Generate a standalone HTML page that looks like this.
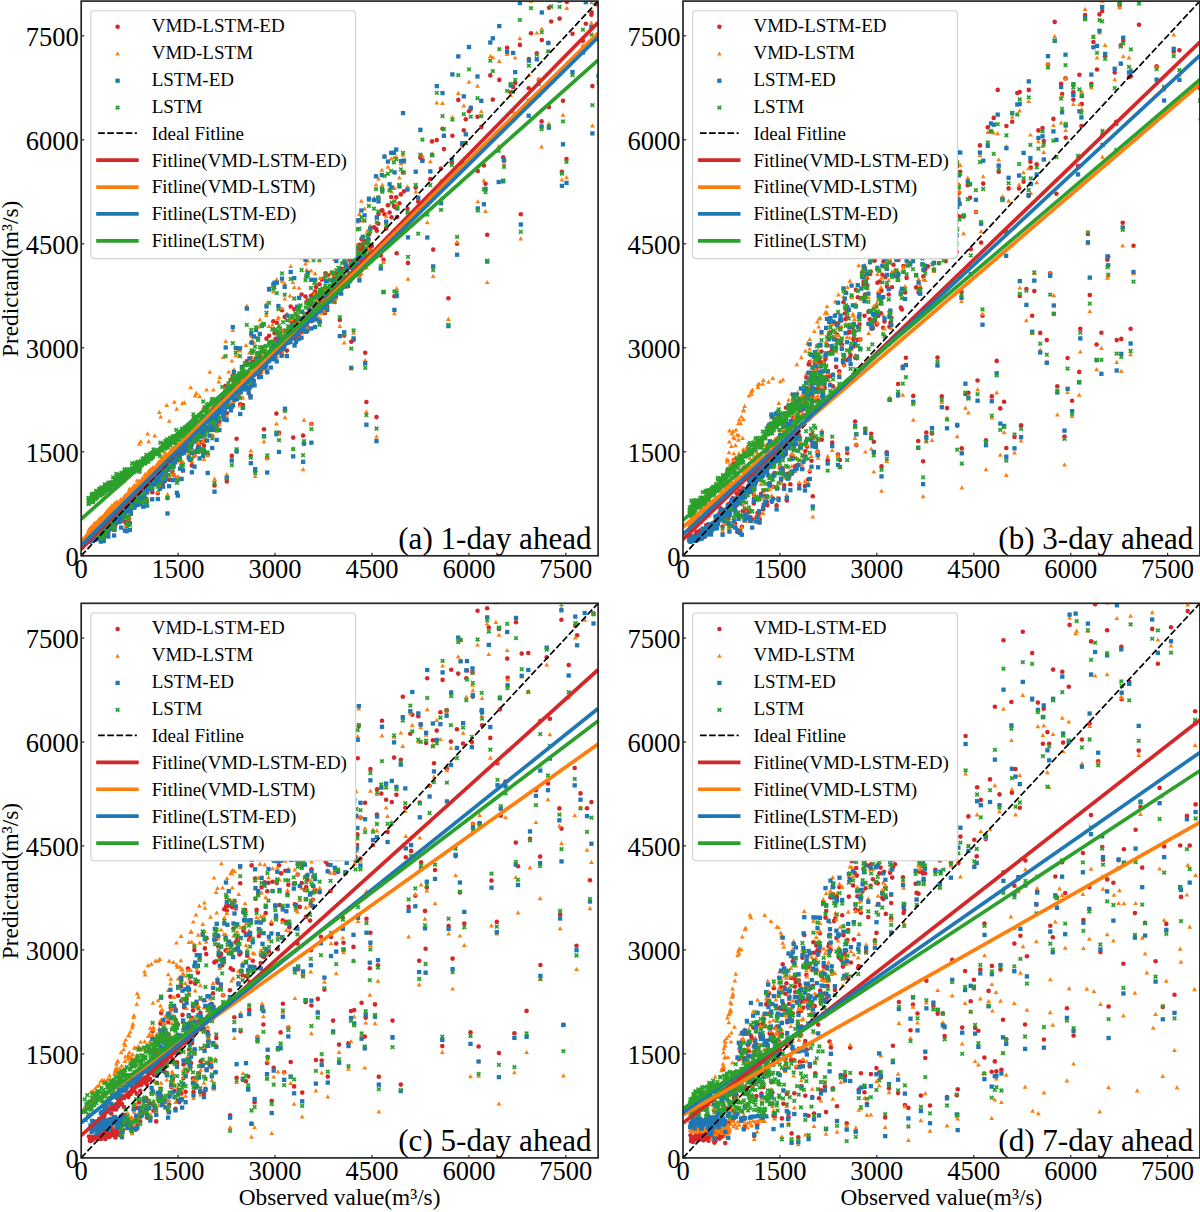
<!DOCTYPE html><html><head><meta charset="utf-8"><style>html,body{margin:0;padding:0;background:#fff;overflow:hidden}svg{display:block}text{font-family:"Liberation Serif",serif;fill:#000}</style></head><body><svg width="1200" height="1212" viewBox="0 0 1200 1212"><defs><marker id="mr" markerUnits="userSpaceOnUse" markerWidth="8" markerHeight="8" refX="4" refY="4" overflow="visible"><circle cx="4" cy="4" r="2.3" fill="#d62728"/></marker><marker id="mo" markerUnits="userSpaceOnUse" markerWidth="8" markerHeight="8" refX="4" refY="4" overflow="visible"><path d="M4 1.8L6.4 6H1.6Z" fill="#ff7f0e"/></marker><marker id="mb" markerUnits="userSpaceOnUse" markerWidth="8" markerHeight="8" refX="4" refY="4" overflow="visible"><rect x="1.85" y="1.85" width="4.3" height="4.3" fill="#1f77b4"/></marker><marker id="mg" markerUnits="userSpaceOnUse" markerWidth="8" markerHeight="8" refX="4" refY="4" overflow="visible"><path d="M2.2 2.2L5.8 5.8M5.8 2.2L2.2 5.8" stroke="#2ca02c" stroke-width="1.7"/></marker><clipPath id="cla"><rect x="81.2" y="1.1" width="516.9" height="554.7"/></clipPath><clipPath id="clb"><rect x="683.0" y="1.1" width="516.9" height="554.7"/></clipPath><clipPath id="clc"><rect x="81.2" y="603.3" width="516.9" height="554.6"/></clipPath><clipPath id="cld"><rect x="683.0" y="603.3" width="516.9" height="554.6"/></clipPath></defs><g clip-path="url(#cla)"><polyline fill="none" stroke="none" marker-start="url(#mr)" marker-mid="url(#mr)" marker-end="url(#mr)" points="192.1,439.7 181.9,449.2 122.9,515.3 186.1,447.4 179.7,452.3 170.4,462.1 144.4,490.6 115.6,520.9 140.0,493.9 132.6,502.8 121.6,510.9 126.3,506.8 144.3,488.6 162.6,468.6 104.7,531.3 112.0,522.7 125.7,505.9 92.5,538.2 163.1,466.0 105.8,532.4 197.0,433.2 154.3,475.4 89.9,540.1 122.2,514.4 129.4,506.8 88.7,541.4 136.3,499.7 121.9,515.2 197.4,433.2 183.6,447.4 185.1,449.0 111.2,522.8 138.5,497.3 135.3,504.2 160.3,467.5 93.2,537.4 133.0,503.8 145.1,490.4 137.2,499.1 166.8,464.6 192.4,437.9 156.9,477.9 161.6,473.2 112.4,527.2 152.6,477.9 176.7,453.1 126.9,510.7 116.2,517.4 110.6,525.1 178.1,454.5 157.1,474.8 192.8,437.8 100.6,532.9 88.4,540.8 109.6,523.4 107.1,529.3 123.3,513.6 191.0,439.0 127.4,508.5 129.9,506.0 162.0,468.4 93.0,539.8 186.8,443.5 165.2,467.6 94.5,536.0 147.1,489.6 91.2,539.3 117.5,517.8 190.5,436.7 118.2,516.1 106.9,530.7 107.5,529.3 113.3,522.5 109.1,527.7 154.8,477.0 183.8,445.5 159.4,474.4 114.4,519.7 165.6,465.2 146.0,488.0 189.6,444.4 182.6,450.3 147.7,485.4 185.9,444.9 88.9,539.4 90.8,540.3 128.8,506.7 178.4,453.3 119.1,516.2 135.7,500.9 170.1,459.8 178.7,454.2 172.9,458.6 141.0,496.7 167.2,466.7 131.8,502.3 108.4,525.9 194.2,437.4 190.1,442.1 129.6,505.9 145.5,485.4 92.7,538.2 94.6,538.2 91.0,539.0 137.0,497.6 115.8,523.8 125.2,512.8 195.0,438.3 89.2,540.5 179.0,454.0 150.0,480.8 148.5,483.7 88.5,541.0 180.9,451.8 117.8,515.0 150.5,483.9 152.8,476.4 99.3,533.3 176.3,456.5 103.8,530.5 103.6,535.2 101.7,533.5 173.9,459.5 89.1,539.7 167.8,467.4 185.5,449.4 187.2,441.3 177.5,457.5 119.7,516.8 195.3,438.1 102.5,533.3 122.7,513.6 176.2,453.8 136.1,500.9 139.0,496.1 112.6,526.2 175.9,460.4 109.3,525.6 158.4,476.9 133.8,502.8 96.3,537.9 146.3,483.7 99.1,535.1 134.2,503.5 89.4,540.1 156.0,474.4 134.0,500.3 104.2,530.9 193.4,435.7 107.8,531.7 157.8,475.0 129.0,505.2 119.5,516.0 121.5,512.0 195.8,435.4 108.8,530.0 126.1,508.8 90.4,540.9 105.2,533.2 139.2,495.1 175.0,454.2 95.3,538.8 169.5,461.3 128.1,507.9 164.0,467.6 91.9,539.2 88.7,541.1 142.1,492.7 98.5,534.1 161.0,472.0 143.9,490.1 134.8,499.5 93.3,538.1 142.5,489.3 166.6,468.4 155.6,480.3 141.6,495.1 96.7,538.5 155.3,475.0 151.9,476.9 98.3,534.6 93.7,538.5 100.0,535.0 153.5,481.1 132.1,503.5 113.5,522.9 91.5,539.9 140.8,496.0 114.9,525.2 118.9,516.3 131.4,507.6 160.6,472.8 124.6,508.9 92.0,538.8 123.6,515.3 100.1,533.4 108.6,526.6 90.7,538.0 138.1,497.3 113.9,521.7 109.9,528.5 97.6,533.4 158.4,473.0 111.4,526.7 104.9,528.4 146.9,485.0 120.1,516.1 189.2,440.5 180.5,452.8 100.9,535.3 154.9,478.5 184.9,446.6 89.9,540.0 131.0,501.8 169.9,462.9 149.5,485.6 157.4,479.0 110.2,527.0 184.3,450.6 106.5,525.7 91.7,539.6 164.4,469.1 194.6,434.7 173.5,459.1 93.9,538.0 100.4,536.5 97.2,535.4 149.6,483.5 89.7,540.3 97.0,538.0 153.1,482.8 101.6,534.5 183.3,450.1 162.8,466.9 125.4,511.0 146.5,484.9 171.5,459.5 111.8,525.7 102.2,531.9 115.3,520.3 139.7,496.2 148.9,487.5 130.7,503.1 105.3,528.7 136.6,499.9 114.1,521.9 143.2,489.4 172.2,463.7 120.9,517.7 169.1,462.9 173.2,458.6 96.1,536.4 94.1,538.7 118.7,516.2 103.3,531.6 168.1,464.4 193.2,437.5 95.5,538.4 175.2,456.4 163.8,469.0 104.0,533.7 151.2,485.5 95.9,537.0 124.1,509.3 92.2,538.8 148.5,485.5 170.8,459.7 130.2,506.0 196.6,435.4 189.0,440.1 188.0,444.0 132.2,502.5 150.6,483.5 196.1,433.3 187.8,441.8 90.1,540.3 182.9,449.8 162.0,471.5 143.6,493.0 191.5,439.5 123.9,510.7 95.1,537.3 142.7,490.2 120.8,518.7 168.2,468.1 116.3,519.6 101.3,535.3 96.6,535.8 117.0,519.3 159.7,476.8 113.0,516.8 179.3,455.3 124.9,511.4 174.7,455.3 168.8,466.8 110.9,524.3 174.4,453.5 164.8,467.5 193.9,437.6 180.2,453.7 106.2,529.2 151.3,481.3 94.8,536.9 108.1,529.3 128.3,506.2 177.0,453.5 98.9,534.0 190.9,441.1 117.4,517.0 102.1,531.5 148.1,486.9 158.8,476.5 186.9,442.1 120.3,515.3 188.7,442.6 133.3,501.9 159.9,474.7 127.7,505.9 165.5,464.8 145.0,489.8 172.3,458.2 116.8,520.8 126.8,505.0 105.9,532.0 102.8,533.4 140.6,494.1 166.2,468.7 134.8,501.2 171.3,459.9 141.6,492.2 98.1,536.0 97.7,535.3 156.3,479.7 99.6,533.4 182.0,449.9 152.2,480.0 181.2,451.2 137.5,498.3 138.3,491.9 154.0,480.8 153.8,480.5 194.0,435.1 199.8,431.6 156.0,479.8 143.3,499.5 167.5,498.1 174.6,458.4 157.9,493.1 205.1,440.9 216.7,428.7 203.1,452.9 199.6,449.1 116.9,518.7 191.9,465.4 210.6,423.9 170.0,463.4 137.2,497.1 130.8,512.7 127.8,520.6 198.2,446.6 121.2,521.3 146.3,498.8 209.6,430.1 103.7,539.0 190.0,452.9 185.2,446.2 176.9,478.2 124.9,522.0 107.0,530.8 162.1,474.2 100.8,540.2 181.6,465.1 126.6,526.4 140.9,494.9 136.8,502.6 171.3,465.3 141.3,499.3 114.6,525.8 121.5,512.1 204.9,426.7 183.0,470.4 177.8,477.8 98.1,535.8 160.6,476.4 214.6,424.8 148.4,486.0 180.1,460.7 109.9,526.5 150.3,488.4 128.6,517.4 159.7,485.2 164.8,473.9 155.4,478.7 179.6,455.0 132.1,506.7 147.0,500.8 163.1,483.1 194.5,455.8 183.9,449.7 118.7,516.1 151.4,486.5 152.2,492.2 105.0,533.3 108.3,532.8 188.8,455.9 135.9,501.9 207.1,430.1 112.9,520.7 169.1,479.8 212.2,436.0 98.9,534.5 186.6,450.2 173.5,474.7 207.7,454.2 172.4,471.3 101.7,537.0 196.0,438.6 134.3,506.8 114.1,530.0 166.0,473.2 213.4,420.9 144.4,490.0 110.7,527.1 138.8,496.4 105.8,533.0 129.9,522.9 202.1,441.9 117.9,519.1 122.7,514.1 190.9,445.1 331.4,291.3 211.9,414.8 275.6,338.8 225.5,396.5 352.1,259.6 307.6,314.1 308.8,309.5 267.1,372.2 354.0,253.9 272.3,342.0 362.5,251.5 345.1,268.6 356.9,266.6 363.9,255.4 286.0,337.1 224.6,408.7 280.0,340.5 242.0,372.9 371.0,257.3 336.6,282.4 335.8,297.4 294.6,338.4 316.6,312.3 240.8,386.8 267.8,355.8 278.9,336.7 223.9,416.8 325.3,294.8 366.5,259.4 223.2,410.3 341.2,283.1 302.6,323.1 218.8,410.3 249.5,387.7 199.7,431.3 303.2,326.2 317.0,294.8 368.3,239.3 240.2,404.4 221.4,409.2 252.2,362.3 318.1,310.5 360.0,249.0 348.8,273.6 326.1,275.6 234.5,394.8 247.7,379.0 209.8,426.3 227.7,401.0 194.3,435.6 307.2,326.6 365.5,251.2 256.8,370.6 314.4,296.8 334.0,281.6 313.6,310.5 256.2,369.1 281.3,341.9 296.0,335.3 320.2,300.4 355.6,261.4 196.7,437.3 290.1,338.7 300.0,324.0 304.3,318.8 242.9,384.2 329.8,295.1 298.9,319.5 291.1,321.3 303.7,327.7 259.9,369.5 220.8,408.1 319.0,299.2 287.6,339.9 332.8,288.7 219.4,421.7 259.0,375.5 301.5,332.2 288.1,335.6 370.1,248.7 345.8,263.2 311.7,303.5 339.3,278.7 236.9,390.4 282.7,344.7 216.2,411.4 231.9,395.8 270.4,351.3 320.0,300.2 283.1,330.7 262.3,361.4 212.8,408.5 269.0,358.6 261.6,360.3 284.2,339.8 268.9,352.7 208.0,420.8 322.6,300.2 329.0,296.1 315.8,304.2 208.5,414.8 244.0,385.0 293.6,326.7 297.8,330.8 206.5,418.6 248.7,389.3 321.3,304.4 207.1,413.0 191.8,443.2 243.6,381.2 218.1,412.2 257.7,363.4 226.7,413.2 275.1,356.4 246.9,375.5 203.8,431.3 359.4,274.8 334.4,283.6 337.4,281.4 246.8,387.2 291.8,325.3 229.1,404.8 251.0,375.7 254.6,374.4 225.8,399.0 343.2,280.1 277.8,346.8 293.1,324.5 286.9,350.6 347.0,267.8 264.0,361.7 309.4,315.7 324.5,291.6 290.2,338.8 321.8,301.3 203.2,416.4 350.9,268.0 285.1,338.5 365.8,255.6 335.7,283.3 295.3,321.0 298.7,334.4 353.0,258.3 327.0,302.7 311.3,321.1 238.6,394.1 239.2,383.1 289.1,337.0 197.7,448.4 236.4,393.4 353.2,266.9 270.8,358.0 250.5,396.1 195.2,441.9 281.6,353.4 233.1,397.2 193.4,427.2 361.3,267.7 205.9,421.2 315.0,316.3 331.9,272.8 300.6,318.2 264.5,361.2 330.5,297.0 342.7,279.5 199.1,423.5 253.6,380.9 258.0,357.6 340.0,269.6 202.4,431.2 367.7,248.5 214.4,412.5 230.8,397.8 312.5,318.0 371.9,246.0 306.3,313.9 350.2,273.2 360.3,259.9 273.2,342.2 261.0,372.0 262.7,368.8 213.6,424.5 297.2,325.2 211.3,417.9 201.6,424.9 245.4,375.6 346.4,286.4 369.3,258.6 276.8,344.9 200.9,422.1 217.8,412.2 272.0,356.1 327.2,306.8 204.8,420.5 323.7,297.4 265.1,360.4 349.4,277.5 279.7,339.4 233.7,384.4 358.3,253.6 255.0,360.7 222.4,397.6 196.5,432.7 276.7,353.5 228.4,396.0 193.6,435.3 338.4,277.2 342.0,273.1 232.4,380.1 216.7,411.1 266.1,354.2 273.9,351.5 362.8,248.0 235.7,384.3 237.8,378.3 328.2,293.4 230.4,387.2 191.9,452.8 355.2,256.1 344.4,276.7 210.0,419.7 310.5,304.8 305.8,322.3 214.8,419.7 357.1,258.2 348.1,281.7 198.8,444.5 244.8,375.5 364.8,261.2 252.5,380.0 299.1,319.9 357.4,247.5 341.1,268.5 307.8,300.2 274.5,333.1 389.6,212.5 279.9,336.0 387.9,205.2 289.2,330.7 261.7,347.5 352.3,243.7 232.8,376.1 397.2,217.0 315.9,287.1 228.0,394.1 284.7,316.9 246.8,361.2 374.0,227.3 278.4,334.2 343.0,253.2 311.0,295.7 336.3,273.5 370.3,245.3 251.3,358.2 225.7,385.8 330.3,286.4 306.6,302.6 315.1,291.6 396.2,197.3 287.1,330.8 302.3,319.2 290.7,306.6 292.5,321.6 381.9,210.5 251.6,364.3 256.0,358.6 266.5,338.6 361.4,239.0 319.4,284.3 297.2,314.9 271.3,352.9 240.0,373.6 350.3,251.9 294.2,309.1 301.6,294.5 327.0,289.9 305.5,296.5 225.0,408.6 259.8,355.7 355.6,251.3 367.3,243.2 269.1,335.7 325.5,273.4 238.4,377.3 364.6,240.9 233.9,388.7 338.8,257.1 320.0,294.4 313.5,294.2 258.0,353.3 376.8,230.7 359.3,244.7 249.4,374.2 328.0,275.2 253.9,366.4 334.4,277.2 404.0,191.3 263.6,350.8 349.3,259.8 321.9,279.6 344.3,280.5 384.5,214.3 400.9,194.4 273.3,321.3 230.4,393.5 276.8,322.7 393.9,205.7 245.4,380.1 376.0,228.7 333.3,284.8 391.6,217.2 235.8,379.0 378.3,223.8 282.0,310.2 241.9,379.6 368.9,234.5 346.2,265.4 362.8,245.2 399.4,203.2 382.3,210.4 344.2,335.6 325.0,313.0 334.4,301.5 226.8,481.4 339.8,320.0 353.6,339.9 285.0,410.1 276.4,413.6 311.4,424.0 365.2,352.8 351.3,341.7 376.5,417.1 279.0,432.9 293.2,437.6 214.5,485.4 319.6,321.9 303.1,435.6 264.0,429.3 255.2,471.3 242.9,405.1 217.3,425.2 204.0,445.8 250.8,455.9 366.4,402.0 231.8,455.9 236.6,438.7 304.0,443.3 267.2,458.2 415.7,187.6 481.3,127.1 507.1,47.8 499.3,79.9 566.8,2.0 442.5,128.8 585.8,23.8 582.9,-17.2 536.8,53.2 458.3,99.9 513.1,87.0 596.2,4.3 386.2,228.4 469.0,111.3 541.8,40.1 432.1,141.4 443.9,149.1 559.6,18.6 490.3,75.4 407.5,208.8 391.2,197.0 378.5,213.9 436.8,140.1 420.4,157.8 576.5,-16.6 600.3,-24.4 510.7,92.2 519.9,44.9 463.8,130.2 551.2,21.5 591.6,12.4 422.4,160.0 549.1,7.7 492.8,99.6 528.9,59.1 531.0,33.3 569.5,-14.3 394.6,206.9 452.4,135.7 470.8,108.9 403.0,172.4 477.5,116.7 503.2,157.2 441.0,168.5 477.8,171.0 572.5,33.7 538.9,79.9 498.7,132.4 548.9,107.1 427.3,204.5 598.6,39.2 402.2,233.1 548.3,43.1 451.8,162.8 515.2,83.0 563.0,100.7 528.7,88.3 396.7,253.3 462.3,144.9 483.9,165.5 380.8,255.5 418.2,201.6 582.9,40.8 591.4,14.8 465.8,119.3 383.5,259.8 430.3,179.1 487.2,234.8 541.6,121.4 566.5,159.0 504.0,160.6 561.9,171.9 408.0,262.9 457.1,243.8 485.5,183.7 448.4,298.3 394.4,296.3 592.4,86.1 433.2,249.6 520.8,214.3"/><polyline fill="none" stroke="none" marker-start="url(#mo)" marker-mid="url(#mo)" marker-end="url(#mo)" points="192.1,431.7 181.9,441.8 122.9,499.4 186.1,436.2 179.7,440.1 170.4,454.1 144.4,477.5 115.6,507.5 140.0,484.1 132.6,492.7 121.6,500.2 126.3,499.6 144.3,477.8 162.6,459.2 104.7,514.6 112.0,507.3 125.7,495.0 92.5,529.1 163.1,458.3 105.8,516.7 197.0,430.4 154.3,468.7 89.9,531.7 122.2,499.9 129.4,489.5 88.7,534.6 136.3,486.0 121.9,501.7 197.4,426.7 183.6,442.3 185.1,439.6 111.2,507.7 138.5,484.1 135.3,488.2 160.3,460.1 93.2,528.2 133.0,494.5 145.1,479.5 137.2,487.7 166.8,456.5 192.4,428.8 156.9,465.4 161.6,462.7 112.4,510.4 152.6,469.0 176.7,446.2 126.9,496.2 116.2,502.8 110.6,510.4 178.1,445.8 157.1,465.0 192.8,429.3 100.6,520.3 88.4,531.2 109.6,510.0 107.1,515.7 123.3,500.3 191.0,431.6 127.4,493.5 129.9,492.3 162.0,459.2 93.0,528.2 186.8,434.7 165.2,452.1 94.5,522.8 147.1,474.5 91.2,527.3 117.5,504.1 190.5,430.8 118.2,503.0 106.9,511.0 107.5,514.1 113.3,508.4 109.1,508.1 154.8,467.2 183.8,439.1 159.4,464.4 114.4,503.3 165.6,455.3 146.0,477.3 189.6,430.8 182.6,441.3 147.7,474.3 185.9,436.4 88.9,529.5 90.8,530.9 128.8,491.8 178.4,444.8 119.1,503.8 135.7,486.5 170.1,455.1 178.7,446.2 172.9,450.2 141.0,483.8 167.2,454.7 131.8,493.5 108.4,511.9 194.2,429.2 190.1,431.8 129.6,488.5 145.5,479.4 92.7,527.4 94.6,525.3 91.0,528.6 137.0,480.4 115.8,507.6 125.2,499.8 195.0,431.2 89.2,530.1 179.0,445.4 150.0,474.2 148.5,471.1 88.5,531.6 180.9,442.9 117.8,502.8 150.5,469.0 152.8,467.2 99.3,523.7 176.3,443.2 103.8,517.2 103.6,516.4 101.7,520.4 173.9,451.5 89.1,530.3 167.8,458.3 185.5,440.4 187.2,436.0 177.5,447.6 119.7,503.1 195.3,426.7 102.5,517.0 122.7,499.1 176.2,445.9 136.1,489.9 139.0,480.6 112.6,508.8 175.9,449.2 109.3,511.2 158.4,462.0 133.8,485.8 96.3,524.3 146.3,475.6 99.1,524.0 134.2,489.4 89.4,528.9 156.0,465.8 134.0,488.6 104.2,519.1 193.4,430.1 107.8,513.5 157.8,468.0 129.0,494.2 119.5,507.2 121.5,501.4 195.8,429.2 108.8,517.3 126.1,497.3 90.4,532.3 105.2,520.0 139.2,485.8 175.0,446.6 95.3,523.5 169.5,455.8 128.1,494.1 164.0,459.5 91.9,526.4 88.7,533.3 142.1,481.8 98.5,520.1 161.0,462.4 143.9,479.2 134.8,485.1 93.3,528.7 142.5,478.2 166.6,459.2 155.6,469.3 141.6,481.2 96.7,523.5 155.3,467.6 151.9,473.9 98.3,520.6 93.7,527.3 100.0,518.8 153.5,470.8 132.1,488.1 113.5,506.1 91.5,529.2 140.8,481.7 114.9,509.1 118.9,506.0 131.4,490.4 160.6,462.5 124.6,497.2 92.0,527.7 123.6,500.5 100.1,517.8 108.6,509.7 90.7,528.8 138.1,485.4 113.9,504.2 109.9,511.1 97.6,525.7 158.4,466.7 111.4,509.9 104.9,514.6 146.9,479.0 120.1,500.5 189.2,434.8 180.5,445.2 100.9,520.5 154.9,471.6 184.9,438.4 89.9,528.5 131.0,493.6 169.9,456.5 149.5,471.4 157.4,466.7 110.2,512.3 184.3,438.9 106.5,514.4 91.7,526.1 164.4,458.1 194.6,429.0 173.5,447.6 93.9,529.4 100.4,524.6 97.2,521.4 149.6,472.6 89.7,532.0 97.0,523.7 153.1,468.5 101.6,518.7 183.3,438.4 162.8,457.0 125.4,495.2 146.5,475.8 171.5,451.0 111.8,505.5 102.2,520.4 115.3,507.0 139.7,481.8 148.9,471.2 130.7,490.0 105.3,513.1 136.6,484.9 114.1,507.4 143.2,480.7 172.2,451.8 120.9,504.8 169.1,454.3 173.2,450.4 96.1,524.0 94.1,525.9 118.7,504.6 103.3,521.8 168.1,457.2 193.2,427.7 95.5,530.2 175.2,449.3 163.8,460.6 104.0,516.5 151.2,473.4 95.9,524.9 124.1,496.6 92.2,527.5 148.5,476.7 170.8,450.9 130.2,494.7 196.6,424.5 189.0,434.9 188.0,438.0 132.2,488.5 150.6,470.6 196.1,426.9 187.8,432.9 90.1,530.1 182.9,441.4 162.0,459.4 143.6,479.0 191.5,432.5 123.9,499.7 95.1,525.0 142.7,478.3 120.8,499.3 168.2,460.8 116.3,504.8 101.3,519.5 96.6,523.2 117.0,501.5 159.7,464.5 113.0,505.9 179.3,442.6 124.9,498.9 174.7,451.1 168.8,453.0 110.9,512.4 174.4,448.0 164.8,454.6 193.9,428.0 180.2,443.3 106.2,515.9 151.3,469.4 94.8,523.8 108.1,513.2 128.3,496.9 177.0,444.8 98.9,519.8 190.9,429.2 117.4,504.8 102.1,517.1 148.1,473.9 158.8,467.1 186.9,433.3 120.3,502.9 188.7,432.9 133.3,489.1 159.9,464.5 127.7,496.0 165.5,458.2 145.0,474.0 172.3,449.0 116.8,503.3 126.8,495.1 105.9,514.0 102.8,516.2 140.6,481.7 166.2,457.5 134.8,489.5 171.3,449.5 141.6,483.1 98.1,524.9 97.7,524.3 156.3,467.0 99.6,521.7 182.0,439.7 152.2,470.6 181.2,444.2 137.5,485.3 138.3,484.9 154.0,470.7 153.8,476.2 194.0,438.7 199.8,434.0 156.0,475.6 143.3,502.0 167.5,494.3 174.6,454.5 157.9,491.4 205.1,437.4 216.7,430.8 203.1,441.0 199.6,446.2 116.9,514.9 191.9,460.9 210.6,417.5 170.0,462.4 137.2,494.6 130.8,509.3 127.8,516.9 198.2,440.9 121.2,520.4 146.3,492.8 209.6,425.4 103.7,538.5 190.0,444.8 185.2,443.9 176.9,477.6 124.9,518.1 107.0,531.4 162.1,467.2 100.8,536.2 181.6,466.8 126.6,525.3 140.9,490.2 136.8,492.9 171.3,461.7 141.3,499.3 114.6,521.0 121.5,512.6 204.9,424.5 183.0,461.8 177.8,476.3 98.1,534.9 160.6,473.7 214.6,418.4 148.4,484.8 180.1,461.3 109.9,523.2 150.3,488.5 128.6,518.4 159.7,485.2 164.8,473.8 155.4,476.9 179.6,451.8 132.1,503.8 147.0,499.7 163.1,479.3 194.5,455.0 183.9,445.2 118.7,517.0 151.4,479.0 152.2,486.8 105.0,528.3 108.3,532.9 188.8,453.4 135.9,494.9 207.1,429.6 112.9,524.8 169.1,476.3 212.2,435.2 98.9,531.9 186.6,442.4 173.5,474.1 207.7,455.3 172.4,470.2 101.7,537.7 196.0,429.3 134.3,501.0 114.1,526.0 166.0,467.3 213.4,424.4 144.4,488.9 110.7,524.3 138.8,498.5 105.8,530.7 129.9,517.6 202.1,430.2 117.9,518.5 122.7,510.1 190.9,443.8 174.3,401.7 246.0,345.1 281.9,308.1 277.9,318.6 206.6,389.6 196.3,393.0 259.9,319.5 292.9,282.1 268.7,326.1 160.7,416.6 182.4,402.9 250.6,341.7 154.8,435.4 238.0,349.2 223.3,357.0 219.7,376.9 228.7,371.6 148.7,441.2 139.2,443.8 140.8,441.3 209.8,371.7 272.5,324.6 290.0,295.4 190.7,387.3 239.1,355.2 266.3,315.1 184.5,402.4 284.8,298.4 159.3,412.0 218.8,381.5 213.4,389.6 255.7,337.3 166.7,405.0 199.6,396.3 169.2,420.7 252.1,340.2 195.1,395.4 176.8,408.8 147.6,433.5 231.9,360.6 331.4,287.6 211.9,410.4 275.6,344.3 225.5,398.6 352.1,264.9 307.6,318.8 308.8,317.4 267.1,368.2 354.0,257.2 272.3,340.9 362.5,253.9 345.1,266.2 356.9,268.1 363.9,257.4 286.0,333.0 224.6,404.1 280.0,336.4 242.0,379.6 371.0,260.6 336.6,288.3 335.8,297.6 294.6,345.8 316.6,315.3 240.8,388.2 267.8,360.5 278.9,336.7 223.9,409.6 325.3,285.6 366.5,267.5 223.2,404.2 341.2,285.6 302.6,329.8 218.8,405.3 249.5,376.2 199.7,427.2 303.2,328.2 317.0,299.6 368.3,247.5 240.2,405.6 221.4,402.1 252.2,357.9 318.1,305.2 360.0,256.5 348.8,272.8 326.1,280.6 234.5,395.9 247.7,372.1 209.8,427.9 227.7,403.5 194.3,429.5 307.2,327.2 365.5,256.2 256.8,365.0 314.4,293.6 334.0,287.7 313.6,310.3 256.2,361.4 281.3,342.1 296.0,333.9 320.2,306.4 355.6,261.0 196.7,431.5 290.1,332.8 300.0,322.0 304.3,322.0 242.9,380.8 329.8,297.4 298.9,322.2 291.1,319.2 303.7,325.0 259.9,364.5 220.8,407.1 319.0,301.8 287.6,337.3 332.8,291.5 219.4,424.6 259.0,368.2 301.5,329.3 288.1,338.1 370.1,259.4 345.8,265.9 311.7,312.4 339.3,280.4 236.9,389.0 282.7,353.4 216.2,408.8 231.9,402.7 270.4,356.0 320.0,297.6 283.1,330.5 262.3,352.8 212.8,405.5 269.0,355.9 261.6,362.9 284.2,343.2 268.9,351.7 208.0,419.3 322.6,302.3 329.0,296.6 315.8,306.6 208.5,408.0 244.0,385.2 293.6,326.9 297.8,328.0 206.5,415.3 248.7,391.5 321.3,313.3 207.1,412.3 191.8,435.9 243.6,376.8 218.1,409.0 257.7,355.4 226.7,416.1 275.1,359.2 246.9,379.9 203.8,429.0 359.4,276.8 334.4,287.1 337.4,284.4 246.8,382.8 291.8,330.3 229.1,404.2 251.0,381.2 254.6,373.1 225.8,398.1 343.2,283.4 277.8,341.9 293.1,324.6 286.9,354.7 347.0,264.1 264.0,361.8 309.4,315.0 324.5,289.0 290.2,340.8 321.8,298.6 203.2,407.5 350.9,262.4 285.1,343.0 365.8,256.5 335.7,284.4 295.3,332.9 298.7,331.7 353.0,256.5 327.0,297.1 311.3,319.6 238.6,392.7 239.2,377.1 289.1,336.9 197.7,449.9 236.4,386.1 353.2,265.7 270.8,352.2 250.5,397.9 195.2,442.0 281.6,354.6 233.1,401.1 193.4,428.4 361.3,273.0 205.9,427.6 315.0,318.8 331.9,273.4 300.6,317.8 264.5,359.1 330.5,300.2 342.7,273.8 199.1,422.6 253.6,374.6 258.0,359.3 340.0,275.0 202.4,427.4 367.7,248.5 214.4,416.4 230.8,405.0 312.5,313.6 371.9,249.9 306.3,315.5 350.2,275.2 360.3,267.1 273.2,343.9 261.0,370.9 262.7,368.7 213.6,411.9 297.2,327.6 211.3,413.5 201.6,426.0 245.4,375.6 346.4,286.6 369.3,261.9 276.8,343.6 200.9,418.9 217.8,411.8 272.0,358.4 327.2,308.5 204.8,417.7 323.7,301.3 265.1,360.1 349.4,280.5 279.7,339.1 233.7,383.8 358.3,254.6 255.0,362.7 222.4,396.1 196.5,433.8 276.7,356.3 228.4,392.5 193.6,425.8 338.4,279.1 342.0,272.8 232.4,389.5 216.7,407.0 266.1,356.3 273.9,353.5 362.8,253.0 235.7,387.3 237.8,374.4 328.2,295.5 230.4,388.7 191.9,447.4 355.2,254.3 344.4,281.5 210.0,417.9 310.5,311.5 305.8,329.9 214.8,418.7 357.1,260.6 348.1,281.7 198.8,443.5 244.8,372.0 364.8,264.0 252.5,378.9 299.1,287.7 357.4,221.4 341.1,244.7 307.8,260.5 274.5,283.0 389.6,188.7 279.9,333.9 387.9,166.8 289.2,319.2 261.7,325.1 352.3,195.6 232.8,329.9 397.2,204.4 315.9,236.7 228.0,383.5 284.7,283.3 246.8,305.6 374.0,197.7 278.4,317.1 343.0,233.0 311.0,270.4 336.3,256.4 370.3,225.6 251.3,334.4 225.7,341.0 330.3,279.8 306.6,269.8 315.1,273.3 396.2,156.7 287.1,313.6 302.3,311.5 290.7,266.1 292.5,316.8 381.9,169.8 251.6,336.1 256.0,328.6 266.5,303.5 361.4,200.8 319.4,260.6 297.2,313.1 271.3,341.1 240.0,350.4 350.3,251.8 294.2,287.0 301.6,248.5 327.0,275.6 305.5,263.5 225.0,389.0 259.8,351.5 355.6,244.2 367.3,230.7 269.1,290.0 325.5,235.1 238.4,375.8 364.6,208.5 233.9,369.2 338.8,222.4 320.0,277.7 313.5,243.4 258.0,326.8 376.8,217.7 359.3,213.7 249.4,352.5 328.0,234.6 253.9,342.6 334.4,259.1 404.0,162.1 263.6,324.2 349.3,204.4 321.9,244.0 344.3,246.7 384.5,155.8 400.9,163.5 273.3,291.4 230.4,378.8 276.8,279.3 393.9,157.2 245.4,370.9 376.0,184.6 333.3,274.5 391.6,191.6 235.8,355.2 378.3,196.8 282.0,280.9 241.9,366.1 368.9,200.3 346.2,253.1 362.8,220.6 399.4,177.4 382.3,184.8 344.2,342.4 325.0,311.1 334.4,301.4 226.8,474.3 339.8,326.0 353.6,332.7 285.0,417.2 276.4,423.5 311.4,423.8 365.2,360.1 351.3,368.6 376.5,436.5 279.0,433.8 293.2,448.5 214.5,478.8 319.6,317.8 303.1,469.2 264.0,441.2 255.2,475.9 242.9,397.5 217.3,429.7 204.0,458.9 250.8,450.4 366.4,411.8 231.8,459.6 236.6,451.7 304.0,419.8 267.2,458.0 415.7,191.4 481.3,111.3 507.1,54.0 499.3,60.9 566.8,8.0 442.5,103.0 585.8,-3.7 582.9,-57.6 536.8,32.6 458.3,92.9 513.1,111.5 596.2,-32.4 386.2,216.2 469.0,81.7 541.8,28.6 432.1,153.3 443.9,134.9 559.6,0.2 490.3,56.0 407.5,186.5 391.2,158.6 378.5,178.4 436.8,102.5 420.4,130.2 576.5,-42.6 600.3,-40.5 510.7,95.0 519.9,38.3 463.8,105.5 551.2,-6.5 591.6,-4.8 422.4,155.6 549.1,-8.1 492.8,57.1 528.9,74.7 531.0,0.8 569.5,-14.1 394.6,187.9 452.4,116.9 470.8,106.6 403.0,154.7 477.5,85.7 503.2,181.2 441.0,180.4 477.8,201.3 572.5,60.1 538.9,78.6 498.7,145.9 548.9,123.4 427.3,222.3 598.6,73.3 402.2,225.9 548.3,51.1 451.8,176.9 515.2,57.6 563.0,114.7 528.7,100.3 396.7,288.3 462.3,146.3 483.9,180.2 380.8,266.7 418.2,197.4 582.9,45.3 591.4,22.8 465.8,142.7 383.5,261.9 430.3,161.3 487.2,282.1 541.6,146.5 566.5,177.2 504.0,163.9 561.9,179.4 408.0,278.7 457.1,241.8 485.5,210.9 448.4,318.9 394.4,313.2 592.4,125.4 433.2,276.0 520.8,238.5"/><polyline fill="none" stroke="none" marker-start="url(#mb)" marker-mid="url(#mb)" marker-end="url(#mb)" points="192.1,441.0 181.9,453.6 122.9,514.0 186.1,449.9 179.7,451.6 170.4,466.3 144.4,491.0 115.6,519.1 140.0,497.1 132.6,505.1 121.6,512.5 126.3,509.6 144.3,488.2 162.6,474.2 104.7,531.5 112.0,526.6 125.7,509.3 92.5,539.5 163.1,473.3 105.8,530.9 197.0,433.4 154.3,484.0 89.9,541.0 122.2,519.6 129.4,507.3 88.7,540.9 136.3,498.6 121.9,518.3 197.4,434.7 183.6,451.2 185.1,449.7 111.2,523.2 138.5,497.9 135.3,501.4 160.3,468.9 93.2,537.7 133.0,502.7 145.1,491.5 137.2,497.2 166.8,468.6 192.4,441.3 156.9,476.5 161.6,471.7 112.4,524.2 152.6,480.7 176.7,452.3 126.9,511.2 116.2,520.7 110.6,524.8 178.1,454.1 157.1,475.0 192.8,436.8 100.6,536.1 88.4,540.0 109.6,524.5 107.1,529.0 123.3,513.9 191.0,438.8 127.4,505.9 129.9,504.2 162.0,470.4 93.0,540.1 186.8,443.1 165.2,469.0 94.5,539.1 147.1,492.2 91.2,540.7 117.5,519.7 190.5,444.1 118.2,521.4 106.9,526.1 107.5,532.4 113.3,524.6 109.1,528.9 154.8,479.1 183.8,452.8 159.4,476.0 114.4,520.8 165.6,467.5 146.0,492.6 189.6,441.5 182.6,448.4 147.7,488.0 185.9,443.2 88.9,539.0 90.8,540.7 128.8,509.6 178.4,457.2 119.1,515.3 135.7,504.3 170.1,465.1 178.7,452.7 172.9,460.4 141.0,497.8 167.2,466.5 131.8,507.1 108.4,529.7 194.2,439.2 190.1,440.8 129.6,504.0 145.5,487.8 92.7,540.0 94.6,538.0 91.0,540.3 137.0,504.9 115.8,522.3 125.2,511.4 195.0,438.0 89.2,541.3 179.0,457.3 150.0,480.9 148.5,485.3 88.5,540.9 180.9,450.0 117.8,514.6 150.5,483.1 152.8,480.7 99.3,536.1 176.3,453.8 103.8,532.0 103.6,531.7 101.7,533.5 173.9,458.6 89.1,540.0 167.8,469.7 185.5,445.9 187.2,445.8 177.5,457.5 119.7,515.6 195.3,436.0 102.5,534.5 122.7,513.7 176.2,456.8 136.1,497.5 139.0,493.4 112.6,521.6 175.9,458.4 109.3,528.6 158.4,473.5 133.8,501.7 96.3,538.7 146.3,488.2 99.1,534.9 134.2,503.0 89.4,539.8 156.0,475.0 134.0,503.0 104.2,529.7 193.4,436.9 107.8,529.3 157.8,476.6 129.0,509.3 119.5,522.0 121.5,512.4 195.8,436.3 108.8,528.3 126.1,509.8 90.4,540.7 105.2,533.0 139.2,502.7 175.0,456.6 95.3,539.5 169.5,464.5 128.1,506.2 164.0,467.0 91.9,541.1 88.7,541.4 142.1,492.8 98.5,538.7 161.0,474.1 143.9,491.9 134.8,500.5 93.3,539.0 142.5,494.7 166.6,469.2 155.6,477.9 141.6,492.5 96.7,536.4 155.3,483.1 151.9,483.5 98.3,537.5 93.7,537.3 100.0,535.8 153.5,481.6 132.1,505.2 113.5,524.1 91.5,540.8 140.8,496.1 114.9,521.3 118.9,517.1 131.4,507.4 160.6,473.9 124.6,509.3 92.0,538.5 123.6,515.7 100.1,535.2 108.6,523.3 90.7,540.3 138.1,498.5 113.9,528.0 109.9,528.1 97.6,537.2 158.4,476.7 111.4,526.9 104.9,529.9 146.9,486.8 120.1,516.7 189.2,442.1 180.5,451.6 100.9,536.0 154.9,481.5 184.9,446.1 89.9,540.0 131.0,501.9 169.9,464.5 149.5,486.4 157.4,482.5 110.2,526.8 184.3,448.4 106.5,529.0 91.7,539.5 164.4,469.2 194.6,438.0 173.5,466.2 93.9,538.2 100.4,538.2 97.2,537.6 149.6,484.2 89.7,540.6 97.0,537.0 153.1,482.1 101.6,537.3 183.3,449.1 162.8,472.4 125.4,511.4 146.5,485.6 171.5,460.6 111.8,523.2 102.2,535.8 115.3,520.4 139.7,498.8 148.9,486.7 130.7,509.6 105.3,531.3 136.6,498.2 114.1,522.5 143.2,487.1 172.2,463.5 120.9,517.5 169.1,460.6 173.2,464.8 96.1,537.1 94.1,538.6 118.7,517.8 103.3,535.7 168.1,466.0 193.2,435.7 95.5,539.1 175.2,462.3 163.8,468.3 104.0,533.1 151.2,485.3 95.9,538.7 124.1,507.4 92.2,538.8 148.5,489.1 170.8,462.1 130.2,507.0 196.6,433.2 189.0,442.7 188.0,440.8 132.2,502.4 150.6,481.9 196.1,434.1 187.8,442.1 90.1,540.9 182.9,448.9 162.0,472.9 143.6,486.7 191.5,440.2 123.9,515.4 95.1,539.2 142.7,496.9 120.8,515.2 168.2,464.6 116.3,517.7 101.3,533.9 96.6,537.2 117.0,516.6 159.7,475.9 113.0,522.4 179.3,456.8 124.9,511.1 174.7,460.0 168.8,462.3 110.9,526.5 174.4,457.0 164.8,465.8 193.9,436.2 180.2,451.3 106.2,531.0 151.3,482.4 94.8,538.3 108.1,529.7 128.3,505.8 177.0,456.7 98.9,535.4 190.9,440.0 117.4,519.7 102.1,533.3 148.1,488.6 158.8,480.2 186.9,443.4 120.3,516.3 188.7,445.5 133.3,506.5 159.9,474.1 127.7,510.5 165.5,470.4 145.0,491.0 172.3,462.6 116.8,519.7 126.8,510.6 105.9,530.8 102.8,532.2 140.6,496.5 166.2,469.6 134.8,505.9 171.3,462.0 141.6,493.5 98.1,538.3 97.7,537.6 156.3,478.8 99.6,535.1 182.0,450.6 152.2,488.8 181.2,450.5 137.5,498.4 138.3,494.1 154.0,481.4 153.8,484.8 194.0,441.1 199.8,437.1 156.0,481.9 143.3,506.7 167.5,513.5 174.6,461.1 157.9,499.0 205.1,452.4 216.7,439.9 203.1,455.9 199.6,458.4 116.9,522.2 191.9,472.3 210.6,427.8 170.0,466.0 137.2,495.8 130.8,513.9 127.8,523.7 198.2,449.8 121.2,527.6 146.3,503.8 209.6,435.6 103.7,541.0 190.0,459.9 185.2,443.3 176.9,492.8 124.9,530.6 107.0,534.1 162.1,467.8 100.8,541.6 181.6,478.9 126.6,531.2 140.9,500.4 136.8,503.8 171.3,466.4 141.3,504.4 114.6,529.6 121.5,514.1 204.9,434.5 183.0,470.3 177.8,495.6 98.1,535.2 160.6,481.4 214.6,426.5 148.4,489.1 180.1,468.6 109.9,528.8 150.3,487.9 128.6,523.7 159.7,488.9 164.8,481.0 155.4,480.9 179.6,456.8 132.1,505.3 147.0,505.6 163.1,486.7 194.5,466.6 183.9,452.2 118.7,513.5 151.4,486.1 152.2,499.3 105.0,531.3 108.3,536.5 188.8,458.0 135.9,503.8 207.1,440.5 112.9,524.1 169.1,486.2 212.2,448.0 98.9,532.7 186.6,450.3 173.5,480.1 207.7,472.9 172.4,479.9 101.7,538.0 196.0,438.8 134.3,507.7 114.1,535.5 166.0,476.6 213.4,426.9 144.4,497.1 110.7,527.1 138.8,502.0 105.8,535.7 129.9,529.9 202.1,436.3 117.9,513.3 122.7,511.7 190.9,446.7 331.4,296.5 211.9,417.0 275.6,346.3 225.5,400.5 352.1,266.3 307.6,318.6 308.8,318.1 267.1,372.2 354.0,261.0 272.3,347.8 362.5,257.5 345.1,277.0 356.9,267.5 363.9,251.7 286.0,340.1 224.6,411.7 280.0,345.0 242.0,374.7 371.0,260.9 336.6,289.4 335.8,295.9 294.6,345.1 316.6,319.5 240.8,392.2 267.8,360.9 278.9,338.2 223.9,419.4 325.3,296.3 366.5,258.4 223.2,416.2 341.2,293.6 302.6,328.4 218.8,412.7 249.5,387.5 199.7,435.2 303.2,329.9 317.0,304.1 368.3,239.6 240.2,414.0 221.4,408.8 252.2,366.2 318.1,305.7 360.0,258.0 348.8,280.8 326.1,281.3 234.5,399.9 247.7,381.5 209.8,429.8 227.7,401.6 194.3,439.8 307.2,330.8 365.5,258.2 256.8,372.5 314.4,297.6 334.0,287.3 313.6,318.4 256.2,366.3 281.3,346.4 296.0,341.9 320.2,309.7 355.6,268.2 196.7,437.2 290.1,341.7 300.0,327.8 304.3,321.6 242.9,385.7 329.8,301.4 298.9,327.4 291.1,327.4 303.7,323.7 259.9,371.0 220.8,412.1 319.0,304.4 287.6,342.6 332.8,296.8 219.4,430.1 259.0,377.2 301.5,337.7 288.1,342.0 370.1,254.0 345.8,265.7 311.7,314.0 339.3,290.6 236.9,399.2 282.7,349.3 216.2,417.3 231.9,406.7 270.4,359.4 320.0,297.8 283.1,341.3 262.3,360.4 212.8,413.6 269.0,361.2 261.6,366.9 284.2,347.8 268.9,358.2 208.0,428.6 322.6,305.5 329.0,296.4 315.8,307.4 208.5,419.6 244.0,389.4 293.6,329.5 297.8,328.4 206.5,426.7 248.7,392.9 321.3,310.7 207.1,421.1 191.8,444.3 243.6,386.3 218.1,411.4 257.7,369.6 226.7,420.1 275.1,359.1 246.9,380.4 203.8,432.4 359.4,280.4 334.4,292.6 337.4,289.2 246.8,389.1 291.8,334.3 229.1,407.0 251.0,385.9 254.6,385.3 225.8,407.0 343.2,282.6 277.8,342.7 293.1,329.1 286.9,356.1 347.0,269.9 264.0,367.5 309.4,318.7 324.5,293.5 290.2,341.9 321.8,305.7 203.2,417.5 350.9,264.5 285.1,341.6 365.8,258.0 335.7,289.3 295.3,328.5 298.7,339.1 353.0,257.1 327.0,301.0 311.3,328.5 238.6,396.9 239.2,383.2 289.1,342.1 197.7,451.9 236.4,391.5 353.2,270.3 270.8,367.5 250.5,396.7 195.2,451.7 281.6,355.8 233.1,405.2 193.4,433.7 361.3,269.3 205.9,428.7 315.0,327.0 331.9,280.3 300.6,318.4 264.5,363.0 330.5,296.0 342.7,282.0 199.1,429.1 253.6,380.9 258.0,358.5 340.0,270.7 202.4,432.4 367.7,258.1 214.4,418.4 230.8,410.4 312.5,320.5 371.9,254.3 306.3,315.9 350.2,280.0 360.3,266.2 273.2,344.8 261.0,376.8 262.7,366.2 213.6,430.0 297.2,333.7 211.3,422.3 201.6,431.0 245.4,378.3 346.4,286.0 369.3,261.6 276.8,350.3 200.9,424.7 217.8,416.4 272.0,358.9 327.2,310.0 204.8,427.6 323.7,305.1 265.1,366.9 349.4,281.1 279.7,345.0 233.7,394.1 358.3,256.2 255.0,365.4 222.4,401.0 196.5,436.1 276.7,361.4 228.4,398.2 193.6,438.7 338.4,284.0 342.0,273.3 232.4,387.7 216.7,416.6 266.1,365.2 273.9,358.8 362.8,256.4 235.7,390.2 237.8,380.9 328.2,297.5 230.4,389.0 191.9,452.9 355.2,255.5 344.4,278.5 210.0,423.1 310.5,310.3 305.8,331.8 214.8,426.7 357.1,263.4 348.1,285.9 198.8,447.0 244.8,385.6 364.8,262.5 252.5,382.9 299.1,297.9 357.4,220.5 341.1,249.8 307.8,272.8 274.5,282.8 389.6,184.3 279.9,333.0 387.9,161.6 289.2,329.1 261.7,325.6 352.3,201.7 232.8,327.1 397.2,208.5 315.9,236.1 228.0,387.8 284.7,286.8 246.8,308.6 374.0,200.1 278.4,306.0 343.0,227.6 311.0,279.8 336.3,261.0 370.3,228.4 251.3,333.5 225.7,347.5 330.3,285.7 306.6,276.3 315.1,279.8 396.2,149.6 287.1,315.6 302.3,311.7 290.7,272.0 292.5,325.2 381.9,175.0 251.6,342.7 256.0,330.0 266.5,306.4 361.4,210.5 319.4,255.2 297.2,306.7 271.3,349.4 240.0,348.3 350.3,241.6 294.2,278.1 301.6,257.1 327.0,280.8 305.5,259.7 225.0,398.1 259.8,333.9 355.6,252.8 367.3,242.9 269.1,288.9 325.5,229.4 238.4,377.8 364.6,215.4 233.9,372.0 338.8,219.0 320.0,292.9 313.5,239.5 258.0,338.5 376.8,217.4 359.3,220.2 249.4,358.5 328.0,232.3 253.9,336.4 334.4,251.9 404.0,160.5 263.6,324.3 349.3,205.6 321.9,242.2 344.3,261.8 384.5,156.6 400.9,161.1 273.3,284.5 230.4,391.6 276.8,282.7 393.9,152.8 245.4,373.8 376.0,176.3 333.3,281.3 391.6,187.4 235.8,347.9 378.3,197.7 282.0,278.6 241.9,367.0 368.9,198.7 346.2,257.5 362.8,236.8 399.4,186.4 382.3,190.0 344.2,332.3 325.0,307.8 334.4,291.5 226.8,477.8 339.8,336.1 353.6,338.4 285.0,408.7 276.4,434.2 311.4,442.7 365.2,363.4 351.3,367.8 376.5,441.1 279.0,451.9 293.2,456.4 214.5,491.7 319.6,321.5 303.1,461.8 264.0,436.2 255.2,469.1 242.9,407.9 217.3,420.6 204.0,450.6 250.8,463.2 366.4,424.7 231.8,460.5 236.6,451.2 304.0,443.7 267.2,472.5 415.7,171.7 481.3,100.8 507.1,51.8 499.3,26.1 566.8,-21.5 442.5,93.1 585.8,2.2 582.9,-87.7 536.8,59.3 458.3,56.4 513.1,52.9 596.2,-32.5 386.2,221.7 469.0,47.0 541.8,12.5 432.1,155.0 443.9,135.8 559.6,0.5 490.3,42.5 407.5,189.5 391.2,152.8 378.5,201.4 436.8,86.1 420.4,129.8 576.5,-52.9 600.3,-81.9 510.7,85.4 519.9,3.1 463.8,96.4 551.2,-24.4 591.6,-8.1 422.4,160.9 549.1,-47.0 492.8,38.3 528.9,60.6 531.0,-18.5 569.5,-47.1 394.6,172.4 452.4,74.4 470.8,107.9 403.0,113.1 477.5,76.5 503.2,181.2 441.0,203.2 477.8,208.4 572.5,72.1 538.9,94.7 498.7,182.0 548.9,127.7 427.3,237.5 598.6,76.0 402.2,228.8 548.3,42.9 451.8,159.8 515.2,72.1 563.0,144.3 528.7,115.7 396.7,296.1 462.3,143.1 483.9,204.3 380.8,268.5 418.2,197.8 582.9,52.5 591.4,26.9 465.8,134.3 383.5,292.1 430.3,171.4 487.2,261.6 541.6,126.5 566.5,182.9 504.0,160.4 561.9,185.9 408.0,237.4 457.1,254.7 485.5,188.8 448.4,326.1 394.4,309.9 592.4,133.4 433.2,266.4 520.8,224.5"/><polyline fill="none" stroke="none" marker-start="url(#mg)" marker-mid="url(#mg)" marker-end="url(#mg)" points="192.1,426.8 181.9,436.5 122.9,477.3 186.1,432.2 179.7,432.3 170.4,445.7 144.4,461.5 115.6,482.4 140.0,467.5 132.6,468.1 121.6,474.2 126.3,470.6 144.3,463.0 162.6,447.9 104.7,486.4 112.0,485.1 125.7,471.0 92.5,501.8 163.1,443.6 105.8,490.7 197.0,422.9 154.3,452.1 89.9,498.8 122.2,475.9 129.4,471.2 88.7,501.3 136.3,464.8 121.9,477.5 197.4,420.6 183.6,436.2 185.1,434.4 111.2,484.8 138.5,464.1 135.3,469.5 160.3,442.7 93.2,500.6 133.0,469.7 145.1,461.7 137.2,467.5 166.8,439.4 192.4,424.7 156.9,450.2 161.6,447.4 112.4,482.3 152.6,452.5 176.7,437.4 126.9,476.1 116.2,473.8 110.6,488.3 178.1,434.3 157.1,453.9 192.8,424.7 100.6,495.6 88.4,497.9 109.6,483.5 107.1,489.1 123.3,477.4 191.0,427.0 127.4,473.8 129.9,472.1 162.0,450.3 93.0,502.1 186.8,428.8 165.2,441.1 94.5,497.7 147.1,457.0 91.2,500.3 117.5,476.5 190.5,429.5 118.2,484.5 106.9,485.0 107.5,487.1 113.3,482.3 109.1,487.5 154.8,452.7 183.8,432.4 159.4,450.3 114.4,484.0 165.6,446.8 146.0,458.8 189.6,426.2 182.6,432.9 147.7,461.6 185.9,427.6 88.9,499.3 90.8,500.4 128.8,475.8 178.4,435.0 119.1,474.5 135.7,467.0 170.1,437.7 178.7,436.0 172.9,436.2 141.0,461.1 167.2,445.0 131.8,468.5 108.4,482.6 194.2,426.0 190.1,426.1 129.6,469.3 145.5,461.8 92.7,496.9 94.6,495.8 91.0,500.2 137.0,464.6 115.8,481.2 125.2,477.8 195.0,426.5 89.2,499.8 179.0,438.9 150.0,459.3 148.5,455.2 88.5,503.8 180.9,436.0 117.8,482.1 150.5,454.8 152.8,456.9 99.3,495.0 176.3,429.9 103.8,491.1 103.6,490.4 101.7,493.4 173.9,442.2 89.1,501.9 167.8,447.7 185.5,432.6 187.2,426.6 177.5,439.6 119.7,477.7 195.3,424.5 102.5,494.1 122.7,473.7 176.2,437.0 136.1,469.8 139.0,467.3 112.6,482.6 175.9,442.8 109.3,484.4 158.4,452.5 133.8,469.3 96.3,497.6 146.3,454.8 99.1,489.2 134.2,465.8 89.4,501.6 156.0,450.3 134.0,471.9 104.2,488.6 193.4,423.3 107.8,485.5 157.8,453.5 129.0,472.9 119.5,479.6 121.5,472.8 195.8,423.4 108.8,487.3 126.1,476.6 90.4,500.9 105.2,491.6 139.2,471.9 175.0,437.1 95.3,499.1 169.5,442.3 128.1,471.5 164.0,446.6 91.9,498.8 88.7,503.9 142.1,463.4 98.5,493.3 161.0,448.2 143.9,458.2 134.8,471.0 93.3,500.4 142.5,458.8 166.6,446.1 155.6,453.0 141.6,465.3 96.7,491.4 155.3,452.1 151.9,457.4 98.3,494.1 93.7,495.3 100.0,491.7 153.5,449.4 132.1,463.5 113.5,485.4 91.5,499.8 140.8,462.7 114.9,481.8 118.9,477.8 131.4,472.7 160.6,449.5 124.6,469.4 92.0,493.9 123.6,481.2 100.1,488.7 108.6,488.9 90.7,498.6 138.1,465.5 113.9,484.0 109.9,484.2 97.6,495.1 158.4,452.5 111.4,485.7 104.9,484.4 146.9,458.7 120.1,481.0 189.2,428.3 180.5,432.9 100.9,489.6 154.9,452.1 184.9,427.5 89.9,502.1 131.0,471.2 169.9,443.8 149.5,458.9 157.4,454.3 110.2,490.2 184.3,431.5 106.5,485.7 91.7,495.2 164.4,446.9 194.6,425.1 173.5,441.0 93.9,493.8 100.4,494.8 97.2,497.4 149.6,455.8 89.7,501.8 97.0,495.2 153.1,455.2 101.6,491.6 183.3,431.1 162.8,446.9 125.4,472.0 146.5,456.8 171.5,439.4 111.8,486.8 102.2,493.4 115.3,479.0 139.7,470.9 148.9,455.7 130.7,470.9 105.3,487.9 136.6,465.4 114.1,479.5 143.2,459.3 172.2,442.5 120.9,482.8 169.1,444.0 173.2,440.5 96.1,490.9 94.1,493.9 118.7,478.1 103.3,491.2 168.1,444.1 193.2,424.1 95.5,497.6 175.2,442.6 163.8,446.6 104.0,493.1 151.2,458.5 95.9,496.2 124.1,471.8 92.2,499.0 148.5,461.7 170.8,438.8 130.2,473.2 196.6,422.4 189.0,425.1 188.0,431.9 132.2,469.9 150.6,453.3 196.1,421.6 187.8,428.0 90.1,501.5 182.9,434.1 162.0,450.6 143.6,461.4 191.5,427.8 123.9,473.9 95.1,496.4 142.7,462.2 120.8,477.6 168.2,441.4 116.3,481.0 101.3,487.3 96.6,493.7 117.0,477.8 159.7,449.5 113.0,477.3 179.3,435.2 124.9,475.9 174.7,437.9 168.8,442.4 110.9,482.5 174.4,436.4 164.8,446.6 193.9,425.0 180.2,435.3 106.2,490.7 151.3,457.0 94.8,498.4 108.1,488.0 128.3,473.3 177.0,438.0 98.9,490.9 190.9,424.1 117.4,482.9 102.1,489.8 148.1,458.6 158.8,451.7 186.9,429.3 120.3,476.5 188.7,431.4 133.3,468.9 159.9,456.2 127.7,472.1 165.5,448.5 145.0,463.7 172.3,439.4 116.8,481.9 126.8,469.1 105.9,489.2 102.8,489.5 140.6,462.0 166.2,444.1 134.8,463.0 171.3,439.2 141.6,464.7 98.1,493.9 97.7,495.6 156.3,451.2 99.6,494.3 182.0,428.7 152.2,456.2 181.2,432.1 137.5,461.8 138.3,462.5 154.0,452.3 153.8,476.3 194.0,440.1 199.8,436.2 156.0,471.4 143.3,501.1 167.5,497.9 174.6,455.1 157.9,486.7 205.1,435.1 216.7,429.4 203.1,449.1 199.6,451.0 116.9,513.7 191.9,458.4 210.6,422.6 170.0,465.0 137.2,490.6 130.8,506.0 127.8,515.9 198.2,439.8 121.2,513.5 146.3,499.8 209.6,421.9 103.7,537.0 190.0,448.2 185.2,441.1 176.9,482.9 124.9,517.3 107.0,525.5 162.1,465.8 100.8,538.7 181.6,466.0 126.6,523.3 140.9,494.7 136.8,501.4 171.3,458.5 141.3,501.5 114.6,526.3 121.5,514.0 204.9,425.9 183.0,465.0 177.8,480.4 98.1,535.7 160.6,466.6 214.6,424.9 148.4,480.3 180.1,459.8 109.9,526.7 150.3,488.2 128.6,518.7 159.7,483.8 164.8,474.6 155.4,473.1 179.6,448.8 132.1,506.8 147.0,504.2 163.1,478.3 194.5,451.2 183.9,445.2 118.7,510.6 151.4,479.8 152.2,487.7 105.0,530.2 108.3,530.4 188.8,451.1 135.9,498.5 207.1,431.5 112.9,521.3 169.1,474.7 212.2,438.4 98.9,532.1 186.6,442.9 173.5,466.9 207.7,452.4 172.4,470.2 101.7,534.7 196.0,437.3 134.3,497.5 114.1,529.1 166.0,470.2 213.4,421.9 144.4,492.8 110.7,525.1 138.8,494.6 105.8,534.0 129.9,525.0 202.1,427.4 117.9,513.7 122.7,508.6 190.9,444.1 331.4,286.3 211.9,400.0 275.6,329.4 225.5,392.7 352.1,255.6 307.6,303.6 308.8,300.4 267.1,355.2 354.0,258.2 272.3,329.1 362.5,254.4 345.1,270.0 356.9,260.1 363.9,251.8 286.0,330.4 224.6,395.2 280.0,328.5 242.0,368.5 371.0,255.3 336.6,279.8 335.8,291.1 294.6,335.8 316.6,307.0 240.8,375.0 267.8,351.7 278.9,325.8 223.9,401.7 325.3,285.8 366.5,262.6 223.2,403.0 341.2,281.4 302.6,321.6 218.8,400.2 249.5,375.8 199.7,420.7 303.2,321.6 317.0,295.2 368.3,241.2 240.2,398.1 221.4,396.1 252.2,353.0 318.1,303.3 360.0,246.7 348.8,274.9 326.1,274.5 234.5,382.3 247.7,365.1 209.8,414.9 227.7,396.9 194.3,429.6 307.2,321.8 365.5,252.7 256.8,354.9 314.4,282.8 334.0,273.8 313.6,302.3 256.2,360.1 281.3,336.5 296.0,327.2 320.2,293.4 355.6,262.1 196.7,424.6 290.1,334.6 300.0,312.0 304.3,315.5 242.9,368.8 329.8,286.5 298.9,309.7 291.1,317.5 303.7,321.8 259.9,353.0 220.8,402.5 319.0,294.9 287.6,333.7 332.8,287.4 219.4,418.4 259.0,360.9 301.5,326.4 288.1,326.5 370.1,253.1 345.8,253.8 311.7,298.9 339.3,277.1 236.9,381.6 282.7,340.6 216.2,402.2 231.9,390.1 270.4,342.3 320.0,289.7 283.1,322.2 262.3,347.3 212.8,398.9 269.0,345.2 261.6,351.6 284.2,336.7 268.9,341.8 208.0,412.6 322.6,288.5 329.0,289.3 315.8,297.1 208.5,403.9 244.0,376.4 293.6,324.4 297.8,319.2 206.5,410.6 248.7,377.5 321.3,297.6 207.1,405.2 191.8,426.1 243.6,370.4 218.1,399.2 257.7,353.5 226.7,405.3 275.1,348.8 246.9,364.8 203.8,422.1 359.4,271.4 334.4,287.1 337.4,275.8 246.8,380.5 291.8,315.9 229.1,393.7 251.0,365.0 254.6,365.3 225.8,390.9 343.2,274.9 277.8,330.8 293.1,316.6 286.9,339.1 347.0,256.4 264.0,351.4 309.4,306.2 324.5,278.0 290.2,329.7 321.8,290.5 203.2,401.5 350.9,263.0 285.1,334.6 365.8,247.8 335.7,282.9 295.3,313.2 298.7,324.5 353.0,255.9 327.0,287.6 311.3,302.5 238.6,386.2 239.2,373.4 289.1,329.3 197.7,434.9 236.4,375.7 353.2,265.4 270.8,349.0 250.5,382.9 195.2,429.5 281.6,345.9 233.1,386.0 193.4,414.3 361.3,263.7 205.9,413.5 315.0,306.9 331.9,272.3 300.6,305.3 264.5,351.0 330.5,295.5 342.7,271.6 199.1,416.6 253.6,363.4 258.0,354.4 340.0,273.8 202.4,421.4 367.7,243.6 214.4,406.5 230.8,395.9 312.5,310.6 371.9,255.0 306.3,302.7 350.2,273.5 360.3,254.0 273.2,329.3 261.0,362.5 262.7,360.9 213.6,411.7 297.2,316.9 211.3,402.9 201.6,418.1 245.4,365.2 346.4,285.3 369.3,258.4 276.8,333.4 200.9,416.1 217.8,401.0 272.0,341.9 327.2,301.1 204.8,406.8 323.7,293.8 265.1,346.6 349.4,278.0 279.7,333.5 233.7,377.8 358.3,252.5 255.0,346.7 222.4,386.9 196.5,424.1 276.7,351.1 228.4,383.3 193.6,417.1 338.4,267.7 342.0,263.1 232.4,376.3 216.7,404.2 266.1,345.9 273.9,342.7 362.8,242.9 235.7,378.4 237.8,376.1 328.2,292.4 230.4,380.1 191.9,443.1 355.2,252.8 344.4,278.5 210.0,410.9 310.5,301.9 305.8,307.4 214.8,405.7 357.1,253.9 348.1,278.1 198.8,432.0 244.8,363.2 364.8,256.4 252.5,366.9 299.1,306.7 357.4,229.4 341.1,246.7 307.8,275.2 274.5,287.2 389.6,190.4 279.9,335.4 387.9,173.8 289.2,326.7 261.7,326.0 352.3,209.8 232.8,343.2 397.2,207.4 315.9,236.4 228.0,389.7 284.7,294.7 246.8,324.8 374.0,208.7 278.4,309.0 343.0,246.3 311.0,288.0 336.3,270.3 370.3,231.6 251.3,330.0 225.7,356.1 330.3,279.8 306.6,275.3 315.1,282.5 396.2,159.1 287.1,320.4 302.3,318.9 290.7,279.0 292.5,329.9 381.9,188.4 251.6,350.5 256.0,327.3 266.5,312.7 361.4,217.2 319.4,259.4 297.2,309.0 271.3,350.0 240.0,356.2 350.3,249.9 294.2,298.5 301.6,270.0 327.0,290.8 305.5,280.0 225.0,400.9 259.8,347.3 355.6,247.7 367.3,235.5 269.1,302.8 325.5,239.2 238.4,385.4 364.6,220.5 233.9,385.5 338.8,228.3 320.0,290.0 313.5,260.2 258.0,340.0 376.8,222.3 359.3,228.6 249.4,363.3 328.0,238.9 253.9,351.1 334.4,250.7 404.0,172.7 263.6,324.0 349.3,211.4 321.9,245.3 344.3,259.5 384.5,175.9 400.9,169.3 273.3,288.8 230.4,394.5 276.8,293.2 393.9,162.4 245.4,373.5 376.0,189.1 333.3,283.2 391.6,202.6 235.8,352.6 378.3,211.4 282.0,273.3 241.9,370.5 368.9,205.9 346.2,257.8 362.8,238.3 399.4,184.7 382.3,191.9 344.2,334.6 325.0,306.8 334.4,302.2 226.8,478.6 339.8,317.1 353.6,330.4 285.0,410.8 276.4,432.4 311.4,429.1 365.2,367.8 351.3,348.6 376.5,428.5 279.0,440.1 293.2,449.2 214.5,483.0 319.6,324.8 303.1,455.2 264.0,436.6 255.2,473.0 242.9,407.1 217.3,429.4 204.0,452.5 250.8,457.7 366.4,415.0 231.8,465.1 236.6,449.2 304.0,441.2 267.2,455.4 415.7,185.0 481.3,116.1 507.1,90.9 499.3,49.1 566.8,-35.1 442.5,116.1 585.8,-5.7 582.9,-49.9 536.8,54.7 458.3,75.1 513.1,91.8 596.2,-34.6 386.2,225.5 469.0,69.3 541.8,32.2 432.1,155.4 443.9,129.1 559.6,6.8 490.3,60.7 407.5,212.5 391.2,170.8 378.5,198.4 436.8,92.8 420.4,154.6 576.5,-44.7 600.3,-64.6 510.7,83.9 519.9,19.8 463.8,114.2 551.2,6.5 591.6,2.2 422.4,139.6 549.1,-26.0 492.8,71.1 528.9,65.7 531.0,8.1 569.5,-8.4 394.6,201.2 452.4,119.6 470.8,116.6 403.0,152.8 477.5,98.1 503.2,180.4 441.0,209.9 477.8,210.5 572.5,75.0 538.9,84.2 498.7,150.9 548.9,126.2 427.3,214.5 598.6,82.3 402.2,232.1 548.3,51.4 451.8,165.0 515.2,79.8 563.0,121.4 528.7,100.8 396.7,292.5 462.3,163.9 483.9,189.4 380.8,265.9 418.2,233.7 582.9,29.7 591.4,34.7 465.8,143.0 383.5,291.8 430.3,185.0 487.2,260.7 541.6,129.0 566.5,161.9 504.0,166.8 561.9,173.5 408.0,256.8 457.1,236.9 485.5,192.2 448.4,324.8 394.4,291.4 592.4,105.2 433.2,270.2 520.8,231.8"/><line x1="81.2" y1="555.8" x2="598.1" y2="1.1" stroke="#000" stroke-width="1.7" stroke-dasharray="6.7 2.47"/><line x1="81.2" y1="549.2" x2="598.1" y2="22.6" stroke="#d62728" stroke-width="3.7"/><line x1="81.2" y1="541.2" x2="598.1" y2="33.1" stroke="#ff7f0e" stroke-width="3.7"/><line x1="81.2" y1="545.4" x2="598.1" y2="37.3" stroke="#1f77b4" stroke-width="3.7"/><line x1="81.2" y1="519.1" x2="598.1" y2="60.2" stroke="#2ca02c" stroke-width="3.7"/></g><rect x="90.8" y="10.799999999999999" width="264.8" height="247.8" rx="3.5" fill="#fff" fill-opacity="1" stroke="#d0d0d0" stroke-width="1.1"/><circle cx="117.6" cy="26.85" r="2.25" fill="#d62728"/><text x="151.7" y="31.85" font-size="19">VMD-LSTM-ED</text><path d="M117.6 51.48l2.35 4.1h-4.7z" fill="#ff7f0e"/><text x="151.7" y="58.78" font-size="19">VMD-LSTM</text><rect x="115.45" y="78.56" width="4.3" height="4.3" fill="#1f77b4"/><text x="151.7" y="85.71" font-size="19">LSTM-ED</text><path d="M115.80 105.84l3.6 3.6m0 -3.6l-3.6 3.6" stroke="#2ca02c" stroke-width="1.7"/><text x="151.7" y="112.64" font-size="19">LSTM</text><line x1="98.1" y1="133.17" x2="136.9" y2="133.17" stroke="#000" stroke-width="1.7" stroke-dasharray="6.7 2.47"/><text x="151.7" y="139.57" font-size="19">Ideal Fitline</text><line x1="96.2" y1="160.10" x2="138.7" y2="160.10" stroke="#d62728" stroke-width="3.7"/><text x="151.7" y="166.50" font-size="19">Fitline(VMD-LSTM-ED)</text><line x1="96.2" y1="187.03" x2="138.7" y2="187.03" stroke="#ff7f0e" stroke-width="3.7"/><text x="151.7" y="193.43" font-size="19">Fitline(VMD-LSTM)</text><line x1="96.2" y1="213.96" x2="138.7" y2="213.96" stroke="#1f77b4" stroke-width="3.7"/><text x="151.7" y="220.36" font-size="19">Fitline(LSTM-ED)</text><line x1="96.2" y1="240.89" x2="138.7" y2="240.89" stroke="#2ca02c" stroke-width="3.7"/><text x="151.7" y="247.29" font-size="19">Fitline(LSTM)</text><rect x="81.2" y="1.1" width="516.9" height="554.7" fill="none" stroke="#262626" stroke-width="1.7"/><line x1="81.2" y1="555.8" x2="81.2" y2="552.8" stroke="#262626" stroke-width="1.2"/><line x1="81.2" y1="555.8" x2="84.2" y2="555.8" stroke="#262626" stroke-width="1.2"/><text x="81.2" y="578.2" font-size="26.5" text-anchor="middle">0</text><text x="78.8" y="566.0" font-size="26.5" text-anchor="end">0</text><line x1="178.1" y1="555.8" x2="178.1" y2="552.8" stroke="#262626" stroke-width="1.2"/><line x1="81.2" y1="451.8" x2="84.2" y2="451.8" stroke="#262626" stroke-width="1.2"/><text x="178.1" y="578.2" font-size="26.5" text-anchor="middle">1500</text><text x="78.8" y="462.0" font-size="26.5" text-anchor="end">1500</text><line x1="275.0" y1="555.8" x2="275.0" y2="552.8" stroke="#262626" stroke-width="1.2"/><line x1="81.2" y1="347.8" x2="84.2" y2="347.8" stroke="#262626" stroke-width="1.2"/><text x="275.0" y="578.2" font-size="26.5" text-anchor="middle">3000</text><text x="78.8" y="358.0" font-size="26.5" text-anchor="end">3000</text><line x1="372.0" y1="555.8" x2="372.0" y2="552.8" stroke="#262626" stroke-width="1.2"/><line x1="81.2" y1="243.8" x2="84.2" y2="243.8" stroke="#262626" stroke-width="1.2"/><text x="372.0" y="578.2" font-size="26.5" text-anchor="middle">4500</text><text x="78.8" y="254.0" font-size="26.5" text-anchor="end">4500</text><line x1="468.9" y1="555.8" x2="468.9" y2="552.8" stroke="#262626" stroke-width="1.2"/><line x1="81.2" y1="139.8" x2="84.2" y2="139.8" stroke="#262626" stroke-width="1.2"/><text x="468.9" y="578.2" font-size="26.5" text-anchor="middle">6000</text><text x="78.8" y="150.0" font-size="26.5" text-anchor="end">6000</text><line x1="565.8" y1="555.8" x2="565.8" y2="552.8" stroke="#262626" stroke-width="1.2"/><line x1="81.2" y1="35.8" x2="84.2" y2="35.8" stroke="#262626" stroke-width="1.2"/><text x="565.8" y="578.2" font-size="26.5" text-anchor="middle">7500</text><text x="78.8" y="46.0" font-size="26.5" text-anchor="end">7500</text><text x="591.6" y="548.8" font-size="31.1" text-anchor="end">(a) 1-day ahead</text><g clip-path="url(#clb)"><polyline fill="none" stroke="none" marker-start="url(#mr)" marker-mid="url(#mr)" marker-end="url(#mr)" points="711.4,530.8 756.8,473.1 690.5,540.6 789.2,437.1 721.5,510.5 757.1,474.6 721.2,512.7 736.2,499.8 741.6,492.5 771.1,464.3 764.4,465.2 783.7,450.4 698.2,537.9 722.9,509.9 780.9,452.7 770.4,460.6 709.2,531.4 773.8,466.1 720.0,518.2 743.0,488.2 762.1,475.2 724.0,516.6 777.5,455.3 779.2,456.7 693.7,537.0 760.6,469.8 732.2,502.0 799.2,436.1 703.4,534.0 702.4,534.1 700.4,532.7 738.2,502.6 755.0,480.0 794.3,439.0 703.7,532.9 706.7,530.9 768.7,463.8 737.6,498.9 751.5,491.2 782.7,445.3 757.6,468.6 759.5,474.8 700.4,536.2 765.3,466.1 716.0,523.1 701.0,533.9 727.1,510.0 692.7,536.4 791.0,439.2 731.8,502.4 791.8,442.1 729.0,510.1 727.5,507.2 791.6,437.0 723.9,513.7 788.2,444.0 756.0,482.6 784.3,443.9 751.1,484.5 717.2,519.5 783.2,456.3 731.5,506.8 690.0,540.0 779.7,447.7 793.3,438.7 720.5,508.3 697.8,538.4 707.3,532.6 780.4,450.6 766.6,462.5 751.8,475.6 701.5,534.6 774.8,453.6 772.2,459.0 739.4,490.6 705.8,532.6 748.9,491.7 709.6,527.5 771.7,460.8 697.3,538.2 724.8,510.4 780.1,453.1 761.8,472.7 785.3,449.3 695.2,539.1 737.8,499.8 699.0,536.3 787.6,442.7 763.0,473.4 689.7,539.3 762.8,468.2 710.6,528.9 695.6,537.1 778.6,458.7 798.0,439.0 706.3,525.1 775.3,458.5 766.1,468.2 742.6,493.4 745.6,489.8 713.7,527.9 691.8,540.0 717.8,520.3 758.5,475.3 728.3,506.9 694.2,539.7 726.6,509.0 711.8,524.5 694.4,539.7 716.3,519.2 793.1,436.6 730.4,507.7 795.4,435.2 718.7,518.3 695.1,536.5 776.8,457.6 753.1,479.0 713.3,526.4 759.1,475.5 705.0,536.6 714.4,524.6 701.9,533.6 702.7,529.1 736.8,500.4 698.5,537.6 782.3,446.9 693.3,539.2 747.2,493.5 692.9,538.1 708.7,529.5 691.4,538.6 689.5,540.3 797.2,438.6 786.4,441.4 767.9,467.5 747.0,491.4 726.2,510.7 744.6,489.4 736.6,493.4 703.0,537.0 718.0,519.8 704.6,533.2 729.4,506.7 796.3,430.5 744.9,493.9 773.1,461.3 790.1,443.6 753.6,485.1 719.5,513.2 778.1,451.9 765.4,472.4 693.5,538.2 699.4,535.0 698.9,536.0 723.2,512.1 735.2,501.0 712.3,526.2 785.5,441.7 695.8,534.3 786.8,442.5 696.6,537.6 763.9,467.3 744.0,494.0 764.2,471.7 699.8,535.6 771.1,464.0 746.6,492.8 733.0,499.5 724.8,514.7 722.5,515.6 705.0,533.4 703.9,536.1 709.1,529.9 708.2,525.1 759.7,472.2 793.9,439.6 796.0,435.1 743.8,495.9 747.8,490.4 697.0,539.3 750.4,486.7 748.5,485.6 729.9,506.7 691.0,541.2 761.0,475.1 776.0,460.3 735.6,506.2 767.6,468.4 792.3,442.4 692.0,540.4 734.6,506.2 752.4,488.3 758.1,471.4 728.0,504.6 742.0,492.3 741.2,494.9 690.4,540.6 775.7,455.5 692.3,538.5 733.6,504.9 798.3,431.3 722.2,512.3 754.6,476.8 734.9,502.2 716.9,525.2 691.4,540.1 725.6,513.4 710.0,527.8 746.0,491.3 767.0,468.8 714.0,524.0 725.4,510.4 730.9,503.7 772.8,461.0 715.5,523.0 761.3,476.5 777.1,458.6 689.9,539.2 707.9,532.1 718.2,517.5 740.1,497.7 711.3,525.5 707.1,529.2 768.3,466.6 755.6,473.7 713.0,523.2 783.9,450.8 790.3,441.4 734.2,503.2 769.4,463.3 696.4,537.4 732.7,498.4 729.8,503.6 754.4,481.0 715.1,525.3 774.3,456.6 789.6,444.2 701.2,537.5 705.7,533.8 781.6,453.8 714.8,521.6 754.0,479.8 785.8,454.3 694.6,537.9 740.4,496.4 749.0,487.0 738.6,495.5 697.7,536.6 719.3,520.4 711.0,529.0 720.7,515.0 788.4,444.4 749.9,478.0 794.8,437.4 743.3,493.3 797.6,438.6 770.0,463.1 690.8,541.6 739.5,497.9 750.3,483.4 691.5,539.0 712.0,525.6 700.3,532.0 708.1,529.9 707.1,528.4 695.7,536.7 696.5,531.9 699.8,530.6 709.8,526.5 690.5,536.5 709.0,530.3 703.9,534.8 703.1,533.1 693.2,537.4 695.3,538.0 706.4,532.2 702.2,530.5 698.9,534.2 698.1,535.6 692.7,536.6 705.7,534.9 692.3,536.4 702.7,531.4 710.7,525.3 697.5,532.8 701.5,532.0 689.5,539.5 704.6,529.0 694.5,536.8 710.1,527.6 722.6,526.5 795.2,466.4 741.8,526.8 734.0,519.5 791.7,455.8 759.6,519.3 815.9,444.1 749.0,512.3 763.2,509.3 759.3,513.0 791.9,473.8 776.6,505.4 798.4,464.9 786.0,477.1 808.2,479.6 784.1,485.2 817.6,451.6 803.5,456.3 769.3,483.3 777.0,488.0 773.5,476.1 750.6,517.4 752.2,519.7 757.5,513.1 738.6,516.4 809.8,471.5 756.3,517.8 811.0,434.8 744.6,518.3 754.1,495.2 729.4,523.4 766.7,501.5 781.0,480.7 789.2,475.0 735.0,523.4 801.0,445.1 737.3,531.9 740.1,530.9 790.3,484.2 769.6,483.7 807.2,446.6 818.1,454.7 806.1,444.9 793.2,457.2 765.2,496.0 774.5,473.0 805.0,485.9 782.9,468.9 794.1,445.2 815.3,445.5 800.3,447.8 811.5,460.7 812.5,443.6 781.6,467.8 746.2,509.9 772.9,486.8 796.7,465.6 814.0,437.5 787.9,473.9 743.0,511.1 767.3,505.1 799.3,484.5 725.9,522.9 778.6,498.5 731.7,523.6 753.8,503.4 802.2,468.9 786.8,500.4 779.8,467.9 771.8,501.8 728.5,518.1 805.4,451.1 747.8,512.1 763.7,490.5 761.0,494.0 727.8,469.5 737.3,461.6 733.8,462.7 733.8,460.1 735.1,459.9 740.6,456.4 794.7,421.1 824.5,388.5 803.9,396.5 774.6,449.3 823.8,378.2 811.8,405.9 813.6,374.0 820.0,375.1 790.0,434.0 823.3,389.1 781.8,437.0 790.8,424.7 778.2,441.0 778.8,414.9 813.4,375.4 776.6,422.7 808.9,388.6 797.6,418.1 800.0,404.9 801.9,402.3 791.4,410.5 776.0,423.6 800.9,399.6 821.2,372.7 810.4,386.3 769.6,425.1 792.4,435.0 798.8,406.8 781.3,418.7 784.4,422.3 814.4,389.1 820.2,381.4 799.5,411.0 770.9,429.0 793.2,399.8 795.5,406.2 785.4,436.0 797.5,405.2 784.9,434.2 794.2,399.4 782.5,441.5 777.9,412.1 768.5,432.8 806.4,377.4 805.8,398.6 822.4,380.5 805.3,405.1 772.5,426.4 775.4,425.7 816.5,401.3 773.3,442.6 793.2,418.1 809.5,406.7 789.4,424.1 787.2,431.5 822.2,401.8 770.0,453.1 783.4,423.0 815.9,369.8 771.5,415.8 786.0,407.8 773.9,426.6 787.6,431.1 818.0,400.0 810.9,387.0 768.0,452.3 807.9,414.5 817.9,388.4 807.6,408.5 815.5,379.7 818.7,389.4 804.8,416.3 796.6,405.6 788.6,405.9 767.4,451.7 802.4,409.5 802.8,409.4 812.2,396.7 780.1,440.2 779.7,430.3 846.1,309.1 811.2,372.7 950.8,247.2 873.8,320.6 838.1,323.2 864.5,315.7 926.5,237.3 891.3,317.8 848.7,332.6 918.3,185.8 844.8,313.5 857.8,297.2 840.2,328.0 808.0,398.1 897.4,276.2 954.4,168.7 885.7,243.3 863.6,281.7 904.4,234.4 905.1,292.5 921.3,225.6 931.9,235.3 816.5,367.6 822.7,404.9 920.2,288.2 854.5,346.1 856.9,358.2 901.9,309.5 817.9,362.0 868.4,311.9 951.1,211.0 894.6,244.7 814.9,363.9 841.4,344.2 875.6,254.9 841.8,344.9 927.7,204.9 867.3,285.4 826.3,377.7 955.9,221.8 830.2,376.0 822.9,377.2 887.0,286.5 830.5,332.4 832.2,349.6 950.2,253.2 826.2,354.9 862.5,277.3 861.3,298.4 881.5,290.7 948.5,198.8 893.5,264.7 806.0,398.9 901.0,228.7 812.0,405.6 893.1,256.4 921.6,214.2 946.9,201.6 876.7,324.5 846.9,360.1 838.8,340.8 932.4,254.6 925.2,269.5 878.1,316.0 948.9,143.3 820.6,362.3 852.9,326.9 853.4,339.5 889.7,261.1 906.6,277.9 824.3,387.2 844.1,365.1 953.6,143.9 922.4,251.3 890.4,322.9 833.4,337.8 936.6,175.8 858.0,339.8 956.6,251.9 903.5,266.1 843.0,360.1 941.2,157.2 859.5,324.4 945.7,261.1 831.5,351.5 808.7,364.4 909.6,245.3 855.9,289.7 923.7,183.6 840.6,342.2 845.6,318.9 809.6,362.0 858.9,327.9 897.8,222.6 883.5,261.4 914.9,193.3 843.5,302.3 946.3,165.5 942.4,241.4 882.4,274.7 870.7,271.6 886.8,266.0 829.2,334.3 960.2,171.8 849.4,331.8 865.0,294.6 851.6,296.7 817.1,362.8 927.8,266.4 855.2,357.8 863.6,284.4 951.9,171.4 814.0,372.3 835.0,323.2 877.4,282.8 907.9,264.3 916.6,213.6 812.9,380.2 930.6,250.1 914.1,204.8 812.5,380.1 957.2,166.0 915.4,236.9 952.6,224.8 869.8,319.3 926.2,194.9 937.6,204.1 849.6,358.1 819.3,390.6 934.9,180.4 912.8,214.8 827.9,375.0 888.7,294.5 865.7,281.8 929.3,176.8 919.3,221.9 825.4,359.0 894.6,275.6 839.3,371.3 929.9,194.6 916.1,287.4 906.5,221.4 853.8,338.0 879.8,254.4 834.2,347.8 847.4,317.3 898.4,259.9 879.5,281.6 860.3,339.4 909.0,235.1 940.5,220.4 815.1,381.9 884.5,321.5 810.7,414.0 891.9,287.2 939.7,178.8 833.0,386.4 850.6,355.1 943.5,248.5 836.0,339.8 958.5,201.9 821.5,351.6 918.6,292.6 889.4,326.8 903.0,216.1 933.9,269.6 959.6,216.9 954.6,150.6 923.4,276.4 874.9,320.6 871.5,328.7 807.2,406.5 885.4,277.1 872.9,327.9 917.3,252.2 958.9,192.7 895.3,254.9 911.4,203.3 957.3,215.9 878.7,293.2 913.0,258.3 947.8,182.7 939.1,209.0 945.1,227.7 851.2,348.6 910.2,250.7 896.3,272.1 944.5,178.4 820.4,379.2 936.1,216.6 881.0,313.2 870.0,273.9 818.7,359.4 868.6,324.0 837.1,334.6 942.5,215.4 938.9,263.1 908.6,229.2 836.2,366.9 828.9,353.0 815.7,354.6 928.9,188.8 900.0,248.5 862.1,272.5 872.3,322.6 887.8,239.5 806.6,402.0 874.6,260.6 912.2,205.5 934.2,245.7 900.8,307.6 827.0,345.4 866.7,278.4 823.7,362.5 899.0,231.7 924.8,213.0 936.9,233.3 932.7,181.0 883.2,327.7 905.4,243.4 856.3,445.1 947.0,408.1 839.9,460.0 865.3,428.9 821.8,439.6 812.8,496.3 871.2,433.7 937.5,357.6 968.4,392.8 957.2,425.6 838.0,454.6 926.3,432.6 847.2,453.0 913.3,395.9 898.1,384.0 873.8,441.8 932.0,433.4 902.8,366.5 961.8,448.4 886.8,452.2 918.2,441.0 941.8,396.3 827.7,460.3 923.1,461.3 965.4,394.0 832.2,442.6 855.1,421.6 881.5,466.4 905.9,357.7 889.7,399.7 1046.8,340.1 1019.8,296.0 1101.4,332.7 1122.7,222.7 1014.5,437.0 1006.3,448.0 1107.4,259.7 1034.3,291.1 991.8,396.4 1096.6,344.5 1000.3,408.4 996.7,360.9 1032.2,315.8 1064.5,436.6 1021.1,425.4 1116.7,340.1 1067.6,358.0 986.0,440.2 1004.1,401.8 1121.3,338.9 1087.9,234.0 1133.5,245.7 1079.2,371.9 1040.2,332.9 1026.4,289.0 1057.3,386.2 1080.3,328.8 1108.2,256.6 1053.8,313.7 1050.2,273.4 1089.8,295.0 977.6,380.5 982.5,315.7 1130.6,328.7 1072.1,400.7 1173.7,51.8 1019.1,188.4 1078.0,166.0 970.8,249.2 1028.6,196.0 1006.1,231.4 1056.4,193.8 998.7,171.8 1139.0,24.8 1065.5,78.4 1102.5,135.0 1187.8,-30.9 1130.8,76.3 1097.0,69.5 1081.4,126.1 1164.1,88.4 1042.5,128.0 1120.8,45.2 1030.4,161.8 1156.6,66.3 1116.3,121.7 1200.0,87.9 981.1,242.6 1179.4,50.2 961.5,292.0 1012.2,121.7 1053.4,118.9 1008.6,188.4 997.7,89.9 1054.7,21.9 1093.4,42.0 1062.1,94.1 1065.7,137.8 1073.3,92.2 1043.8,141.1 1038.4,130.4 967.8,185.3 1085.1,15.1 1019.7,92.0 1036.7,164.2 1102.2,11.1 1073.4,99.6 1081.8,104.1 1129.0,77.1 1105.1,56.2 1079.4,74.8 1061.1,83.8 1119.6,5.8 1017.3,93.0 1110.2,-7.9 1006.4,126.0 993.7,117.9 975.9,212.0 987.8,127.2 1099.5,14.4 1125.2,-57.6 1114.7,72.5 983.2,183.6 991.0,131.5 970.0,197.7 963.6,216.4 979.9,145.4 1048.0,64.5 1023.6,181.7 1091.3,83.9 1002.5,198.2 1123.2,41.0 1131.8,-25.8 1028.8,89.9 1030.8,167.6"/><polyline fill="none" stroke="none" marker-start="url(#mo)" marker-mid="url(#mo)" marker-end="url(#mo)" points="711.4,507.8 756.8,452.3 690.5,528.8 789.2,424.2 721.5,491.0 757.1,462.3 721.2,497.4 736.2,479.3 741.6,479.3 771.1,446.6 764.4,451.2 783.7,435.0 698.2,520.0 722.9,495.7 780.9,439.9 770.4,453.0 709.2,507.0 773.8,443.0 720.0,498.6 743.0,466.3 762.1,456.4 724.0,494.0 777.5,437.4 779.2,439.1 693.7,519.1 760.6,454.2 732.2,484.0 799.2,416.0 703.4,514.5 702.4,509.4 700.4,519.4 738.2,481.1 755.0,463.1 794.3,425.6 703.7,511.6 706.7,506.1 768.7,447.0 737.6,477.0 751.5,469.5 782.7,428.3 757.6,453.7 759.5,457.3 700.4,512.2 765.3,456.8 716.0,497.2 701.0,517.3 727.1,487.8 692.7,513.8 791.0,429.4 731.8,486.3 791.8,422.5 729.0,487.6 727.5,485.3 791.6,430.7 723.9,493.7 788.2,431.1 756.0,464.5 784.3,433.4 751.1,472.5 717.2,506.5 783.2,434.3 731.5,483.3 690.0,529.8 779.7,436.4 793.3,419.5 720.5,488.6 697.8,517.3 707.3,509.2 780.4,438.8 766.6,449.3 751.8,460.8 701.5,517.5 774.8,439.1 772.2,444.9 739.4,478.7 705.8,505.9 748.9,469.2 709.6,508.0 771.7,444.9 697.3,520.6 724.8,488.2 780.1,433.9 761.8,463.7 785.3,430.7 695.2,521.2 737.8,478.7 699.0,514.6 787.6,430.7 763.0,461.4 689.7,523.3 762.8,447.6 710.6,501.2 695.6,521.4 778.6,442.6 798.0,426.6 706.3,502.8 775.3,444.8 766.1,453.1 742.6,470.2 745.6,474.5 713.7,499.7 691.8,520.4 717.8,497.1 758.5,459.1 728.3,484.1 694.2,521.6 726.6,495.4 711.8,503.3 694.4,517.4 716.3,500.1 793.1,422.3 730.4,483.4 795.4,414.5 718.7,496.3 695.1,522.0 776.8,437.7 753.1,464.4 713.3,500.3 759.1,455.4 705.0,512.0 714.4,505.3 701.9,509.2 702.7,511.5 736.8,483.6 698.5,513.0 782.3,430.1 693.3,522.6 747.2,471.5 692.9,524.1 708.7,515.8 691.4,515.8 689.5,525.1 797.2,426.7 786.4,431.3 767.9,447.8 747.0,470.0 726.2,495.6 744.6,469.2 736.6,476.8 703.0,516.3 718.0,501.1 704.6,509.2 729.4,489.6 796.3,422.1 744.9,473.9 773.1,443.6 790.1,421.1 753.6,463.9 719.5,500.2 778.1,440.8 765.4,453.9 693.5,524.2 699.4,518.1 698.9,514.1 723.2,495.3 735.2,475.0 712.3,504.9 785.5,427.6 695.8,523.6 786.8,431.1 696.6,519.7 763.9,445.0 744.0,472.9 764.2,452.1 699.8,517.2 771.1,445.6 746.6,470.7 733.0,482.5 724.8,495.8 722.5,493.4 705.0,517.7 703.9,516.5 709.1,509.5 708.2,505.9 759.7,455.3 793.9,421.3 796.0,420.5 743.8,470.5 747.8,468.6 697.0,516.1 750.4,472.1 748.5,467.1 729.9,487.1 691.0,530.3 761.0,464.0 776.0,439.4 735.6,489.5 767.6,452.2 792.3,426.7 692.0,525.6 734.6,483.2 752.4,468.1 758.1,454.7 728.0,483.3 742.0,471.3 741.2,478.4 690.4,528.1 775.7,438.7 692.3,521.5 733.6,486.2 798.3,419.1 722.2,492.3 754.6,456.4 734.9,487.0 716.9,501.7 691.4,527.6 725.6,487.5 710.0,510.5 746.0,467.6 767.0,445.5 714.0,504.2 725.4,491.0 730.9,479.5 772.8,444.8 715.5,498.9 761.3,455.3 777.1,443.9 689.9,523.8 707.9,508.8 718.2,499.9 740.1,478.3 711.3,503.1 707.1,512.2 768.3,442.6 755.6,460.9 713.0,502.7 783.9,432.8 790.3,431.5 734.2,486.2 769.4,443.5 696.4,521.2 732.7,478.1 729.8,489.5 754.4,468.3 715.1,502.4 774.3,443.6 789.6,434.5 701.2,522.0 705.7,514.6 781.6,437.1 714.8,500.8 754.0,458.5 785.8,434.6 694.6,515.9 740.4,481.5 749.0,463.9 738.6,474.7 697.7,518.3 719.3,498.2 711.0,507.1 720.7,500.2 788.4,427.6 749.9,457.9 794.8,429.0 743.3,478.0 797.6,422.5 770.0,446.7 690.8,528.5 739.5,486.4 750.3,466.2 722.6,530.8 795.2,470.8 741.8,527.1 734.0,520.8 791.7,453.5 759.6,516.1 815.9,437.3 749.0,521.1 763.2,513.0 759.3,522.8 791.9,466.0 776.6,497.9 798.4,458.9 786.0,475.5 808.2,483.1 784.1,477.5 817.6,451.1 803.5,459.4 769.3,477.8 777.0,485.5 773.5,473.9 750.6,519.9 752.2,521.2 757.5,518.1 738.6,513.0 809.8,470.0 756.3,515.5 811.0,437.6 744.6,520.8 754.1,492.5 729.4,528.2 766.7,496.7 781.0,482.6 789.2,477.8 735.0,525.4 801.0,448.6 737.3,527.9 740.1,532.0 790.3,470.5 769.6,489.3 807.2,444.8 818.1,457.7 806.1,442.7 793.2,454.2 765.2,497.7 774.5,475.4 805.0,481.0 782.9,474.2 794.1,449.1 815.3,445.8 800.3,441.3 811.5,456.0 812.5,444.8 781.6,470.9 746.2,512.0 772.9,487.0 796.7,457.9 814.0,442.5 787.9,477.9 743.0,504.6 767.3,495.5 799.3,482.2 725.9,523.7 778.6,487.5 731.7,523.0 753.8,496.1 802.2,464.2 786.8,494.6 779.8,466.7 771.8,495.2 728.5,526.8 805.4,454.3 747.8,518.2 763.7,498.3 761.0,484.0 725.8,476.8 730.5,466.5 729.7,464.6 734.6,460.1 733.8,459.4 733.9,453.3 739.1,454.8 739.0,453.2 737.4,457.8 738.3,455.7 743.3,455.2 739.3,455.0 746.8,447.0 743.2,449.1 745.6,450.1 747.0,447.8 752.5,445.4 758.5,443.0 756.4,443.8 759.2,440.7 760.3,440.8 762.6,440.3 738.4,439.8 735.5,445.1 729.3,441.6 729.5,430.5 733.0,430.9 731.4,445.9 741.3,416.6 731.8,433.2 734.4,438.3 742.6,437.9 740.6,423.2 737.0,434.6 738.7,435.2 743.5,419.0 726.9,459.2 727.1,461.4 728.2,460.1 729.0,452.2 733.4,437.1 736.0,429.6 738.4,423.2 739.3,419.4 743.6,409.7 743.2,410.6 744.7,405.9 749.0,395.5 751.3,391.0 752.6,389.7 751.4,393.8 757.9,384.4 757.9,386.9 759.3,383.6 762.7,383.7 763.4,380.0 768.6,381.8 772.8,378.0 780.4,381.2 783.0,379.5 796.9,364.2 801.3,357.3 805.4,350.8 807.5,342.9 809.7,339.1 814.4,331.1 817.4,321.5 820.1,317.8 819.2,318.5 825.1,313.0 826.1,311.6 827.0,306.3 835.2,301.4 838.4,294.4 849.9,280.7 858.7,265.2 794.7,416.7 824.5,369.4 803.9,387.8 774.6,449.5 823.8,376.9 811.8,411.1 813.6,368.0 820.0,369.8 790.0,434.5 823.3,387.6 781.8,440.3 790.8,426.4 778.2,438.8 778.8,403.0 813.4,365.4 776.6,415.5 808.9,399.4 797.6,412.4 800.0,410.0 801.9,395.2 791.4,393.6 776.0,419.7 800.9,401.2 821.2,371.7 810.4,380.1 769.6,425.9 792.4,433.7 798.8,404.8 781.3,422.0 784.4,425.5 814.4,397.0 820.2,374.0 799.5,402.1 770.9,427.9 793.2,400.7 795.5,404.3 785.4,433.3 797.5,392.4 784.9,434.0 794.2,403.8 782.5,436.9 777.9,410.5 768.5,425.4 806.4,373.5 805.8,393.4 822.4,372.2 805.3,404.5 772.5,424.9 775.4,415.4 816.5,397.4 773.3,448.2 793.2,409.9 809.5,395.9 789.4,415.8 787.2,428.3 822.2,391.5 770.0,454.5 783.4,425.6 815.9,379.4 771.5,416.9 786.0,415.5 773.9,421.2 787.6,425.7 818.0,395.4 810.9,378.4 768.0,444.8 807.9,409.0 817.9,380.0 807.6,401.6 815.5,375.0 818.7,383.5 804.8,421.6 796.6,396.0 788.6,399.7 767.4,447.3 802.4,413.0 802.8,402.9 812.2,391.4 780.1,451.5 779.7,429.1 846.1,291.9 811.2,360.6 950.8,257.1 873.8,306.0 838.1,312.8 864.5,300.9 926.5,237.1 891.3,327.9 848.7,309.3 918.3,180.4 844.8,292.2 857.8,290.7 840.2,320.8 808.0,387.4 897.4,270.4 954.4,139.9 885.7,239.0 863.6,271.4 904.4,206.8 905.1,286.1 921.3,197.8 931.9,221.8 816.5,362.4 822.7,388.4 920.2,285.1 854.5,318.9 856.9,345.4 901.9,289.6 817.9,349.6 868.4,297.3 951.1,211.5 894.6,232.9 814.9,357.4 841.4,326.2 875.6,247.3 841.8,346.5 927.7,180.4 867.3,271.2 826.3,356.2 955.9,196.6 830.2,383.2 822.9,382.5 887.0,265.1 830.5,324.3 832.2,345.0 950.2,239.8 826.2,341.3 862.5,269.6 861.3,298.9 881.5,277.7 948.5,191.6 893.5,249.3 806.0,382.6 901.0,212.2 812.0,401.4 893.1,228.7 921.6,208.1 946.9,184.6 876.7,302.7 846.9,337.1 838.8,335.2 932.4,245.7 925.2,279.9 878.1,322.4 948.9,128.3 820.6,345.9 852.9,313.7 853.4,315.5 889.7,260.0 906.6,262.9 824.3,376.9 844.1,364.8 953.6,132.5 922.4,264.5 890.4,317.2 833.4,324.1 936.6,170.2 858.0,330.2 956.6,235.3 903.5,266.9 843.0,361.0 941.2,133.6 859.5,326.3 945.7,238.1 831.5,338.1 808.7,385.7 909.6,244.8 855.9,303.7 923.7,186.2 840.6,316.9 845.6,323.4 809.6,348.6 858.9,319.4 897.8,206.0 883.5,241.8 914.9,186.7 843.5,296.5 946.3,154.8 942.4,247.6 882.4,264.4 870.7,246.6 886.8,258.5 829.2,321.4 960.2,164.9 849.4,309.7 865.0,264.9 851.6,297.3 817.1,345.7 927.8,248.4 855.2,354.9 863.6,272.0 951.9,153.9 814.0,367.4 835.0,314.4 877.4,274.0 907.9,246.8 916.6,217.5 812.9,372.9 930.6,230.7 914.1,185.0 812.5,373.9 957.2,161.2 915.4,229.4 952.6,213.4 869.8,310.7 926.2,179.0 937.6,187.2 849.6,337.6 819.3,385.7 934.9,169.2 912.8,202.0 827.9,373.2 888.7,280.0 865.7,277.2 929.3,174.7 919.3,202.5 825.4,354.0 894.6,269.9 839.3,373.0 929.9,180.4 916.1,251.8 906.5,204.6 853.8,325.3 879.8,228.5 834.2,337.1 847.4,287.1 898.4,271.7 879.5,271.3 860.3,338.8 909.0,213.0 940.5,206.6 815.1,374.7 884.5,328.5 810.7,397.0 891.9,271.5 939.7,165.4 833.0,373.8 850.6,349.3 943.5,246.4 836.0,351.4 958.5,196.5 821.5,333.3 918.6,278.9 889.4,309.9 903.0,204.0 933.9,270.9 959.6,191.2 954.6,128.1 923.4,279.2 874.9,307.5 871.5,311.3 807.2,403.3 885.4,254.4 872.9,309.2 917.3,243.3 958.9,183.6 895.3,255.0 911.4,183.1 957.3,220.1 878.7,290.7 913.0,242.7 947.8,177.1 939.1,193.8 945.1,212.7 851.2,346.2 910.2,263.9 896.3,253.9 944.5,155.6 820.4,364.6 936.1,222.0 881.0,287.1 870.0,249.0 818.7,326.6 868.6,332.9 837.1,327.8 942.5,199.8 938.9,255.7 908.6,227.6 836.2,333.9 828.9,337.1 815.7,369.3 928.9,178.2 900.0,222.9 862.1,273.6 872.3,325.1 887.8,223.9 806.6,391.6 874.6,254.8 912.2,189.7 934.2,263.1 900.8,289.5 827.0,313.3 866.7,274.9 823.7,362.7 899.0,224.6 924.8,183.6 936.9,240.4 932.7,162.0 883.2,314.7 905.4,227.2 856.3,444.2 947.0,417.7 839.9,466.5 865.3,451.6 821.8,430.2 812.8,516.5 871.2,448.7 937.5,364.9 968.4,412.4 957.2,436.3 838.0,454.9 926.3,441.5 847.2,450.5 913.3,419.7 898.1,396.0 873.8,471.6 932.0,440.0 902.8,394.8 961.8,487.4 886.8,461.0 918.2,447.0 941.8,401.9 827.7,456.0 923.1,496.2 965.4,407.7 832.2,450.1 855.1,438.0 881.5,490.7 905.9,364.2 889.7,397.4 1046.8,361.8 1019.8,287.6 1101.4,348.0 1122.7,245.4 1014.5,452.4 1006.3,475.0 1107.4,277.7 1034.3,273.1 991.8,417.4 1096.6,369.3 1000.3,454.8 996.7,392.4 1032.2,333.1 1064.5,464.4 1021.1,440.6 1116.7,361.9 1067.6,392.1 986.0,469.3 1004.1,432.3 1121.3,370.9 1087.9,243.3 1133.5,273.3 1079.2,394.8 1040.2,349.7 1026.4,320.3 1057.3,414.4 1080.3,351.6 1108.2,275.5 1053.8,295.2 1050.2,273.0 1089.8,311.1 977.6,389.2 982.5,313.8 1130.6,354.2 1072.1,415.9 1173.7,34.4 1019.1,184.5 1078.0,166.9 970.8,265.4 1028.6,168.2 1006.1,244.5 1056.4,179.4 998.7,159.5 1139.0,-3.0 1065.5,78.2 1102.5,156.7 1187.8,-40.9 1130.8,68.6 1097.0,57.5 1081.4,91.1 1164.1,89.5 1042.5,145.9 1120.8,63.5 1030.4,134.6 1156.6,67.0 1116.3,123.1 1200.0,118.3 981.1,231.2 1179.4,74.8 961.5,301.1 1012.2,116.8 1053.4,125.1 1008.6,200.7 997.7,133.2 1054.7,36.0 1093.4,36.3 1062.1,96.0 1065.7,129.9 1073.3,94.6 1043.8,152.0 1038.4,141.2 967.8,177.7 1085.1,9.0 1019.7,110.5 1036.7,182.2 1102.2,0.7 1073.4,104.0 1081.8,109.1 1129.0,57.4 1105.1,44.9 1079.4,104.2 1061.1,122.5 1119.6,7.3 1017.3,114.0 1110.2,-8.9 1006.4,146.3 993.7,132.4 975.9,211.2 987.8,132.0 1099.5,32.5 1125.2,-44.7 1114.7,79.2 983.2,176.2 991.0,123.5 970.0,183.6 963.6,233.3 979.9,155.1 1048.0,63.6 1023.6,172.3 1091.3,87.3 1002.5,196.2 1123.2,56.2 1131.8,-28.7 1028.8,101.1 1030.8,193.1"/><polyline fill="none" stroke="none" marker-start="url(#mb)" marker-mid="url(#mb)" marker-end="url(#mb)" points="711.4,530.6 756.8,473.2 690.5,540.8 789.2,439.2 721.5,517.2 757.1,476.6 721.2,518.5 736.2,498.5 741.6,495.2 771.1,463.2 764.4,465.2 783.7,451.6 698.2,538.9 722.9,511.5 780.9,452.1 770.4,466.6 709.2,524.3 773.8,462.5 720.0,515.5 743.0,491.1 762.1,476.6 724.0,515.0 777.5,456.0 779.2,459.7 693.7,538.0 760.6,470.9 732.2,505.7 799.2,438.5 703.4,532.3 702.4,534.1 700.4,533.7 738.2,500.4 755.0,484.3 794.3,443.6 703.7,531.4 706.7,527.5 768.7,464.6 737.6,498.5 751.5,487.4 782.7,445.2 757.6,471.0 759.5,479.1 700.4,538.2 765.3,464.7 716.0,522.9 701.0,537.3 727.1,509.3 692.7,537.6 791.0,440.9 731.8,506.4 791.8,437.6 729.0,512.7 727.5,511.8 791.6,441.9 723.9,521.1 788.2,442.8 756.0,479.7 784.3,444.8 751.1,492.0 717.2,524.4 783.2,455.8 731.5,500.5 690.0,541.5 779.7,453.4 793.3,439.1 720.5,510.0 697.8,536.8 707.3,534.3 780.4,450.6 766.6,464.2 751.8,478.0 701.5,534.3 774.8,458.2 772.2,464.7 739.4,503.5 705.8,528.6 748.9,487.1 709.6,530.3 771.7,464.3 697.3,538.6 724.8,514.2 780.1,455.7 761.8,475.8 785.3,452.3 695.2,540.9 737.8,498.9 699.0,537.9 787.6,442.7 763.0,475.3 689.7,540.8 762.8,466.5 710.6,528.5 695.6,538.7 778.6,457.8 798.0,439.2 706.3,528.4 775.3,458.1 766.1,468.6 742.6,493.2 745.6,493.4 713.7,524.2 691.8,540.0 717.8,517.5 758.5,479.0 728.3,505.5 694.2,538.5 726.6,513.4 711.8,529.6 694.4,539.2 716.3,522.9 793.1,431.8 730.4,510.3 795.4,431.1 718.7,518.5 695.1,539.1 776.8,453.9 753.1,484.0 713.3,523.5 759.1,477.0 705.0,534.1 714.4,528.6 701.9,538.3 702.7,528.7 736.8,504.3 698.5,539.3 782.3,445.8 693.3,539.7 747.2,490.5 692.9,536.4 708.7,528.1 691.4,538.6 689.5,539.8 797.2,439.1 786.4,444.0 767.9,475.0 747.0,493.7 726.2,510.0 744.6,496.5 736.6,500.8 703.0,536.1 718.0,523.7 704.6,536.1 729.4,512.0 796.3,434.0 744.9,497.4 773.1,459.3 790.1,443.1 753.6,479.8 719.5,518.6 778.1,456.8 765.4,472.3 693.5,538.5 699.4,536.3 698.9,537.5 723.2,512.9 735.2,499.7 712.3,525.8 785.5,445.2 695.8,538.4 786.8,443.8 696.6,540.3 763.9,469.9 744.0,494.0 764.2,467.5 699.8,538.8 771.1,465.9 746.6,495.3 733.0,503.5 724.8,519.8 722.5,518.6 705.0,533.9 703.9,536.4 709.1,525.7 708.2,528.1 759.7,472.3 793.9,436.6 796.0,444.1 743.8,496.3 747.8,493.0 697.0,539.5 750.4,485.6 748.5,487.8 729.9,514.9 691.0,540.2 761.0,479.8 776.0,456.4 735.6,511.6 767.6,463.6 792.3,439.3 692.0,540.6 734.6,503.8 752.4,484.5 758.1,475.2 728.0,506.1 742.0,498.1 741.2,498.0 690.4,540.1 775.7,455.7 692.3,539.5 733.6,506.2 798.3,431.8 722.2,517.0 754.6,481.0 734.9,509.6 716.9,528.2 691.4,541.0 725.6,513.8 710.0,529.2 746.0,489.0 767.0,471.6 714.0,524.2 725.4,512.8 730.9,506.9 772.8,462.5 715.5,516.4 761.3,475.1 777.1,461.0 689.9,539.3 707.9,531.3 718.2,515.4 740.1,503.0 711.3,529.1 707.1,533.3 768.3,463.1 755.6,477.9 713.0,526.9 783.9,450.6 790.3,439.9 734.2,503.8 769.4,464.1 696.4,537.7 732.7,499.9 729.8,509.7 754.4,488.7 715.1,525.1 774.3,461.9 789.6,444.5 701.2,538.5 705.7,533.5 781.6,456.6 714.8,523.5 754.0,480.3 785.8,452.3 694.6,540.5 740.4,497.4 749.0,480.2 738.6,500.2 697.7,537.1 719.3,520.0 711.0,534.5 720.7,517.3 788.4,448.0 749.9,483.1 794.8,438.8 743.3,491.2 797.6,437.4 770.0,462.2 690.8,540.9 739.5,497.3 750.3,484.4 722.6,534.7 795.2,469.3 741.8,534.7 734.0,520.8 791.7,459.0 759.6,522.4 815.9,447.0 749.0,517.5 763.2,508.1 759.3,511.2 791.9,472.3 776.6,509.4 798.4,465.1 786.0,474.9 808.2,485.1 784.1,488.9 817.6,455.2 803.5,461.7 769.3,483.9 777.0,488.6 773.5,475.1 750.6,520.9 752.2,527.6 757.5,517.1 738.6,518.9 809.8,478.9 756.3,521.6 811.0,440.1 744.6,520.1 754.1,499.2 729.4,531.6 766.7,496.9 781.0,478.7 789.2,476.4 735.0,527.5 801.0,447.1 737.3,530.4 740.1,532.9 790.3,490.2 769.6,485.6 807.2,438.9 818.1,467.3 806.1,441.6 793.2,471.3 765.2,502.2 774.5,474.7 805.0,490.5 782.9,472.7 794.1,449.1 815.3,445.1 800.3,446.4 811.5,466.7 812.5,446.4 781.6,468.7 746.2,514.4 772.9,498.8 796.7,468.7 814.0,442.8 787.9,478.7 743.0,515.7 767.3,496.9 799.3,488.4 725.9,518.7 778.6,500.1 731.7,526.1 753.8,500.8 802.2,469.1 786.8,498.0 779.8,473.2 771.8,501.1 728.5,523.9 805.4,456.6 747.8,518.4 763.7,504.8 761.0,495.7 794.7,426.2 824.5,383.8 803.9,391.9 774.6,444.4 823.8,377.5 811.8,409.8 813.6,377.5 820.0,372.9 790.0,439.8 823.3,394.8 781.8,442.4 790.8,421.0 778.2,445.4 778.8,414.7 813.4,383.5 776.6,419.2 808.9,391.3 797.6,416.8 800.0,410.2 801.9,405.4 791.4,406.4 776.0,413.6 800.9,388.5 821.2,366.4 810.4,379.7 769.6,424.5 792.4,432.1 798.8,404.1 781.3,420.9 784.4,425.4 814.4,391.6 820.2,377.4 799.5,405.1 770.9,426.9 793.2,394.6 795.5,404.4 785.4,433.2 797.5,401.2 784.9,433.4 794.2,396.6 782.5,439.9 777.9,411.7 768.5,426.0 806.4,383.0 805.8,388.2 822.4,379.9 805.3,404.4 772.5,417.0 775.4,420.1 816.5,407.4 773.3,452.6 793.2,404.2 809.5,393.5 789.4,425.5 787.2,437.8 822.2,395.8 770.0,441.3 783.4,426.5 815.9,378.9 771.5,414.5 786.0,419.7 773.9,425.4 787.6,424.3 818.0,391.7 810.9,375.6 768.0,445.3 807.9,412.8 817.9,378.0 807.6,398.4 815.5,373.1 818.7,383.7 804.8,415.4 796.6,394.6 788.6,406.1 767.4,451.3 802.4,424.4 802.8,408.4 812.2,394.0 780.1,435.1 779.7,421.7 846.1,292.8 811.2,355.0 950.8,256.4 873.8,314.9 838.1,302.7 864.5,301.2 926.5,244.9 891.3,324.9 848.7,309.8 918.3,175.4 844.8,298.6 857.8,285.2 840.2,320.0 808.0,394.7 897.4,273.8 954.4,151.7 885.7,236.2 863.6,266.4 904.4,203.6 905.1,299.0 921.3,209.9 931.9,237.5 816.5,355.1 822.7,390.8 920.2,293.7 854.5,331.6 856.9,356.5 901.9,288.8 817.9,359.0 868.4,293.6 951.1,216.0 894.6,216.4 814.9,352.0 841.4,320.3 875.6,247.5 841.8,348.9 927.7,200.9 867.3,273.8 826.3,353.4 955.9,214.0 830.2,385.2 822.9,397.8 887.0,274.9 830.5,318.0 832.2,353.4 950.2,251.3 826.2,327.9 862.5,276.2 861.3,288.6 881.5,297.8 948.5,181.4 893.5,242.4 806.0,382.8 901.0,209.6 812.0,400.7 893.1,237.8 921.6,198.1 946.9,191.1 876.7,312.9 846.9,342.2 838.8,342.8 932.4,253.2 925.2,265.8 878.1,314.2 948.9,140.5 820.6,344.8 852.9,305.3 853.4,332.5 889.7,256.5 906.6,260.5 824.3,380.0 844.1,355.4 953.6,137.4 922.4,264.2 890.4,310.7 833.4,321.6 936.6,163.3 858.0,326.8 956.6,235.0 903.5,271.9 843.0,362.1 941.2,141.5 859.5,314.3 945.7,249.8 831.5,346.2 808.7,372.6 909.6,247.7 855.9,306.5 923.7,172.8 840.6,315.6 845.6,333.1 809.6,344.3 858.9,317.0 897.8,211.0 883.5,256.3 914.9,186.7 843.5,288.4 946.3,159.4 942.4,248.7 882.4,265.8 870.7,259.8 886.8,268.9 829.2,321.8 960.2,152.6 849.4,327.4 865.0,269.2 851.6,285.6 817.1,355.9 927.8,230.5 855.2,343.3 863.6,276.4 951.9,166.9 814.0,356.7 835.0,315.7 877.4,267.9 907.9,248.1 916.6,219.5 812.9,388.3 930.6,244.8 914.1,199.0 812.5,367.6 957.2,152.1 915.4,227.4 952.6,227.9 869.8,311.4 926.2,179.2 937.6,185.1 849.6,359.5 819.3,381.6 934.9,151.9 912.8,197.9 827.9,371.1 888.7,289.1 865.7,282.3 929.3,165.0 919.3,202.3 825.4,355.8 894.6,275.0 839.3,377.0 929.9,173.2 916.1,275.1 906.5,198.7 853.8,323.9 879.8,233.4 834.2,339.3 847.4,307.2 898.4,274.6 879.5,255.9 860.3,348.6 909.0,217.9 940.5,201.5 815.1,382.6 884.5,318.4 810.7,392.1 891.9,275.3 939.7,164.5 833.0,374.9 850.6,364.0 943.5,248.6 836.0,348.1 958.5,200.1 821.5,332.0 918.6,282.6 889.4,316.8 903.0,196.6 933.9,262.8 959.6,203.9 954.6,146.2 923.4,269.9 874.9,318.5 871.5,325.7 807.2,398.0 885.4,259.3 872.9,313.9 917.3,234.3 958.9,175.3 895.3,238.9 911.4,200.8 957.3,206.8 878.7,295.8 913.0,261.1 947.8,184.6 939.1,199.5 945.1,208.7 851.2,347.6 910.2,264.4 896.3,260.0 944.5,154.0 820.4,372.2 936.1,213.4 881.0,303.3 870.0,262.3 818.7,345.4 868.6,323.8 837.1,325.1 942.5,221.3 938.9,252.2 908.6,200.5 836.2,359.5 828.9,339.3 815.7,365.7 928.9,175.5 900.0,219.4 862.1,276.9 872.3,328.3 887.8,226.6 806.6,388.8 874.6,244.8 912.2,186.8 934.2,254.9 900.8,293.6 827.0,318.9 866.7,287.4 823.7,371.1 899.0,229.5 924.8,194.8 936.9,232.2 932.7,174.3 883.2,297.0 905.4,221.2 856.3,434.3 947.0,428.3 839.9,467.0 865.3,432.9 821.8,433.0 812.8,506.5 871.2,438.1 937.5,365.5 968.4,397.6 957.2,424.9 838.0,464.9 926.3,437.1 847.2,448.6 913.3,401.8 898.1,394.7 873.8,451.9 932.0,428.1 902.8,368.1 961.8,453.3 886.8,454.2 918.2,447.8 941.8,407.2 827.7,463.5 923.1,484.2 965.4,383.7 832.2,446.1 855.1,426.2 881.5,476.4 905.9,365.1 889.7,399.9 1046.8,362.8 1019.8,281.1 1101.4,373.8 1122.7,227.5 1014.5,448.3 1006.3,456.7 1107.4,256.5 1034.3,280.6 991.8,401.2 1096.6,360.2 1000.3,423.6 996.7,373.3 1032.2,331.8 1064.5,430.6 1021.1,437.2 1116.7,370.5 1067.6,388.8 986.0,445.2 1004.1,425.9 1121.3,353.9 1087.9,242.3 1133.5,272.0 1079.2,382.4 1040.2,352.5 1026.4,304.9 1057.3,392.5 1080.3,338.4 1108.2,265.3 1053.8,305.5 1050.2,275.8 1089.8,277.6 977.6,400.7 982.5,324.7 1130.6,343.5 1072.1,411.2 1173.7,48.8 1019.1,175.5 1078.0,174.4 970.8,274.2 1028.6,195.1 1006.1,255.8 1056.4,139.8 998.7,165.5 1139.0,-8.1 1065.5,54.7 1102.5,145.1 1187.8,-57.2 1130.8,71.9 1097.0,45.9 1081.4,117.4 1164.1,100.5 1042.5,136.3 1120.8,63.6 1030.4,158.0 1156.6,79.6 1116.3,123.6 1200.0,80.9 981.1,223.7 1179.4,79.9 961.5,297.8 1012.2,113.2 1053.4,131.4 1008.6,177.8 997.7,114.6 1054.7,40.9 1093.4,47.3 1062.1,112.3 1065.7,125.5 1073.3,94.9 1043.8,159.5 1038.4,137.9 967.8,181.6 1085.1,17.9 1019.7,104.0 1036.7,174.5 1102.2,7.0 1073.4,84.2 1081.8,96.0 1129.0,72.5 1105.1,54.0 1079.4,111.3 1061.1,87.0 1119.6,2.6 1017.3,104.5 1110.2,-3.9 1006.4,148.2 993.7,124.7 975.9,199.8 987.8,145.8 1099.5,30.8 1125.2,-67.3 1114.7,68.8 983.2,160.7 991.0,123.5 970.0,184.2 963.6,216.0 979.9,152.5 1048.0,56.1 1023.6,152.9 1091.3,74.6 1002.5,199.5 1123.2,37.7 1131.8,-41.4 1028.8,81.4 1030.8,184.0"/><polyline fill="none" stroke="none" marker-start="url(#mg)" marker-mid="url(#mg)" marker-end="url(#mg)" points="711.4,492.3 756.8,440.0 690.5,508.3 789.2,404.6 721.5,479.5 757.1,446.2 721.2,483.1 736.2,465.7 741.6,456.7 771.1,429.4 764.4,433.3 783.7,421.4 698.2,507.1 722.9,475.2 780.9,419.5 770.4,433.4 709.2,495.7 773.8,430.3 720.0,482.9 743.0,455.8 762.1,444.4 724.0,479.4 777.5,424.1 779.2,421.7 693.7,510.0 760.6,442.2 732.2,466.8 799.2,407.9 703.4,499.3 702.4,499.1 700.4,504.6 738.2,468.3 755.0,446.6 794.3,410.6 703.7,497.7 706.7,491.0 768.7,429.7 737.6,463.2 751.5,454.5 782.7,413.1 757.6,438.0 759.5,440.5 700.4,497.6 765.3,438.5 716.0,485.7 701.0,505.8 727.1,472.3 692.7,502.6 791.0,407.9 731.8,467.5 791.8,405.1 729.0,470.1 727.5,476.0 791.6,413.5 723.9,480.3 788.2,407.6 756.0,449.8 784.3,423.0 751.1,453.5 717.2,490.5 783.2,420.2 731.5,468.6 690.0,510.2 779.7,417.7 793.3,407.8 720.5,478.8 697.8,505.3 707.3,495.2 780.4,419.7 766.6,428.5 751.8,445.4 701.5,500.4 774.8,424.8 772.2,433.4 739.4,459.3 705.8,496.5 748.9,448.3 709.6,495.6 771.7,423.1 697.3,507.6 724.8,475.9 780.1,422.2 761.8,442.5 785.3,419.2 695.2,512.8 737.8,460.6 699.0,506.8 787.6,413.3 763.0,437.9 689.7,513.2 762.8,431.6 710.6,489.9 695.6,504.2 778.6,423.6 798.0,405.9 706.3,491.1 775.3,421.7 766.1,433.4 742.6,459.2 745.6,456.6 713.7,491.4 691.8,507.2 717.8,478.0 758.5,445.0 728.3,473.1 694.2,506.7 726.6,474.3 711.8,488.5 694.4,515.1 716.3,483.8 793.1,404.5 730.4,473.0 795.4,402.4 718.7,485.3 695.1,501.9 776.8,421.2 753.1,450.3 713.3,486.6 759.1,441.3 705.0,503.1 714.4,489.7 701.9,497.9 702.7,492.2 736.8,466.2 698.5,502.9 782.3,414.3 693.3,511.6 747.2,454.8 692.9,505.8 708.7,500.5 691.4,500.6 689.5,510.8 797.2,407.9 786.4,415.5 767.9,434.3 747.0,455.3 726.2,479.2 744.6,452.7 736.6,458.2 703.0,504.4 718.0,490.1 704.6,500.3 729.4,469.3 796.3,407.9 744.9,455.9 773.1,429.4 790.1,409.2 753.6,442.5 719.5,479.9 778.1,422.1 765.4,437.6 693.5,511.9 699.4,501.0 698.9,501.3 723.2,476.9 735.2,466.4 712.3,495.3 785.5,413.1 695.8,504.2 786.8,413.1 696.6,503.4 763.9,436.6 744.0,456.3 764.2,436.8 699.8,503.3 771.1,426.9 746.6,455.7 733.0,467.3 724.8,478.7 722.5,478.2 705.0,498.7 703.9,504.6 709.1,491.1 708.2,490.1 759.7,447.3 793.9,406.3 796.0,409.2 743.8,453.5 747.8,453.9 697.0,505.1 750.4,452.4 748.5,450.4 729.9,475.3 691.0,514.1 761.0,447.6 776.0,425.8 735.6,473.5 767.6,434.2 792.3,412.8 692.0,513.3 734.6,470.5 752.4,452.1 758.1,439.9 728.0,469.5 742.0,459.8 741.2,459.5 690.4,512.5 775.7,418.7 692.3,505.8 733.6,472.1 798.3,398.4 722.2,483.7 754.6,444.2 734.9,473.5 716.9,488.0 691.4,515.4 725.6,476.0 710.0,490.5 746.0,455.3 767.0,431.6 714.0,494.7 725.4,475.6 730.9,469.5 772.8,427.8 715.5,491.0 761.3,438.0 777.1,427.3 689.9,507.2 707.9,495.4 718.2,479.4 740.1,456.4 711.3,492.7 707.1,492.3 768.3,427.3 755.6,438.4 713.0,488.2 783.9,415.8 790.3,410.5 734.2,471.3 769.4,430.1 696.4,500.2 732.7,464.9 729.8,472.8 754.4,447.3 715.1,488.6 774.3,427.5 789.6,414.8 701.2,509.1 705.7,491.2 781.6,423.9 714.8,490.5 754.0,450.0 785.8,413.3 694.6,500.4 740.4,463.1 749.0,444.6 738.6,464.6 697.7,507.1 719.3,487.9 711.0,492.7 720.7,479.6 788.4,410.7 749.9,442.9 794.8,409.2 743.3,462.6 797.6,414.5 770.0,430.7 690.8,515.5 739.5,460.1 750.3,449.8 722.6,528.1 795.2,458.6 741.8,517.4 734.0,518.0 791.7,441.1 759.6,498.3 815.9,436.2 749.0,507.3 763.2,490.2 759.3,499.3 791.9,448.7 776.6,487.4 798.4,451.1 786.0,466.0 808.2,458.8 784.1,474.5 817.6,438.7 803.5,444.6 769.3,476.4 777.0,473.2 773.5,466.8 750.6,510.6 752.2,511.5 757.5,500.0 738.6,512.3 809.8,452.9 756.3,497.0 811.0,428.7 744.6,508.4 754.1,488.6 729.4,526.4 766.7,490.0 781.0,472.6 789.2,459.7 735.0,514.9 801.0,444.8 737.3,513.1 740.1,515.2 790.3,473.2 769.6,478.2 807.2,439.1 818.1,440.4 806.1,431.2 793.2,448.0 765.2,483.9 774.5,464.7 805.0,458.5 782.9,460.3 794.1,450.3 815.3,427.9 800.3,438.8 811.5,436.8 812.5,432.4 781.6,452.9 746.2,502.6 772.9,479.0 796.7,450.4 814.0,425.7 787.9,466.9 743.0,501.6 767.3,496.6 799.3,460.4 725.9,520.1 778.6,483.1 731.7,509.5 753.8,489.9 802.2,455.0 786.8,477.1 779.8,463.6 771.8,480.2 728.5,520.3 805.4,443.2 747.8,495.2 763.7,481.7 761.0,480.1 794.7,421.4 824.5,382.2 803.9,386.1 774.6,446.2 823.8,380.2 811.8,404.5 813.6,380.2 820.0,375.6 790.0,427.5 823.3,390.7 781.8,446.6 790.8,431.7 778.2,443.6 778.8,409.3 813.4,379.3 776.6,419.9 808.9,389.3 797.6,419.4 800.0,416.9 801.9,399.7 791.4,411.4 776.0,424.6 800.9,402.3 821.2,374.9 810.4,381.3 769.6,425.3 792.4,432.7 798.8,402.0 781.3,420.3 784.4,433.8 814.4,392.4 820.2,377.8 799.5,409.3 770.9,431.5 793.2,398.0 795.5,406.9 785.4,435.5 797.5,403.6 784.9,441.4 794.2,402.6 782.5,438.0 777.9,412.2 768.5,433.3 806.4,382.9 805.8,400.9 822.4,381.7 805.3,404.8 772.5,424.0 775.4,424.9 816.5,401.6 773.3,442.9 793.2,410.8 809.5,405.8 789.4,428.6 787.2,438.3 822.2,401.6 770.0,453.8 783.4,426.3 815.9,381.7 771.5,423.9 786.0,418.3 773.9,420.1 787.6,428.6 818.0,386.0 810.9,383.1 768.0,460.2 807.9,411.5 817.9,381.9 807.6,404.3 815.5,375.2 818.7,391.1 804.8,416.4 796.6,396.1 788.6,412.9 767.4,446.5 802.4,417.1 802.8,406.0 812.2,404.1 780.1,445.0 779.7,430.0 846.1,305.1 811.2,374.5 950.8,246.3 873.8,309.4 838.1,312.0 864.5,297.5 926.5,239.1 891.3,319.9 848.7,318.5 918.3,197.2 844.8,307.5 857.8,290.9 840.2,328.9 808.0,391.9 897.4,279.9 954.4,163.0 885.7,246.0 863.6,270.7 904.4,223.1 905.1,289.3 921.3,212.5 931.9,230.0 816.5,357.3 822.7,403.4 920.2,289.6 854.5,336.7 856.9,357.4 901.9,298.1 817.9,359.4 868.4,301.8 951.1,226.1 894.6,227.6 814.9,359.7 841.4,339.9 875.6,247.4 841.8,338.4 927.7,199.7 867.3,288.1 826.3,365.6 955.9,218.5 830.2,390.8 822.9,384.0 887.0,282.9 830.5,327.5 832.2,353.3 950.2,246.5 826.2,345.1 862.5,273.7 861.3,297.9 881.5,303.7 948.5,202.7 893.5,251.4 806.0,396.5 901.0,233.0 812.0,408.1 893.1,238.2 921.6,198.3 946.9,206.4 876.7,306.5 846.9,350.2 838.8,341.3 932.4,264.4 925.2,273.7 878.1,311.3 948.9,139.2 820.6,357.3 852.9,325.4 853.4,330.6 889.7,262.8 906.6,274.1 824.3,378.0 844.1,358.0 953.6,146.0 922.4,258.6 890.4,313.1 833.4,330.7 936.6,174.5 858.0,345.7 956.6,243.7 903.5,271.5 843.0,354.6 941.2,160.6 859.5,319.2 945.7,246.4 831.5,337.0 808.7,378.4 909.6,249.6 855.9,306.1 923.7,180.4 840.6,329.5 845.6,325.8 809.6,353.5 858.9,329.5 897.8,220.0 883.5,257.2 914.9,201.3 843.5,291.1 946.3,167.1 942.4,250.2 882.4,282.4 870.7,260.9 886.8,263.7 829.2,332.9 960.2,173.9 849.4,324.7 865.0,281.5 851.6,295.1 817.1,346.3 927.8,254.8 855.2,369.2 863.6,287.0 951.9,174.2 814.0,373.8 835.0,332.3 877.4,269.6 907.9,265.8 916.6,213.3 812.9,381.9 930.6,249.9 914.1,200.8 812.5,367.0 957.2,162.5 915.4,233.0 952.6,225.1 869.8,310.6 926.2,189.2 937.6,190.8 849.6,351.8 819.3,402.4 934.9,160.6 912.8,209.4 827.9,380.2 888.7,299.5 865.7,296.4 929.3,175.4 919.3,218.1 825.4,369.0 894.6,273.8 839.3,383.8 929.9,181.6 916.1,275.5 906.5,216.2 853.8,333.6 879.8,250.6 834.2,349.8 847.4,313.0 898.4,280.0 879.5,270.5 860.3,349.7 909.0,225.9 940.5,220.1 815.1,374.2 884.5,336.4 810.7,399.6 891.9,277.0 939.7,163.2 833.0,379.3 850.6,368.9 943.5,260.6 836.0,349.7 958.5,187.8 821.5,340.2 918.6,290.4 889.4,313.2 903.0,213.2 933.9,270.1 959.6,219.3 954.6,149.8 923.4,265.1 874.9,317.6 871.5,322.3 807.2,409.5 885.4,267.2 872.9,320.4 917.3,250.4 958.9,186.6 895.3,246.0 911.4,196.7 957.3,229.3 878.7,299.5 913.0,269.2 947.8,188.8 939.1,202.0 945.1,226.9 851.2,343.3 910.2,262.4 896.3,270.1 944.5,165.6 820.4,365.0 936.1,208.1 881.0,301.4 870.0,271.8 818.7,353.9 868.6,349.0 837.1,342.9 942.5,222.4 938.9,263.2 908.6,229.9 836.2,345.2 828.9,354.0 815.7,353.4 928.9,176.3 900.0,236.8 862.1,275.4 872.3,344.3 887.8,236.4 806.6,396.8 874.6,253.6 912.2,199.5 934.2,249.7 900.8,294.1 827.0,337.1 866.7,286.6 823.7,364.9 899.0,226.0 924.8,192.2 936.9,222.8 932.7,181.6 883.2,334.1 905.4,236.5 856.3,434.1 947.0,419.6 839.9,467.2 865.3,428.6 821.8,435.2 812.8,508.7 871.2,438.0 937.5,361.9 968.4,398.7 957.2,449.7 838.0,459.1 926.3,440.5 847.2,460.1 913.3,404.0 898.1,391.7 873.8,455.4 932.0,432.4 902.8,383.7 961.8,463.6 886.8,458.8 918.2,447.8 941.8,399.9 827.7,470.6 923.1,477.3 965.4,392.6 832.2,436.6 855.1,427.2 881.5,469.9 905.9,377.1 889.7,399.4 1046.8,354.7 1019.8,293.9 1101.4,359.9 1122.7,229.8 1014.5,434.5 1006.3,460.6 1107.4,267.2 1034.3,272.3 991.8,415.7 1096.6,359.6 1000.3,429.9 996.7,375.4 1032.2,332.7 1064.5,438.8 1021.1,428.8 1116.7,353.6 1067.6,368.6 986.0,441.6 1004.1,427.2 1121.3,356.8 1087.9,232.3 1133.5,281.7 1079.2,381.9 1040.2,343.7 1026.4,290.7 1057.3,390.7 1080.3,332.7 1108.2,274.6 1053.8,313.8 1050.2,294.6 1089.8,303.7 977.6,394.2 982.5,309.4 1130.6,351.0 1072.1,413.8 1173.7,56.1 1019.1,164.0 1078.0,155.8 970.8,255.4 1028.6,190.0 1006.1,231.9 1056.4,157.0 998.7,168.9 1139.0,3.5 1065.5,65.2 1102.5,131.0 1187.8,-37.5 1130.8,49.3 1097.0,52.8 1081.4,112.7 1164.1,87.0 1042.5,131.4 1120.8,46.5 1030.4,144.9 1156.6,69.2 1116.3,150.1 1200.0,100.5 981.1,222.0 1179.4,70.2 961.5,294.9 1012.2,112.8 1053.4,140.7 1008.6,183.2 997.7,124.2 1054.7,40.4 1093.4,37.0 1062.1,109.0 1065.7,123.8 1073.3,87.5 1043.8,144.5 1038.4,148.7 967.8,199.2 1085.1,19.3 1019.7,99.4 1036.7,167.4 1102.2,21.3 1073.4,84.2 1081.8,95.1 1129.0,66.8 1105.1,58.8 1079.4,89.3 1061.1,98.5 1119.6,3.5 1017.3,114.6 1110.2,-6.7 1006.4,135.4 993.7,153.8 975.9,190.2 987.8,142.4 1099.5,20.1 1125.2,-43.4 1114.7,88.2 983.2,189.0 991.0,131.1 970.0,183.8 963.6,215.1 979.9,162.0 1048.0,67.6 1023.6,178.2 1091.3,85.6 1002.5,200.2 1123.2,43.3 1131.8,-28.0 1028.8,97.4 1030.8,178.4"/><line x1="683.0" y1="555.8" x2="1199.9" y2="1.1" stroke="#000" stroke-width="1.7" stroke-dasharray="6.7 2.47"/><line x1="683.0" y1="539.5" x2="1199.9" y2="42.1" stroke="#d62728" stroke-width="3.7"/><line x1="683.0" y1="527.0" x2="1199.9" y2="84.1" stroke="#ff7f0e" stroke-width="3.7"/><line x1="683.0" y1="534.5" x2="1199.9" y2="55.4" stroke="#1f77b4" stroke-width="3.7"/><line x1="683.0" y1="520.1" x2="1199.9" y2="79.6" stroke="#2ca02c" stroke-width="3.7"/></g><rect x="692.6" y="10.799999999999999" width="264.8" height="247.8" rx="3.5" fill="#fff" fill-opacity="1" stroke="#d0d0d0" stroke-width="1.1"/><circle cx="719.4" cy="26.85" r="2.25" fill="#d62728"/><text x="753.5" y="31.85" font-size="19">VMD-LSTM-ED</text><path d="M719.4 51.48l2.35 4.1h-4.7z" fill="#ff7f0e"/><text x="753.5" y="58.78" font-size="19">VMD-LSTM</text><rect x="717.25" y="78.56" width="4.3" height="4.3" fill="#1f77b4"/><text x="753.5" y="85.71" font-size="19">LSTM-ED</text><path d="M717.60 105.84l3.6 3.6m0 -3.6l-3.6 3.6" stroke="#2ca02c" stroke-width="1.7"/><text x="753.5" y="112.64" font-size="19">LSTM</text><line x1="699.9" y1="133.17" x2="738.7" y2="133.17" stroke="#000" stroke-width="1.7" stroke-dasharray="6.7 2.47"/><text x="753.5" y="139.57" font-size="19">Ideal Fitline</text><line x1="698.0" y1="160.10" x2="740.5" y2="160.10" stroke="#d62728" stroke-width="3.7"/><text x="753.5" y="166.50" font-size="19">Fitline(VMD-LSTM-ED)</text><line x1="698.0" y1="187.03" x2="740.5" y2="187.03" stroke="#ff7f0e" stroke-width="3.7"/><text x="753.5" y="193.43" font-size="19">Fitline(VMD-LSTM)</text><line x1="698.0" y1="213.96" x2="740.5" y2="213.96" stroke="#1f77b4" stroke-width="3.7"/><text x="753.5" y="220.36" font-size="19">Fitline(LSTM-ED)</text><line x1="698.0" y1="240.89" x2="740.5" y2="240.89" stroke="#2ca02c" stroke-width="3.7"/><text x="753.5" y="247.29" font-size="19">Fitline(LSTM)</text><rect x="683.0" y="1.1" width="516.9" height="554.7" fill="none" stroke="#262626" stroke-width="1.7"/><line x1="683.0" y1="555.8" x2="683.0" y2="552.8" stroke="#262626" stroke-width="1.2"/><line x1="683.0" y1="555.8" x2="686.0" y2="555.8" stroke="#262626" stroke-width="1.2"/><text x="683.0" y="578.2" font-size="26.5" text-anchor="middle">0</text><text x="680.6" y="566.0" font-size="26.5" text-anchor="end">0</text><line x1="779.9" y1="555.8" x2="779.9" y2="552.8" stroke="#262626" stroke-width="1.2"/><line x1="683.0" y1="451.8" x2="686.0" y2="451.8" stroke="#262626" stroke-width="1.2"/><text x="779.9" y="578.2" font-size="26.5" text-anchor="middle">1500</text><text x="680.6" y="462.0" font-size="26.5" text-anchor="end">1500</text><line x1="876.8" y1="555.8" x2="876.8" y2="552.8" stroke="#262626" stroke-width="1.2"/><line x1="683.0" y1="347.8" x2="686.0" y2="347.8" stroke="#262626" stroke-width="1.2"/><text x="876.8" y="578.2" font-size="26.5" text-anchor="middle">3000</text><text x="680.6" y="358.0" font-size="26.5" text-anchor="end">3000</text><line x1="973.8" y1="555.8" x2="973.8" y2="552.8" stroke="#262626" stroke-width="1.2"/><line x1="683.0" y1="243.8" x2="686.0" y2="243.8" stroke="#262626" stroke-width="1.2"/><text x="973.8" y="578.2" font-size="26.5" text-anchor="middle">4500</text><text x="680.6" y="254.0" font-size="26.5" text-anchor="end">4500</text><line x1="1070.7" y1="555.8" x2="1070.7" y2="552.8" stroke="#262626" stroke-width="1.2"/><line x1="683.0" y1="139.8" x2="686.0" y2="139.8" stroke="#262626" stroke-width="1.2"/><text x="1070.7" y="578.2" font-size="26.5" text-anchor="middle">6000</text><text x="680.6" y="150.0" font-size="26.5" text-anchor="end">6000</text><line x1="1167.6" y1="555.8" x2="1167.6" y2="552.8" stroke="#262626" stroke-width="1.2"/><line x1="683.0" y1="35.8" x2="686.0" y2="35.8" stroke="#262626" stroke-width="1.2"/><text x="1167.6" y="578.2" font-size="26.5" text-anchor="middle">7500</text><text x="680.6" y="46.0" font-size="26.5" text-anchor="end">7500</text><text x="1193.4" y="548.8" font-size="31.1" text-anchor="end">(b) 3-day ahead</text><g clip-path="url(#clc)"><polyline fill="none" stroke="none" marker-start="url(#mr)" marker-mid="url(#mr)" marker-end="url(#mr)" points="105.3,1139.0 107.5,1136.4 117.2,1132.0 99.9,1139.0 120.9,1126.4 100.5,1138.9 90.5,1141.0 105.0,1133.6 95.1,1137.1 90.2,1138.7 110.2,1131.9 92.0,1140.0 109.8,1136.6 113.3,1130.8 94.2,1137.8 112.2,1135.0 89.0,1136.5 105.8,1130.2 114.9,1131.6 99.7,1136.4 122.5,1130.7 95.7,1137.5 92.4,1139.9 102.6,1131.3 119.2,1133.5 117.9,1129.2 116.0,1134.3 108.7,1136.7 103.4,1132.9 106.2,1133.7 110.7,1133.5 92.9,1136.7 108.0,1133.9 121.6,1126.6 96.7,1136.1 100.9,1134.0 121.8,1135.7 111.1,1134.5 98.3,1137.0 114.2,1134.9 90.9,1137.3 108.4,1130.9 89.9,1140.7 115.4,1137.4 119.8,1133.7 111.6,1129.6 91.8,1139.6 114.8,1133.5 120.6,1132.4 97.0,1136.4 116.7,1131.5 103.0,1135.8 101.3,1138.7 106.8,1134.5 103.8,1132.7 104.2,1135.1 117.3,1132.3 113.7,1133.3 122.7,1129.9 112.6,1128.2 96.1,1136.5 99.0,1136.9 97.3,1134.1 93.6,1138.2 118.8,1134.7 102.1,1130.4 120.0,1129.0 97.8,1138.1 94.8,1138.5 109.4,1136.1 175.7,1045.4 172.9,1053.4 121.3,1104.0 134.5,1091.3 168.1,1055.6 136.3,1083.0 132.8,1089.5 128.4,1097.1 115.6,1107.2 174.8,1049.0 156.2,1060.6 153.4,1068.8 185.6,1037.8 140.3,1090.9 113.9,1108.5 104.7,1112.8 167.8,1048.4 121.9,1103.8 104.3,1116.6 111.1,1113.5 176.4,1052.8 188.5,1026.8 138.5,1085.4 145.3,1082.7 136.8,1093.7 186.4,1038.7 119.0,1104.6 117.6,1098.8 184.1,1040.5 109.9,1108.5 147.2,1077.8 180.3,1046.5 130.5,1094.2 102.0,1120.7 116.1,1109.5 120.5,1096.0 162.4,1066.4 131.1,1091.9 103.4,1119.1 173.2,1049.2 125.1,1090.5 107.0,1123.4 169.1,1053.1 166.1,1056.4 124.0,1107.0 158.7,1064.1 142.2,1081.0 106.6,1107.2 109.2,1109.3 143.5,1080.2 190.6,1032.0 182.0,1038.1 157.5,1067.9 177.4,1045.8 159.6,1063.6 164.0,1058.2 181.8,1039.4 149.8,1079.4 165.2,1063.2 135.6,1087.0 187.4,1042.2 179.5,1043.3 150.0,1078.9 148.2,1080.3 123.4,1097.1 155.6,1066.8 178.3,1046.3 170.1,1053.3 189.3,1042.8 152.5,1072.8 129.7,1093.5 184.0,1041.9 160.8,1055.2 112.1,1107.3 141.5,1084.8 154.1,1066.4 139.3,1081.4 161.7,1061.4 118.1,1106.5 144.3,1077.9 146.8,1084.4 113.1,1109.5 100.8,1124.1 171.2,1057.5 163.8,1063.9 131.7,1086.8 151.4,1072.2 125.8,1096.0 108.4,1119.8 126.9,1095.5 211.2,1067.1 174.5,1090.9 160.2,1095.3 162.2,1100.2 177.0,1062.3 169.1,1104.5 183.5,1064.5 193.0,1078.2 195.4,1084.3 196.7,1086.6 208.2,1041.2 164.5,1100.8 188.2,1061.0 185.6,1091.8 152.8,1103.8 161.1,1096.1 172.1,1078.0 144.6,1107.1 171.2,1086.9 121.9,1136.4 172.8,1079.8 143.5,1106.4 179.3,1102.2 175.5,1108.8 203.9,1093.2 132.0,1120.4 131.3,1124.8 120.7,1127.9 169.5,1095.1 148.0,1101.1 216.3,1038.0 133.8,1109.8 153.5,1110.6 206.6,1069.4 200.3,1091.1 189.1,1049.5 185.7,1071.7 129.1,1124.9 179.1,1090.5 127.3,1122.9 127.9,1123.9 150.3,1117.3 213.3,1044.6 140.2,1121.4 166.8,1073.1 209.7,1062.9 145.8,1110.8 137.3,1125.6 164.1,1100.6 204.6,1047.5 213.8,1088.3 205.5,1088.7 194.7,1049.7 190.3,1067.3 122.3,1130.2 165.5,1100.2 200.7,1061.3 215.5,1072.0 159.2,1101.2 125.5,1114.8 198.4,1073.3 156.2,1121.4 135.7,1129.8 155.4,1109.6 182.1,1098.7 177.9,1100.4 124.8,1121.4 183.4,1078.3 211.9,1075.9 135.0,1127.6 151.6,1092.9 202.7,1066.0 157.8,1093.6 208.5,1034.8 191.1,1063.0 181.2,1093.4 141.0,1110.7 156.9,1082.8 136.2,1108.1 193.5,1091.9 187.0,1071.2 147.0,1117.6 130.5,1124.2 139.1,1102.5 123.8,1116.6 199.0,1073.7 141.8,1111.9 149.1,1103.7 146.3,1098.4 168.1,1110.0 290.3,796.7 216.7,938.8 275.3,905.4 282.7,920.4 193.0,1010.4 331.8,751.9 267.3,891.2 285.3,870.8 317.7,835.2 170.4,996.6 169.8,1055.3 164.4,1048.8 299.0,833.5 188.7,1026.1 306.2,887.0 323.4,849.6 286.3,921.7 277.3,880.3 331.1,804.7 308.4,816.5 226.0,906.4 341.5,781.9 171.1,1009.3 186.6,1025.7 250.7,922.6 182.5,1014.9 156.8,1054.0 282.3,938.0 157.1,1068.7 187.9,968.5 287.5,894.4 301.2,850.0 253.2,966.9 222.2,965.2 235.6,942.2 320.5,778.6 251.6,865.4 324.9,813.7 164.8,1071.9 255.5,898.7 301.7,883.0 355.5,857.1 204.0,1019.6 218.1,946.3 280.8,839.7 354.6,855.8 238.4,983.3 342.5,839.5 167.3,1060.5 200.4,1012.7 190.0,1043.2 319.6,892.3 294.8,904.4 357.7,758.3 315.9,791.5 245.9,933.8 274.1,860.0 179.6,1045.8 209.2,1005.6 230.7,968.4 204.9,948.4 181.3,1000.7 217.5,982.6 209.3,1009.4 333.1,752.7 239.5,954.5 232.3,907.3 272.4,825.3 302.2,864.3 298.5,862.2 276.0,917.1 153.7,1071.0 245.0,909.7 252.8,960.8 309.4,805.0 325.7,861.7 316.4,777.0 271.4,924.0 273.7,859.1 265.7,913.1 334.3,817.8 291.1,847.8 228.6,952.3 224.3,909.3 344.0,794.7 250.1,936.1 233.5,928.5 179.8,1052.4 237.9,942.1 237.2,939.1 233.1,970.0 305.9,916.9 249.0,940.0 221.1,953.9 268.9,951.4 279.5,905.0 336.0,838.1 295.3,819.6 276.9,883.0 304.0,795.7 257.6,859.0 264.7,882.2 283.9,848.6 310.7,904.4 320.8,826.4 162.2,1065.2 180.9,986.2 338.0,872.0 198.5,1021.3 293.8,883.8 240.2,883.2 246.0,976.3 295.9,904.7 161.1,1013.1 318.5,815.5 176.9,1064.9 213.6,1009.7 160.4,1023.8 240.6,952.8 297.7,874.6 197.9,972.6 174.1,1017.6 346.1,768.1 269.7,838.9 235.8,908.5 159.4,1070.3 231.5,945.2 163.3,1031.7 304.9,889.9 196.5,1003.7 307.4,879.7 313.1,885.9 289.4,927.3 244.1,927.7 258.2,894.3 288.3,884.8 191.8,1017.9 262.5,956.2 177.8,1024.4 342.9,766.8 171.8,1062.3 314.5,891.6 214.9,936.9 284.5,830.8 158.1,1072.6 340.3,745.5 228.8,905.8 254.3,967.4 318.5,848.7 293.1,818.2 314.9,889.9 168.2,1022.1 242.6,975.3 322.9,756.1 350.2,770.3 268.5,882.8 259.9,848.6 213.0,993.4 202.2,1024.5 321.7,818.5 211.5,1003.8 333.4,845.4 327.8,810.5 194.4,1028.4 174.9,1047.2 223.8,961.9 310.0,920.6 183.1,1022.2 216.0,961.2 219.8,956.1 339.1,762.7 346.7,858.3 292.6,832.5 155.4,1051.1 266.3,954.5 225.6,950.5 226.8,910.5 337.9,762.4 327.7,864.5 352.4,822.5 299.8,906.9 166.7,1066.1 218.7,955.4 260.7,932.6 227.4,949.9 261.6,887.2 356.2,816.4 279.0,865.3 311.5,869.3 206.2,954.1 199.7,959.0 248.1,976.4 357.4,834.4 154.1,1075.1 358.8,725.9 243.4,930.7 286.6,850.3 247.2,955.7 172.9,1059.1 258.8,935.9 168.7,1034.5 326.8,787.5 186.6,998.7 312.8,899.8 223.1,995.2 272.6,881.8 354.2,792.3 207.5,1016.5 200.7,1022.3 345.4,856.2 324.6,825.1 263.6,920.1 256.6,909.9 184.2,1007.4 330.5,891.0 212.1,1019.4 339.7,843.1 281.1,873.4 303.3,864.8 189.0,989.9 207.7,1031.9 203.7,1028.5 185.3,999.3 344.3,826.2 202.8,934.8 329.7,858.7 308.3,821.3 334.9,872.8 175.7,1020.1 229.9,990.2 195.2,983.8 336.5,804.5 234.5,901.7 163.1,1063.1 220.8,987.9 210.1,1015.4 328.6,835.4 158.6,1044.8 270.8,854.2 255.1,878.6 249.6,982.1 185.0,1042.9 178.1,995.8 241.3,970.7 347.4,805.5 349.7,800.5 175.5,1009.4 154.9,1065.3 297.4,943.4 192.2,1043.1 196.8,981.4 214.3,962.4 260.8,963.0 277.9,949.1 264.1,957.0 352.9,817.7 291.7,820.7 350.8,764.6 152.6,1031.2 165.7,1050.9 190.7,982.3 348.8,721.0 351.6,852.1 205.4,1006.5 194.4,950.1 369.8,968.3 302.2,1092.6 234.3,1017.3 282.9,1003.7 262.2,1009.3 364.8,1036.6 331.0,936.9 333.1,1020.6 375.0,1004.4 351.0,1011.0 311.4,1005.5 294.1,1086.4 246.0,1081.2 273.7,1067.8 370.4,932.8 305.6,1002.1 324.4,989.6 317.8,998.9 254.6,1102.2 339.1,1044.6 251.5,1123.8 257.5,1037.0 365.7,1017.7 358.0,915.3 240.6,1031.2 248.2,1076.5 321.7,1060.6 320.9,936.8 284.2,1072.3 249.2,1009.9 354.2,1010.1 267.7,1057.0 343.5,942.8 303.0,974.9 298.1,969.3 348.5,1043.3 294.9,969.9 280.6,1032.4 327.8,1076.6 230.1,1115.4 236.6,1077.7 290.7,1062.0 353.5,946.9 288.3,1027.6 361.6,1002.8 336.2,943.5 342.8,917.7 263.4,1024.5 310.8,950.3 271.7,1100.8 267.0,1062.9 278.0,1048.8 378.0,965.2 242.9,1079.9 315.9,1060.0 452.6,958.6 378.8,1076.8 498.9,1053.0 470.5,1032.2 560.1,914.6 478.6,1046.5 526.6,1010.9 590.0,880.3 419.2,960.8 576.5,945.8 425.6,948.7 563.4,1024.7 514.4,1033.2 496.8,921.9 392.5,1020.6 540.4,965.0 442.3,1046.1 400.8,1084.6 435.0,870.0 426.8,887.5 491.5,880.6 559.4,808.4 518.0,866.2 479.6,823.1 448.6,926.1 500.8,815.8 473.0,824.1 530.0,838.9 421.1,862.2 540.1,856.6 580.5,793.4 459.9,892.4 505.5,781.6 415.3,895.8 587.0,808.3 455.6,856.1 464.3,923.6 561.5,828.6 515.8,842.6 408.6,906.9 535.9,790.2 591.4,802.1 548.0,783.5 574.7,768.0 446.9,768.6 458.2,673.6 400.8,759.7 467.0,670.5 377.1,789.3 540.3,721.1 568.7,665.0 593.5,613.4 436.7,730.6 366.5,918.7 360.4,858.5 577.1,635.2 405.8,857.3 490.3,737.9 546.7,657.3 450.9,741.6 499.9,709.5 482.1,725.3 561.4,619.8 381.3,793.6 516.0,622.2 602.2,533.2 584.7,601.4 507.2,658.6 429.6,785.7 528.3,653.0 575.3,625.8 394.1,757.6 521.7,653.6 425.0,910.9 471.9,742.1 497.5,763.2 419.8,802.6 549.9,718.8 411.1,850.9 434.0,763.2 507.6,677.7 410.3,733.8 353.8,816.2 420.7,724.4 373.0,845.0 418.3,716.3 391.8,802.1 432.9,740.2 472.8,696.6 386.1,799.7 456.9,729.3 396.4,794.7 365.1,802.8 477.6,610.8 481.7,711.4 442.6,679.9 382.0,720.7 460.6,640.0 463.1,743.5 370.4,769.0 405.3,807.8 402.8,696.8 427.2,678.2 360.5,817.6 440.4,712.2 451.2,669.8 357.0,845.0 487.2,608.3 387.6,831.9 503.5,560.5 499.0,628.9 376.9,814.5 446.6,710.3 495.9,577.1 472.5,672.4 466.3,678.3 488.8,627.5 412.3,714.7 426.1,742.9"/><polyline fill="none" stroke="none" marker-start="url(#mo)" marker-mid="url(#mo)" marker-end="url(#mo)" points="129.3,1117.6 130.7,1120.8 132.2,1117.9 134.1,1112.0 135.4,1118.6 124.9,1118.9 133.1,1118.9 136.1,1114.9 138.1,1115.7 120.2,1125.6 114.1,1121.3 122.2,1119.0 115.7,1127.1 136.9,1117.6 128.6,1121.9 119.0,1120.3 130.9,1118.8 126.6,1117.4 138.9,1112.8 124.3,1117.6 121.8,1119.0 115.2,1125.9 116.6,1125.4 120.5,1123.2 134.4,1121.4 117.0,1116.9 118.6,1125.2 128.1,1119.3 126.4,1120.5 123.2,1122.6 92.1,1098.7 92.6,1092.1 91.8,1095.5 97.0,1094.9 97.3,1096.4 109.4,1085.4 110.0,1079.1 107.7,1078.9 115.3,1073.8 115.1,1071.3 115.9,1068.8 117.9,1070.6 116.9,1068.0 130.6,1057.1 128.4,1055.7 129.4,1052.2 132.6,1054.1 134.5,1047.2 135.0,1048.0 137.7,1046.4 140.6,1041.8 144.7,1041.2 149.6,1033.8 152.4,1036.8 150.3,1027.7 152.6,1028.5 153.6,1027.3 159.4,1028.4 163.5,1022.2 164.6,1017.4 163.0,1019.5 160.5,1020.2 168.6,1017.9 163.5,1019.9 169.2,1019.1 165.8,1015.5 170.1,1014.6 172.1,1007.9 170.0,1011.3 173.3,1015.3 97.2,1086.1 102.3,1079.9 93.1,1090.9 143.9,1047.2 127.9,1055.3 100.7,1081.0 118.1,1070.0 137.1,1056.7 150.1,1041.0 158.8,1034.6 133.2,1061.5 115.5,1069.2 104.2,1082.4 99.2,1084.8 164.9,1023.4 128.1,1058.8 124.9,1061.0 146.8,1046.7 152.8,1044.4 95.6,1092.3 91.0,1091.6 119.8,1068.5 114.5,1073.5 116.8,1076.2 145.2,1049.2 162.4,1029.4 109.5,1075.2 122.6,1070.1 112.2,1079.7 161.7,1031.5 155.5,1037.9 151.3,1035.8 125.4,1056.5 110.2,1085.9 157.0,1033.6 95.3,1088.2 130.9,1059.4 139.3,1047.0 153.4,1029.5 148.2,1036.1 107.4,1085.4 141.2,1054.9 107.0,1083.8 104.5,1080.5 160.1,1037.5 121.7,1065.4 136.5,1055.5 142.0,1049.5 132.3,1058.0 135.2,1058.8 211.2,1061.4 174.5,1084.5 160.2,1087.8 162.2,1104.3 177.0,1065.4 169.1,1099.9 183.5,1069.4 193.0,1079.8 195.4,1087.9 196.7,1079.8 208.2,1041.1 164.5,1100.7 188.2,1064.6 185.6,1095.8 152.8,1090.8 161.1,1082.7 172.1,1071.5 144.6,1105.1 171.2,1086.0 121.9,1133.7 172.8,1081.0 143.5,1105.6 179.3,1090.5 175.5,1101.9 203.9,1082.8 132.0,1133.2 131.3,1117.0 120.7,1129.3 169.5,1094.0 148.0,1104.5 216.3,1044.5 133.8,1106.6 153.5,1100.5 206.6,1062.1 200.3,1094.5 189.1,1054.2 185.7,1071.8 129.1,1126.3 179.1,1091.5 127.3,1128.3 127.9,1113.1 150.3,1114.0 213.3,1043.5 140.2,1117.3 166.8,1079.5 209.7,1066.5 145.8,1113.2 137.3,1128.6 164.1,1104.3 204.6,1047.7 213.8,1088.6 205.5,1077.2 194.7,1052.4 190.3,1059.4 122.3,1132.0 165.5,1101.1 200.7,1069.7 215.5,1058.8 159.2,1105.2 125.5,1118.4 198.4,1072.9 156.2,1113.3 135.7,1121.9 155.4,1108.8 182.1,1098.9 177.9,1087.4 124.8,1124.5 183.4,1077.0 211.9,1080.0 135.0,1125.8 151.6,1093.0 202.7,1063.0 157.8,1094.7 208.5,1037.8 191.1,1051.6 181.2,1088.9 141.0,1112.2 156.9,1094.1 136.2,1103.7 193.5,1098.0 187.0,1057.2 147.0,1116.1 130.5,1118.8 139.1,1108.1 123.8,1122.5 199.0,1075.0 141.8,1108.6 149.1,1106.9 146.3,1106.3 168.1,1111.5 116.4,1063.7 117.7,1060.8 117.7,1061.4 121.1,1052.3 123.6,1049.2 124.3,1043.0 125.0,1045.1 125.8,1039.5 129.2,1035.6 128.6,1034.9 130.2,1031.8 132.3,1027.4 132.6,1025.4 132.9,1023.6 133.5,1016.9 133.9,1015.2 136.8,1003.9 138.4,996.7 137.2,993.2 145.1,974.6 144.5,971.5 148.1,965.2 151.4,964.0 155.6,960.7 159.8,959.0 158.3,960.4 169.2,960.7 176.6,964.8 179.8,966.6 182.2,968.7 176.4,942.6 181.1,935.9 190.9,932.0 191.1,931.2 193.3,921.6 199.4,905.8 204.4,902.5 216.1,891.9 217.5,887.9 230.6,872.9 231.9,873.6 232.4,870.1 233.0,870.4 234.6,871.3 195.9,914.4 162.5,1009.8 255.3,847.0 230.6,899.9 214.0,877.6 170.8,978.7 173.4,962.0 198.2,934.8 260.0,863.8 168.1,974.2 182.9,973.2 153.0,1002.7 269.9,794.8 244.9,829.8 264.6,827.8 251.4,852.5 274.5,762.0 237.4,857.4 221.4,863.3 188.9,942.0 227.0,878.0 238.7,894.0 207.3,937.5 191.7,941.7 248.3,827.5 210.5,916.7 222.6,887.4 177.4,966.7 158.0,1000.2 204.9,907.8 290.3,798.4 216.7,912.6 275.3,917.6 282.7,910.0 193.0,1003.9 331.8,739.8 267.3,843.9 285.3,860.7 317.7,824.9 170.4,983.8 169.8,1053.2 164.4,1049.0 299.0,819.2 188.7,992.7 306.2,889.5 323.4,842.0 286.3,930.0 277.3,867.6 331.1,775.7 308.4,793.9 226.0,896.9 341.5,778.6 171.1,1015.0 186.6,1033.6 250.7,921.8 182.5,998.4 156.8,1053.9 282.3,922.0 157.1,1062.1 187.9,970.2 287.5,890.1 301.2,838.7 253.2,966.7 222.2,958.2 235.6,950.2 320.5,757.7 251.6,853.3 324.9,813.7 164.8,1054.4 255.5,888.5 301.7,888.0 355.5,844.7 204.0,1007.0 218.1,937.6 280.8,825.4 354.6,863.3 238.4,971.1 342.5,839.3 167.3,1054.9 200.4,985.3 190.0,1019.4 319.6,887.6 294.8,869.6 357.7,736.3 315.9,779.1 245.9,923.4 274.1,852.4 179.6,1037.3 209.2,1010.8 230.7,941.6 204.9,931.2 181.3,969.5 217.5,977.7 209.3,1009.0 333.1,728.0 239.5,937.7 232.3,887.5 272.4,829.9 302.2,855.2 298.5,841.7 276.0,918.1 153.7,1043.3 245.0,903.2 252.8,952.8 309.4,789.6 325.7,835.2 316.4,752.1 271.4,921.1 273.7,848.4 265.7,897.0 334.3,807.9 291.1,853.5 228.6,950.6 224.3,917.4 344.0,777.1 250.1,940.1 233.5,935.7 179.8,1046.3 237.9,925.1 237.2,931.6 233.1,978.2 305.9,907.3 249.0,930.5 221.1,929.6 268.9,939.2 279.5,879.4 336.0,824.5 295.3,814.0 276.9,853.9 304.0,779.4 257.6,858.3 264.7,864.5 283.9,843.4 310.7,880.5 320.8,807.5 162.2,1042.0 180.9,960.3 338.0,859.2 198.5,1005.6 293.8,859.9 240.2,867.5 246.0,944.9 295.9,909.9 161.1,1010.3 318.5,785.0 176.9,1048.9 213.6,1004.4 160.4,1005.6 240.6,927.3 297.7,873.9 197.9,965.7 174.1,996.9 346.1,754.6 269.7,810.3 235.8,907.2 159.4,1056.7 231.5,980.6 163.3,1031.5 304.9,876.5 196.5,1007.3 307.4,873.8 313.1,875.6 289.4,931.3 244.1,928.0 258.2,877.7 288.3,868.7 191.8,1027.3 262.5,952.1 177.8,1037.5 342.9,763.4 171.8,1022.9 314.5,887.1 214.9,936.2 284.5,808.6 158.1,1055.0 340.3,728.1 228.8,890.7 254.3,953.5 318.5,847.9 293.1,790.5 314.9,891.0 168.2,990.0 242.6,962.6 322.9,748.6 350.2,749.9 268.5,877.2 259.9,828.0 213.0,982.9 202.2,1030.3 321.7,804.5 211.5,1006.7 333.4,833.2 327.8,777.7 194.4,1019.1 174.9,1039.5 223.8,934.0 310.0,905.6 183.1,1037.3 216.0,934.3 219.8,967.9 339.1,749.1 346.7,839.4 292.6,814.6 155.4,1039.7 266.3,953.8 225.6,934.2 226.8,913.1 337.9,748.7 327.7,870.0 352.4,822.5 299.8,899.9 166.7,1055.8 218.7,935.3 260.7,915.9 227.4,950.1 261.6,892.4 356.2,791.1 279.0,855.1 311.5,861.5 206.2,941.7 199.7,942.7 248.1,974.2 357.4,838.5 154.1,1046.5 358.8,708.5 243.4,911.4 286.6,836.1 247.2,949.8 172.9,1073.1 258.8,920.0 168.7,1012.7 326.8,760.6 186.6,1008.0 312.8,899.3 223.1,994.5 272.6,868.2 354.2,791.8 207.5,1008.0 200.7,998.9 345.4,853.2 324.6,814.3 263.6,915.4 256.6,917.2 184.2,975.4 330.5,872.8 212.1,1014.7 339.7,843.2 281.1,849.3 303.3,863.9 189.0,978.5 207.7,1026.8 203.7,1026.6 185.3,983.0 344.3,809.8 202.8,924.0 329.7,848.3 308.3,780.3 334.9,871.8 175.7,1009.9 229.9,998.3 195.2,990.4 336.5,803.4 234.5,901.5 163.1,1050.3 220.8,988.5 210.1,998.6 328.6,803.2 158.6,1042.1 270.8,845.9 255.1,880.5 249.6,957.9 185.0,1033.5 178.1,978.4 241.3,971.8 347.4,782.8 349.7,805.7 175.5,1026.9 154.9,1081.7 297.4,911.6 192.2,1019.1 196.8,969.4 214.3,934.3 260.8,950.2 277.9,936.2 264.1,953.0 352.9,815.7 291.7,769.3 350.8,775.3 152.6,1035.2 165.7,1035.3 190.7,970.1 348.8,717.0 351.6,843.1 205.4,999.9 194.4,944.4 369.8,994.8 302.2,1116.4 234.3,1037.9 282.9,1011.8 262.2,1003.4 364.8,1067.6 331.0,943.3 333.1,1032.0 375.0,1023.3 351.0,1041.3 311.4,1033.3 294.1,1103.7 246.0,1076.3 273.7,1076.6 370.4,945.0 305.6,1000.1 324.4,981.7 317.8,1011.1 254.6,1127.1 339.1,1052.0 251.5,1136.7 257.5,1035.6 365.7,1022.6 358.0,920.9 240.6,1012.6 248.2,1090.1 321.7,1072.6 320.9,939.6 284.2,1072.2 249.2,1004.3 354.2,1016.5 267.7,1060.7 343.5,952.2 303.0,973.4 298.1,967.6 348.5,1068.7 294.9,998.1 280.6,1044.8 327.8,1096.5 230.1,1127.3 236.6,1082.1 290.7,1082.9 353.5,960.0 288.3,1026.6 361.6,1035.6 336.2,973.2 342.8,937.5 263.4,1016.3 310.8,971.4 271.7,1133.0 267.0,1077.6 278.0,1071.4 378.0,980.8 242.9,1073.1 315.9,1090.5 452.6,988.6 378.8,1111.5 498.9,1103.5 470.5,1076.3 560.1,928.3 478.6,1075.8 526.6,1052.1 590.0,908.2 419.2,984.4 576.5,968.9 425.6,973.1 563.4,1075.4 514.4,1072.3 496.8,933.5 392.5,1038.1 540.4,979.0 442.3,1052.0 400.8,1091.3 435.0,903.3 426.8,890.5 491.5,925.5 559.4,825.7 518.0,912.4 479.6,815.0 448.6,933.4 500.8,808.0 473.0,822.9 530.0,867.5 421.1,884.4 540.1,898.3 580.5,807.3 459.9,935.6 505.5,817.1 415.3,894.2 587.0,849.8 455.6,875.1 464.3,944.9 561.5,843.3 515.8,877.1 408.6,936.5 535.9,822.1 591.4,861.9 548.0,799.2 574.7,815.3 446.9,770.2 458.2,656.4 400.8,732.6 467.0,660.7 377.1,793.9 540.3,765.6 568.7,697.6 593.5,613.8 436.7,719.9 366.5,890.9 360.4,860.6 577.1,622.6 405.8,835.9 490.3,757.8 546.7,664.4 450.9,747.7 499.9,696.7 482.1,698.1 561.4,607.7 381.3,786.8 516.0,617.3 602.2,526.0 584.7,619.8 507.2,650.1 429.6,785.1 528.3,690.9 575.3,637.5 394.1,736.7 521.7,676.5 425.0,918.7 471.9,745.4 497.5,761.5 419.8,837.5 549.9,734.3 411.1,836.9 434.0,776.5 507.6,679.6 410.3,713.3 353.8,807.5 420.7,727.3 373.0,829.4 418.3,741.3 391.8,821.8 432.9,744.8 472.8,690.2 386.1,807.4 456.9,747.4 396.4,786.4 365.1,828.1 477.6,644.6 481.7,715.6 442.6,665.4 382.0,735.4 460.6,660.4 463.1,732.7 370.4,790.7 405.3,810.8 402.8,746.0 427.2,709.3 360.5,816.8 440.4,739.1 451.2,691.7 357.0,850.6 487.2,623.7 387.6,816.0 503.5,579.3 499.0,634.8 376.9,830.5 446.6,711.8 495.9,621.9 472.5,684.8 466.3,696.7 488.8,654.1 412.3,724.9 426.1,734.8"/><polyline fill="none" stroke="none" marker-start="url(#mb)" marker-mid="url(#mb)" marker-end="url(#mb)" points="111.5,1124.1 110.1,1120.3 93.4,1129.7 101.1,1124.6 122.0,1119.3 113.1,1122.7 102.9,1124.0 116.2,1121.7 121.1,1117.0 90.8,1127.8 117.6,1122.8 104.5,1122.4 106.4,1121.0 106.9,1128.5 93.9,1126.7 118.1,1119.4 91.6,1132.1 101.8,1130.4 111.1,1119.1 120.7,1121.3 112.0,1119.6 99.7,1122.0 108.2,1129.4 100.2,1127.4 121.6,1116.5 104.2,1127.2 103.8,1119.8 97.9,1130.9 117.1,1120.0 101.0,1121.0 90.5,1125.4 91.8,1126.8 112.6,1120.6 96.0,1126.4 116.0,1122.7 118.9,1122.4 123.0,1118.4 97.2,1125.8 115.3,1120.3 92.2,1120.9 119.8,1119.0 114.1,1122.0 109.2,1126.0 97.7,1121.7 110.0,1121.5 99.3,1119.0 108.8,1129.8 122.4,1119.1 96.5,1133.6 115.2,1119.7 102.5,1125.3 95.2,1128.8 120.2,1124.1 93.1,1129.5 107.5,1127.3 110.9,1123.4 113.7,1117.2 94.8,1127.0 95.8,1121.6 103.4,1127.9 107.9,1123.1 105.6,1122.4 105.3,1121.8 119.4,1124.3 105.8,1127.0 98.7,1129.3 98.9,1126.6 94.2,1126.3 114.6,1117.0 116.8,1127.3 175.7,1039.7 172.9,1041.5 121.3,1095.9 134.5,1078.7 168.1,1040.3 136.3,1074.0 132.8,1082.7 128.4,1083.7 115.6,1104.7 174.8,1040.9 156.2,1055.7 153.4,1059.8 185.6,1028.3 140.3,1076.9 113.9,1094.7 104.7,1103.0 167.8,1043.0 121.9,1091.3 104.3,1109.1 111.1,1103.9 176.4,1042.5 188.5,1024.5 138.5,1074.7 145.3,1071.1 136.8,1081.1 186.4,1024.1 119.0,1089.3 117.6,1092.9 184.1,1027.5 109.9,1098.7 147.2,1066.6 180.3,1036.3 130.5,1084.7 102.0,1112.1 116.1,1097.1 120.5,1085.2 162.4,1057.5 131.1,1083.0 103.4,1112.5 173.2,1038.9 125.1,1081.3 107.0,1109.0 169.1,1042.4 166.1,1047.6 124.0,1098.0 158.7,1055.9 142.2,1068.5 106.6,1104.7 109.2,1099.3 143.5,1067.6 190.6,1022.9 182.0,1038.8 157.5,1062.4 177.4,1034.8 159.6,1056.1 164.0,1042.8 181.8,1039.4 149.8,1063.4 165.2,1057.1 135.6,1074.6 187.4,1033.2 179.5,1037.7 150.0,1071.3 148.2,1073.8 123.4,1082.2 155.6,1055.4 178.3,1041.3 170.1,1039.1 189.3,1030.4 152.5,1062.6 129.7,1081.5 184.0,1029.6 160.8,1047.1 112.1,1094.8 141.5,1071.7 154.1,1055.3 139.3,1075.2 161.7,1050.7 118.1,1096.0 144.3,1067.5 146.8,1068.6 113.1,1089.9 100.8,1113.3 171.2,1044.6 163.8,1050.7 131.7,1078.0 151.4,1060.5 125.8,1089.1 108.4,1111.1 126.9,1087.0 211.2,1065.8 174.5,1097.2 160.2,1093.0 162.2,1105.1 177.0,1066.8 169.1,1112.3 183.5,1060.5 193.0,1083.1 195.4,1087.0 196.7,1086.0 208.2,1045.8 164.5,1101.7 188.2,1060.0 185.6,1102.2 152.8,1091.5 161.1,1100.1 172.1,1076.9 144.6,1101.1 171.2,1084.6 121.9,1137.2 172.8,1092.5 143.5,1099.0 179.3,1090.3 175.5,1110.4 203.9,1097.1 132.0,1129.0 131.3,1130.1 120.7,1127.8 169.5,1096.6 148.0,1106.0 216.3,1047.0 133.8,1109.1 153.5,1105.5 206.6,1070.2 200.3,1091.9 189.1,1059.3 185.7,1076.1 129.1,1123.4 179.1,1100.6 127.3,1127.9 127.9,1119.7 150.3,1120.5 213.3,1043.0 140.2,1111.2 166.8,1074.9 209.7,1065.2 145.8,1108.8 137.3,1127.6 164.1,1100.8 204.6,1050.9 213.8,1087.1 205.5,1089.9 194.7,1049.3 190.3,1065.0 122.3,1132.3 165.5,1107.5 200.7,1065.8 215.5,1072.3 159.2,1096.0 125.5,1117.3 198.4,1077.5 156.2,1114.8 135.7,1121.1 155.4,1108.1 182.1,1107.6 177.9,1094.3 124.8,1124.6 183.4,1084.0 211.9,1076.3 135.0,1128.9 151.6,1087.8 202.7,1065.1 157.8,1092.7 208.5,1041.7 191.1,1056.6 181.2,1099.6 141.0,1116.1 156.9,1075.7 136.2,1116.0 193.5,1095.4 187.0,1062.4 147.0,1115.7 130.5,1124.1 139.1,1107.9 123.8,1123.0 199.0,1077.2 141.8,1115.1 149.1,1108.2 146.3,1109.1 168.1,1117.6 290.3,793.5 216.7,923.8 275.3,905.9 282.7,908.7 193.0,1005.8 331.8,744.0 267.3,856.8 285.3,850.0 317.7,830.1 170.4,989.8 169.8,1055.2 164.4,1028.8 299.0,811.2 188.7,1015.2 306.2,876.9 323.4,841.2 286.3,911.3 277.3,871.8 331.1,790.8 308.4,818.8 226.0,882.5 341.5,780.0 171.1,1018.0 186.6,1025.7 250.7,920.2 182.5,990.7 156.8,1065.1 282.3,937.4 157.1,1061.8 187.9,987.4 287.5,905.8 301.2,832.9 253.2,969.0 222.2,960.8 235.6,949.2 320.5,772.0 251.6,859.7 324.9,804.2 164.8,1060.4 255.5,888.0 301.7,866.6 355.5,859.8 204.0,1000.3 218.1,935.8 280.8,833.6 354.6,850.8 238.4,984.3 342.5,839.7 167.3,1075.3 200.4,1015.3 190.0,1044.4 319.6,891.5 294.8,883.4 357.7,739.8 315.9,784.2 245.9,935.2 274.1,860.7 179.6,1043.7 209.2,996.3 230.7,943.9 204.9,939.2 181.3,979.2 217.5,980.2 209.3,1007.3 333.1,744.2 239.5,951.7 232.3,903.0 272.4,835.4 302.2,852.5 298.5,843.2 276.0,915.6 153.7,1063.7 245.0,920.2 252.8,942.3 309.4,769.6 325.7,840.7 316.4,744.6 271.4,933.5 273.7,860.0 265.7,906.7 334.3,826.5 291.1,860.0 228.6,941.5 224.3,923.4 344.0,771.6 250.1,932.9 233.5,923.5 179.8,1035.4 237.9,947.6 237.2,924.3 233.1,957.1 305.9,899.3 249.0,920.7 221.1,946.7 268.9,936.8 279.5,890.0 336.0,831.1 295.3,801.0 276.9,861.2 304.0,775.0 257.6,839.4 264.7,883.9 283.9,842.3 310.7,893.4 320.8,819.2 162.2,1070.9 180.9,977.7 338.0,871.0 198.5,1015.3 293.8,888.6 240.2,866.2 246.0,962.5 295.9,905.5 161.1,997.7 318.5,786.0 176.9,1045.9 213.6,1007.6 160.4,1030.7 240.6,937.9 297.7,863.7 197.9,965.7 174.1,1005.8 346.1,752.9 269.7,834.4 235.8,906.4 159.4,1067.2 231.5,952.6 163.3,1020.0 304.9,864.6 196.5,1001.8 307.4,875.3 313.1,885.8 289.4,924.3 244.1,920.3 258.2,891.1 288.3,870.9 191.8,1025.4 262.5,943.8 177.8,1041.0 342.9,765.0 171.8,1038.9 314.5,875.7 214.9,928.8 284.5,818.3 158.1,1043.5 340.3,726.2 228.8,891.2 254.3,967.5 318.5,821.2 293.1,799.9 314.9,879.2 168.2,1013.7 242.6,965.6 322.9,759.4 350.2,755.1 268.5,869.0 259.9,840.2 213.0,987.9 202.2,1021.5 321.7,814.7 211.5,1004.3 333.4,843.9 327.8,801.3 194.4,1022.2 174.9,1051.2 223.8,958.6 310.0,894.6 183.1,1020.5 216.0,935.2 219.8,965.6 339.1,748.1 346.7,862.8 292.6,835.9 155.4,1039.4 266.3,949.2 225.6,937.9 226.8,902.1 337.9,757.1 327.7,871.4 352.4,803.0 299.8,886.0 166.7,1056.5 218.7,953.1 260.7,922.6 227.4,924.8 261.6,877.9 356.2,815.7 279.0,856.3 311.5,871.4 206.2,938.2 199.7,955.2 248.1,970.3 357.4,828.0 154.1,1070.4 358.8,706.1 243.4,912.2 286.6,824.2 247.2,953.3 172.9,1061.5 258.8,929.1 168.7,1016.2 326.8,777.4 186.6,1002.8 312.8,906.0 223.1,1007.4 272.6,891.1 354.2,799.8 207.5,996.2 200.7,1017.4 345.4,872.2 324.6,802.6 263.6,933.2 256.6,922.3 184.2,1005.1 330.5,865.0 212.1,1007.6 339.7,826.7 281.1,860.8 303.3,862.2 189.0,989.3 207.7,1034.2 203.7,1028.9 185.3,989.3 344.3,816.3 202.8,934.8 329.7,857.4 308.3,786.6 334.9,867.8 175.7,1010.7 229.9,997.0 195.2,962.5 336.5,791.9 234.5,913.5 163.1,1033.1 220.8,984.5 210.1,1005.4 328.6,838.0 158.6,1044.1 270.8,845.5 255.1,869.3 249.6,966.6 185.0,1025.0 178.1,986.8 241.3,971.1 347.4,791.8 349.7,798.5 175.5,1025.9 154.9,1063.0 297.4,928.7 192.2,1039.2 196.8,955.2 214.3,939.7 260.8,968.5 277.9,934.1 264.1,954.8 352.9,803.3 291.7,778.5 350.8,755.8 152.6,1039.1 165.7,1045.1 190.7,976.5 348.8,710.3 351.6,844.9 205.4,1005.9 194.4,966.1 369.8,962.7 302.2,1101.3 234.3,1030.2 282.9,1016.7 262.2,1007.4 364.8,1048.4 331.0,956.1 333.1,1031.4 375.0,1016.7 351.0,1018.0 311.4,1000.6 294.1,1093.3 246.0,1063.2 273.7,1070.6 370.4,942.7 305.6,1000.1 324.4,977.6 317.8,1012.6 254.6,1099.0 339.1,1062.7 251.5,1123.8 257.5,1040.2 365.7,1014.7 358.0,917.8 240.6,1015.9 248.2,1089.0 321.7,1064.8 320.9,943.3 284.2,1079.8 249.2,1014.1 354.2,1023.5 267.7,1049.7 343.5,949.5 303.0,971.5 298.1,966.8 348.5,1046.0 294.9,968.9 280.6,1048.3 327.8,1082.6 230.1,1117.7 236.6,1064.2 290.7,1076.6 353.5,934.8 288.3,1036.4 361.6,1038.7 336.2,951.6 342.8,928.8 263.4,1011.1 310.8,965.2 271.7,1113.0 267.0,1074.2 278.0,1048.1 378.0,960.1 242.9,1078.7 315.9,1083.6 452.6,969.1 378.8,1084.6 498.9,1077.1 470.5,1043.9 560.1,918.5 478.6,1061.5 526.6,1036.8 590.0,901.5 419.2,972.0 576.5,950.2 425.6,972.6 563.4,1025.0 514.4,1037.9 496.8,932.2 392.5,1037.2 540.4,975.9 442.3,1039.9 400.8,1090.9 435.0,878.9 426.8,881.7 491.5,887.7 559.4,820.3 518.0,885.0 479.6,823.5 448.6,928.9 500.8,808.7 473.0,827.6 530.0,831.4 421.1,868.3 540.1,863.2 580.5,799.7 459.9,882.5 505.5,786.4 415.3,906.3 587.0,816.1 455.6,854.9 464.3,911.9 561.5,861.4 515.8,864.6 408.6,910.9 535.9,795.8 591.4,843.7 548.0,790.2 574.7,785.4 446.9,801.4 458.2,637.6 400.8,764.6 467.0,661.1 377.1,816.5 540.3,770.6 568.7,675.5 593.5,623.5 436.7,739.9 366.5,932.7 360.4,865.5 577.1,645.3 405.8,848.4 490.3,727.1 546.7,647.7 450.9,765.0 499.9,698.3 482.1,712.4 561.4,610.3 381.3,787.6 516.0,618.0 602.2,550.6 584.7,613.0 507.2,632.0 429.6,796.5 528.3,670.0 575.3,616.6 394.1,742.4 521.7,675.8 425.0,928.3 471.9,747.2 497.5,785.2 419.8,817.3 549.9,758.6 411.1,845.1 434.0,771.4 507.6,685.3 410.3,711.2 353.8,815.3 420.7,724.5 373.0,840.0 418.3,713.4 391.8,780.9 432.9,723.5 472.8,695.2 386.1,783.6 456.9,748.0 396.4,786.9 365.1,819.2 477.6,599.9 481.7,710.0 442.6,672.4 382.0,726.8 460.6,661.3 463.1,723.1 370.4,780.3 405.3,788.4 402.8,717.2 427.2,670.0 360.5,802.8 440.4,724.2 451.2,692.5 357.0,848.3 487.2,617.4 387.6,842.0 503.5,594.1 499.0,628.3 376.9,837.3 446.6,715.7 495.9,588.5 472.5,668.4 466.3,670.3 488.8,644.9 412.3,692.0 426.1,732.8"/><polyline fill="none" stroke="none" marker-start="url(#mg)" marker-mid="url(#mg)" marker-end="url(#mg)" points="164.7,1043.1 114.2,1079.8 132.0,1065.4 154.8,1046.6 120.8,1073.8 101.5,1088.0 86.7,1107.5 157.8,1045.6 151.7,1044.3 146.3,1051.8 133.5,1065.6 147.0,1066.6 102.9,1096.7 152.6,1050.5 167.9,1034.2 155.4,1047.0 125.9,1076.2 169.4,1045.6 165.2,1037.0 135.3,1071.6 176.9,1024.9 108.4,1086.7 90.4,1102.0 173.5,1043.3 151.9,1052.4 85.6,1111.2 113.8,1085.2 111.5,1085.0 141.2,1060.4 128.1,1075.0 134.5,1063.5 161.1,1033.0 93.1,1104.9 96.8,1094.7 136.6,1065.8 170.4,1039.5 156.7,1049.8 124.6,1070.5 107.4,1087.4 162.8,1038.6 167.6,1040.8 149.6,1048.1 150.1,1053.8 112.1,1092.4 108.6,1084.1 109.5,1088.1 153.4,1051.2 137.3,1061.3 91.3,1105.0 94.6,1095.6 138.5,1049.7 90.8,1109.8 125.6,1075.2 100.1,1092.7 140.6,1064.7 97.8,1097.2 166.9,1044.7 102.3,1097.1 147.4,1046.2 93.9,1100.9 145.6,1058.1 100.6,1096.9 130.3,1063.9 159.2,1037.2 99.0,1092.0 92.0,1098.2 105.8,1092.2 117.9,1085.5 86.8,1106.6 97.1,1094.4 88.5,1114.5 128.6,1078.7 116.5,1082.4 129.2,1082.2 129.0,1075.6 120.0,1077.7 162.0,1035.5 103.5,1093.3 127.6,1079.4 130.6,1069.7 85.3,1112.0 84.9,1109.2 142.7,1057.9 99.6,1097.8 117.2,1094.9 103.6,1090.0 126.6,1067.1 156.5,1040.1 101.7,1101.4 144.3,1057.9 145.1,1056.3 123.6,1085.8 118.9,1079.1 106.8,1101.5 150.7,1057.6 115.7,1077.5 115.2,1082.8 91.8,1108.3 172.0,1041.9 166.0,1030.6 105.0,1094.9 99.4,1099.0 119.3,1081.0 93.4,1101.2 117.4,1082.7 175.7,1021.9 87.9,1116.9 121.9,1071.4 109.0,1086.8 90.2,1101.9 87.3,1095.1 110.7,1081.5 150.6,1052.7 162.3,1038.0 110.4,1091.8 113.5,1081.0 112.9,1083.1 114.8,1084.5 153.7,1048.5 131.4,1066.4 157.3,1036.6 127.0,1075.6 173.6,1025.8 94.3,1105.2 116.2,1085.3 139.7,1049.1 120.5,1076.9 135.6,1062.8 174.3,1038.4 174.7,1019.6 143.6,1059.8 104.5,1082.6 88.0,1103.1 177.9,1036.6 88.8,1103.2 175.2,1028.9 159.9,1049.4 95.9,1096.6 166.8,1033.7 122.8,1073.1 129.6,1068.8 92.6,1093.3 100.9,1097.9 112.4,1091.3 110.1,1097.8 148.1,1045.4 143.9,1047.6 156.0,1057.6 122.9,1075.9 139.2,1060.8 171.4,1037.6 133.4,1062.3 86.3,1104.1 132.9,1060.6 149.0,1050.2 171.9,1029.6 97.7,1091.1 107.7,1098.3 85.8,1120.0 142.0,1055.3 98.4,1098.6 89.2,1108.8 148.6,1048.9 124.2,1072.2 177.2,1027.6 137.4,1058.8 84.7,1099.3 164.1,1050.0 140.0,1060.8 168.4,1042.7 132.3,1063.2 106.3,1083.1 136.2,1060.3 95.5,1101.5 161.7,1039.2 121.8,1072.7 143.2,1058.3 94.9,1098.4 134.0,1066.6 176.5,1023.0 121.4,1078.4 170.7,1038.5 141.4,1063.7 104.2,1095.6 163.4,1036.5 105.5,1102.3 96.3,1103.2 158.6,1039.7 153.0,1056.7 137.9,1055.9 146.1,1051.4 89.7,1101.7 160.4,1041.2 125.0,1069.7 159.7,1041.5 165.7,1040.6 154.7,1040.9 172.8,1028.3 118.6,1073.1 169.1,1042.7 211.2,1059.8 174.5,1085.8 160.2,1088.8 162.2,1100.5 177.0,1076.1 169.1,1106.2 183.5,1051.8 193.0,1072.4 195.4,1084.7 196.7,1077.6 208.2,1036.3 164.5,1100.5 188.2,1061.2 185.6,1086.0 152.8,1092.7 161.1,1089.0 172.1,1079.3 144.6,1097.4 171.2,1082.1 121.9,1127.9 172.8,1076.6 143.5,1103.2 179.3,1091.0 175.5,1097.4 203.9,1076.7 132.0,1131.6 131.3,1122.5 120.7,1135.2 169.5,1092.3 148.0,1106.4 216.3,1034.4 133.8,1104.5 153.5,1102.5 206.6,1063.0 200.3,1088.2 189.1,1054.1 185.7,1069.3 129.1,1125.1 179.1,1084.8 127.3,1116.5 127.9,1119.1 150.3,1117.7 213.3,1045.2 140.2,1124.0 166.8,1073.1 209.7,1058.6 145.8,1112.5 137.3,1119.6 164.1,1098.0 204.6,1045.7 213.8,1083.9 205.5,1078.9 194.7,1053.9 190.3,1069.0 122.3,1129.8 165.5,1095.9 200.7,1048.5 215.5,1060.8 159.2,1101.0 125.5,1109.6 198.4,1073.1 156.2,1110.3 135.7,1121.7 155.4,1105.7 182.1,1087.7 177.9,1095.7 124.8,1120.1 183.4,1073.3 211.9,1074.3 135.0,1121.0 151.6,1094.2 202.7,1059.7 157.8,1098.6 208.5,1042.7 191.1,1051.9 181.2,1082.2 141.0,1113.5 156.9,1083.3 136.2,1099.2 193.5,1087.4 187.0,1060.3 147.0,1112.0 130.5,1122.2 139.1,1098.9 123.8,1123.4 199.0,1066.4 141.8,1107.3 149.1,1100.6 146.3,1106.2 168.1,1109.7 290.3,794.6 216.7,929.4 275.3,910.1 282.7,905.7 193.0,1003.6 331.8,754.7 267.3,873.2 285.3,880.1 317.7,844.3 170.4,1006.6 169.8,1053.7 164.4,1038.2 299.0,813.7 188.7,1016.6 306.2,882.3 323.4,852.1 286.3,923.6 277.3,879.3 331.1,796.6 308.4,816.4 226.0,894.9 341.5,791.5 171.1,1003.3 186.6,1039.5 250.7,923.4 182.5,999.2 156.8,1068.6 282.3,936.9 157.1,1062.4 187.9,975.7 287.5,895.4 301.2,849.3 253.2,971.1 222.2,973.3 235.6,935.2 320.5,764.1 251.6,859.2 324.9,806.2 164.8,1067.4 255.5,898.4 301.7,868.1 355.5,869.3 204.0,1019.1 218.1,944.5 280.8,853.3 354.6,858.3 238.4,976.5 342.5,855.9 167.3,1058.3 200.4,998.0 190.0,1047.2 319.6,881.7 294.8,883.2 357.7,730.0 315.9,778.4 245.9,913.3 274.1,859.9 179.6,1050.7 209.2,1015.4 230.7,947.5 204.9,937.5 181.3,982.3 217.5,989.3 209.3,1007.5 333.1,739.6 239.5,944.0 232.3,903.5 272.4,841.0 302.2,852.3 298.5,863.7 276.0,919.7 153.7,1065.1 245.0,915.9 252.8,938.6 309.4,774.9 325.7,851.7 316.4,769.4 271.4,941.4 273.7,850.1 265.7,905.3 334.3,830.9 291.1,844.6 228.6,953.5 224.3,920.7 344.0,780.3 250.1,946.7 233.5,930.3 179.8,1047.4 237.9,935.8 237.2,943.5 233.1,949.7 305.9,899.0 249.0,925.5 221.1,946.4 268.9,946.8 279.5,891.5 336.0,832.0 295.3,805.6 276.9,881.9 304.0,795.1 257.6,855.1 264.7,886.2 283.9,856.1 310.7,900.8 320.8,812.6 162.2,1054.2 180.9,982.3 338.0,869.5 198.5,1008.6 293.8,877.3 240.2,876.2 246.0,961.7 295.9,908.1 161.1,996.3 318.5,813.6 176.9,1048.6 213.6,1013.2 160.4,1035.2 240.6,938.3 297.7,866.8 197.9,981.4 174.1,1017.2 346.1,774.5 269.7,841.8 235.8,926.5 159.4,1070.8 231.5,953.8 163.3,1026.8 304.9,877.7 196.5,1017.1 307.4,890.6 313.1,876.9 289.4,921.5 244.1,927.8 258.2,895.4 288.3,880.4 191.8,1024.4 262.5,953.2 177.8,1040.4 342.9,774.1 171.8,1040.8 314.5,892.2 214.9,944.2 284.5,820.1 158.1,1067.4 340.3,733.9 228.8,900.4 254.3,970.3 318.5,833.4 293.1,816.3 314.9,874.8 168.2,1016.4 242.6,980.1 322.9,767.1 350.2,755.1 268.5,900.6 259.9,858.8 213.0,998.2 202.2,1020.9 321.7,819.9 211.5,1011.1 333.4,832.5 327.8,814.3 194.4,1004.9 174.9,1064.0 223.8,962.3 310.0,914.9 183.1,1030.7 216.0,932.3 219.8,959.9 339.1,746.7 346.7,852.7 292.6,838.7 155.4,1043.0 266.3,952.3 225.6,939.8 226.8,897.4 337.9,747.4 327.7,857.3 352.4,821.0 299.8,898.0 166.7,1065.2 218.7,950.8 260.7,930.7 227.4,944.8 261.6,882.9 356.2,809.0 279.0,848.2 311.5,884.2 206.2,965.3 199.7,960.2 248.1,974.9 357.4,837.7 154.1,1049.4 358.8,725.0 243.4,910.0 286.6,851.1 247.2,952.2 172.9,1061.4 258.8,931.7 168.7,1038.4 326.8,773.3 186.6,995.7 312.8,892.7 223.1,1001.9 272.6,890.9 354.2,800.6 207.5,1010.4 200.7,1018.7 345.4,873.1 324.6,822.4 263.6,919.4 256.6,913.2 184.2,1025.1 330.5,880.8 212.1,1021.2 339.7,838.6 281.1,856.8 303.3,862.6 189.0,994.8 207.7,1018.9 203.7,1031.9 185.3,999.2 344.3,834.2 202.8,931.5 329.7,859.0 308.3,798.6 334.9,870.2 175.7,1030.8 229.9,1000.4 195.2,979.5 336.5,801.4 234.5,900.6 163.1,1050.7 220.8,989.8 210.1,1015.5 328.6,839.7 158.6,1050.2 270.8,855.4 255.1,880.2 249.6,971.1 185.0,1023.8 178.1,988.2 241.3,970.7 347.4,789.4 349.7,809.7 175.5,1036.4 154.9,1071.9 297.4,934.4 192.2,1023.4 196.8,966.7 214.3,934.4 260.8,954.6 277.9,939.7 264.1,948.2 352.9,823.9 291.7,803.9 350.8,758.8 152.6,1022.9 165.7,1041.8 190.7,976.0 348.8,714.0 351.6,844.1 205.4,986.8 194.4,946.1 369.8,980.2 302.2,1105.9 234.3,1022.0 282.9,1010.3 262.2,1008.8 364.8,1046.4 331.0,932.8 333.1,1032.7 375.0,1015.0 351.0,1020.9 311.4,1026.0 294.1,1079.4 246.0,1075.6 273.7,1084.7 370.4,949.3 305.6,1000.4 324.4,988.2 317.8,1017.6 254.6,1107.0 339.1,1059.3 251.5,1110.5 257.5,1041.6 365.7,1011.1 358.0,907.2 240.6,1030.0 248.2,1085.2 321.7,1054.1 320.9,955.2 284.2,1085.1 249.2,1005.7 354.2,1025.3 267.7,1057.9 343.5,949.5 303.0,976.4 298.1,966.3 348.5,1066.1 294.9,972.6 280.6,1043.5 327.8,1071.6 230.1,1130.9 236.6,1080.3 290.7,1076.9 353.5,961.1 288.3,1030.0 361.6,1033.4 336.2,964.2 342.8,919.6 263.4,1031.9 310.8,958.8 271.7,1104.0 267.0,1078.9 278.0,1049.7 378.0,967.5 242.9,1078.9 315.9,1070.9 452.6,972.1 378.8,1089.2 498.9,1064.8 470.5,1036.0 560.1,910.9 478.6,1073.8 526.6,1033.3 590.0,899.0 419.2,979.0 576.5,955.5 425.6,964.0 563.4,1051.2 514.4,1067.2 496.8,926.7 392.5,1047.2 540.4,978.8 442.3,1036.7 400.8,1090.2 435.0,864.6 426.8,885.0 491.5,873.6 559.4,814.6 518.0,879.8 479.6,825.8 448.6,918.7 500.8,806.2 473.0,830.5 530.0,840.3 421.1,865.6 540.1,866.2 580.5,808.4 459.9,891.7 505.5,793.3 415.3,888.3 587.0,831.9 455.6,848.6 464.3,927.3 561.5,849.1 515.8,861.8 408.6,899.3 535.9,805.1 591.4,817.6 548.0,775.5 574.7,778.9 446.9,782.6 458.2,642.0 400.8,762.1 467.0,679.7 377.1,792.3 540.3,734.2 568.7,692.2 593.5,614.3 436.7,743.4 366.5,923.0 360.4,869.4 577.1,602.1 405.8,863.7 490.3,749.7 546.7,649.7 450.9,725.1 499.9,697.3 482.1,718.7 561.4,604.0 381.3,784.4 516.0,638.1 602.2,525.4 584.7,595.2 507.2,623.9 429.6,813.0 528.3,692.2 575.3,623.1 394.1,735.3 521.7,669.2 425.0,925.3 471.9,736.8 497.5,779.8 419.8,803.6 549.9,745.9 411.1,856.0 434.0,782.1 507.6,688.0 410.3,705.7 353.8,806.0 420.7,741.9 373.0,831.8 418.3,739.7 391.8,823.7 432.9,746.4 472.8,682.8 386.1,787.5 456.9,758.0 396.4,789.4 365.1,832.1 477.6,639.5 481.7,692.8 442.6,660.9 382.0,761.1 460.6,639.9 463.1,727.6 370.4,773.0 405.3,803.2 402.8,720.5 427.2,697.9 360.5,810.2 440.4,717.6 451.2,696.0 357.0,861.0 487.2,620.3 387.6,823.8 503.5,589.1 499.0,627.5 376.9,824.0 446.6,710.3 495.9,602.3 472.5,672.7 466.3,700.1 488.8,631.6 412.3,731.4 426.1,740.7"/><line x1="81.2" y1="1157.9" x2="598.1" y2="603.3" stroke="#000" stroke-width="1.7" stroke-dasharray="6.7 2.47"/><line x1="81.2" y1="1135.5" x2="598.1" y2="669.7" stroke="#d62728" stroke-width="3.7"/><line x1="81.2" y1="1112.1" x2="598.1" y2="744.0" stroke="#ff7f0e" stroke-width="3.7"/><line x1="81.2" y1="1122.7" x2="598.1" y2="708.5" stroke="#1f77b4" stroke-width="3.7"/><line x1="81.2" y1="1112.8" x2="598.1" y2="720.9" stroke="#2ca02c" stroke-width="3.7"/></g><rect x="90.8" y="613.0" width="264.8" height="247.8" rx="3.5" fill="#fff" fill-opacity="1" stroke="#d0d0d0" stroke-width="1.1"/><circle cx="117.6" cy="629.05" r="2.25" fill="#d62728"/><text x="151.7" y="634.05" font-size="19">VMD-LSTM-ED</text><path d="M117.6 653.68l2.35 4.1h-4.7z" fill="#ff7f0e"/><text x="151.7" y="660.98" font-size="19">VMD-LSTM</text><rect x="115.45" y="680.76" width="4.3" height="4.3" fill="#1f77b4"/><text x="151.7" y="687.91" font-size="19">LSTM-ED</text><path d="M115.80 708.04l3.6 3.6m0 -3.6l-3.6 3.6" stroke="#2ca02c" stroke-width="1.7"/><text x="151.7" y="714.84" font-size="19">LSTM</text><line x1="98.1" y1="735.37" x2="136.9" y2="735.37" stroke="#000" stroke-width="1.7" stroke-dasharray="6.7 2.47"/><text x="151.7" y="741.77" font-size="19">Ideal Fitline</text><line x1="96.2" y1="762.30" x2="138.7" y2="762.30" stroke="#d62728" stroke-width="3.7"/><text x="151.7" y="768.70" font-size="19">Fitline(VMD-LSTM-ED)</text><line x1="96.2" y1="789.23" x2="138.7" y2="789.23" stroke="#ff7f0e" stroke-width="3.7"/><text x="151.7" y="795.63" font-size="19">Fitline(VMD-LSTM)</text><line x1="96.2" y1="816.16" x2="138.7" y2="816.16" stroke="#1f77b4" stroke-width="3.7"/><text x="151.7" y="822.56" font-size="19">Fitline(LSTM-ED)</text><line x1="96.2" y1="843.09" x2="138.7" y2="843.09" stroke="#2ca02c" stroke-width="3.7"/><text x="151.7" y="849.49" font-size="19">Fitline(LSTM)</text><rect x="81.2" y="603.3" width="516.9" height="554.6" fill="none" stroke="#262626" stroke-width="1.7"/><line x1="81.2" y1="1157.9" x2="81.2" y2="1154.9" stroke="#262626" stroke-width="1.2"/><line x1="81.2" y1="1157.9" x2="84.2" y2="1157.9" stroke="#262626" stroke-width="1.2"/><text x="81.2" y="1180.3" font-size="26.5" text-anchor="middle">0</text><text x="78.8" y="1168.1" font-size="26.5" text-anchor="end">0</text><line x1="178.1" y1="1157.9" x2="178.1" y2="1154.9" stroke="#262626" stroke-width="1.2"/><line x1="81.2" y1="1053.9" x2="84.2" y2="1053.9" stroke="#262626" stroke-width="1.2"/><text x="178.1" y="1180.3" font-size="26.5" text-anchor="middle">1500</text><text x="78.8" y="1064.1" font-size="26.5" text-anchor="end">1500</text><line x1="275.0" y1="1157.9" x2="275.0" y2="1154.9" stroke="#262626" stroke-width="1.2"/><line x1="81.2" y1="949.9" x2="84.2" y2="949.9" stroke="#262626" stroke-width="1.2"/><text x="275.0" y="1180.3" font-size="26.5" text-anchor="middle">3000</text><text x="78.8" y="960.1" font-size="26.5" text-anchor="end">3000</text><line x1="372.0" y1="1157.9" x2="372.0" y2="1154.9" stroke="#262626" stroke-width="1.2"/><line x1="81.2" y1="845.9" x2="84.2" y2="845.9" stroke="#262626" stroke-width="1.2"/><text x="372.0" y="1180.3" font-size="26.5" text-anchor="middle">4500</text><text x="78.8" y="856.1" font-size="26.5" text-anchor="end">4500</text><line x1="468.9" y1="1157.9" x2="468.9" y2="1154.9" stroke="#262626" stroke-width="1.2"/><line x1="81.2" y1="742.0" x2="84.2" y2="742.0" stroke="#262626" stroke-width="1.2"/><text x="468.9" y="1180.3" font-size="26.5" text-anchor="middle">6000</text><text x="78.8" y="752.2" font-size="26.5" text-anchor="end">6000</text><line x1="565.8" y1="1157.9" x2="565.8" y2="1154.9" stroke="#262626" stroke-width="1.2"/><line x1="81.2" y1="638.0" x2="84.2" y2="638.0" stroke="#262626" stroke-width="1.2"/><text x="565.8" y="1180.3" font-size="26.5" text-anchor="middle">7500</text><text x="78.8" y="648.2" font-size="26.5" text-anchor="end">7500</text><text x="591.6" y="1150.9" font-size="31.1" text-anchor="end">(c) 5-day ahead</text><g clip-path="url(#cld)"><polyline fill="none" stroke="none" marker-start="url(#mr)" marker-mid="url(#mr)" marker-end="url(#mr)" points="714.8,1133.8 718.9,1136.6 690.9,1141.0 693.5,1140.7 723.3,1135.6 712.0,1131.5 703.3,1140.2 722.0,1133.6 722.8,1133.8 704.2,1131.9 708.3,1139.2 715.2,1135.3 715.6,1140.8 692.3,1138.6 698.5,1135.3 696.9,1136.9 714.4,1137.4 696.4,1138.0 709.1,1136.4 693.0,1142.0 699.3,1134.8 716.8,1134.4 706.7,1135.7 700.2,1135.8 705.4,1139.0 708.6,1140.8 691.8,1140.9 718.4,1135.5 707.9,1134.7 719.8,1135.5 716.3,1132.8 710.5,1135.7 700.7,1138.9 706.0,1134.7 698.0,1140.0 720.4,1134.4 706.3,1137.2 716.2,1136.5 699.1,1132.6 701.4,1133.7 712.4,1138.1 695.6,1135.8 694.3,1138.9 704.6,1130.4 695.3,1139.1 691.2,1138.8 721.3,1130.5 697.5,1139.4 697.7,1132.8 723.9,1133.5 713.3,1139.5 713.9,1129.0 703.6,1139.9 703.0,1134.6 713.2,1132.2 707.4,1136.9 724.2,1133.6 694.5,1139.1 701.9,1138.3 696.2,1134.6 711.9,1133.1 701.9,1132.9 690.5,1135.2 721.8,1136.6 704.9,1133.9 702.4,1135.4 718.6,1137.2 719.5,1138.6 693.6,1140.3 717.5,1134.4 724.9,1128.2 720.9,1130.7 718.0,1135.0 709.9,1134.1 710.7,1134.4 709.5,1136.5 691.9,1137.0 699.9,1131.7 711.3,1134.3 723.0,1135.0 755.8,1068.8 756.4,1096.1 802.9,1060.9 716.6,1121.4 788.1,1118.6 729.5,1120.7 772.4,1092.6 740.3,1051.1 742.5,1070.5 820.8,1003.1 731.3,1079.9 824.3,1016.3 781.2,1009.0 728.3,1132.0 827.6,986.0 710.8,1132.3 804.7,1000.9 753.2,1082.3 814.8,1006.1 744.6,1126.1 745.3,1087.0 785.1,1059.8 798.9,1048.9 741.5,1080.4 760.4,1036.5 798.5,1012.6 715.2,1088.6 823.0,979.5 789.8,1016.3 732.0,1109.7 828.6,946.2 781.6,1022.8 792.8,961.2 773.5,1115.7 821.6,998.9 743.8,1119.5 788.3,1013.3 714.0,1110.2 711.5,1131.9 806.6,962.4 818.2,1024.6 712.9,1099.2 794.9,986.6 792.5,1048.7 768.8,1057.7 801.8,1026.6 725.8,1097.5 805.3,1041.1 732.3,1090.2 826.4,998.8 810.7,988.2 765.8,1065.9 790.8,1043.1 813.0,1021.4 718.4,1112.2 825.1,966.9 711.8,1137.9 759.1,1058.1 745.7,1067.3 775.9,1045.8 714.4,1142.6 806.8,1049.5 758.3,1074.8 763.9,1054.8 721.9,1116.2 796.4,1067.3 709.4,1121.1 738.8,1059.2 784.7,1069.7 720.0,1121.6 749.1,1082.1 750.9,1082.3 779.8,1059.3 803.2,1007.6 793.7,1060.0 809.8,1066.4 757.2,1124.5 830.7,949.9 771.0,1035.2 826.1,1014.3 762.6,1082.8 768.4,1013.9 709.1,1128.6 734.4,1112.1 726.1,1090.9 741.3,1111.1 751.7,1038.0 800.9,1035.1 755.3,1047.3 769.7,1033.3 763.3,1087.0 778.9,1041.2 767.7,1002.7 720.2,1113.2 797.7,1001.7 782.7,964.3 717.7,1085.2 737.4,1101.9 726.9,1108.6 733.2,1119.2 716.1,1135.9 814.0,1019.6 807.8,1006.5 819.0,1098.2 721.3,1111.2 776.3,1062.1 830.9,1047.4 729.9,1103.1 785.7,1065.7 771.6,1082.3 812.2,1097.0 710.3,1123.7 811.9,969.8 795.3,992.0 754.2,1136.1 799.8,1061.9 759.9,1064.0 778.1,1051.6 752.5,1085.9 791.0,1060.0 739.7,1084.6 829.7,951.1 727.7,1123.6 724.3,1092.3 816.0,972.2 718.7,1131.4 733.9,1097.2 783.4,1103.8 766.4,1073.9 778.0,1053.6 746.9,1033.7 736.6,1095.1 713.3,1133.3 816.8,995.9 774.0,1051.5 748.0,1066.6 822.0,994.1 761.4,1093.6 787.2,1022.2 747.4,1093.8 723.6,1105.9 819.9,917.7 750.2,1073.4 725.2,1143.0 764.7,1072.8 722.7,1069.7 808.6,966.8 737.5,1084.1 735.8,1088.9 774.7,1116.7 748.0,1045.2 799.8,984.9 748.8,1051.1 795.9,982.2 768.2,1001.6 834.1,921.1 828.5,980.6 911.0,780.1 836.9,896.9 830.0,934.7 818.0,954.7 853.8,939.5 838.9,957.4 844.3,954.3 855.5,909.2 915.6,883.8 929.9,735.4 888.2,816.3 744.7,1050.1 854.7,873.0 909.2,855.5 856.9,875.6 932.9,762.9 786.4,983.3 846.1,950.4 848.9,896.6 883.2,899.0 861.2,897.6 843.4,935.2 890.1,872.8 876.5,932.9 773.4,1036.6 950.9,862.6 827.0,966.7 891.2,918.3 793.6,958.0 758.4,1045.2 877.7,883.2 791.0,978.0 824.5,993.6 792.7,1013.4 897.1,806.5 862.6,891.1 886.7,841.6 823.7,966.4 935.3,729.5 928.6,839.1 850.9,962.5 803.6,952.0 856.2,868.0 801.2,1010.7 899.7,818.8 838.1,934.5 900.6,843.6 842.9,966.6 865.6,888.2 815.8,971.8 777.0,1026.5 876.0,882.5 864.1,858.1 746.0,1059.0 926.4,776.2 885.8,913.9 938.2,732.6 816.3,945.6 813.0,985.8 908.5,837.7 932.1,795.8 753.0,1064.7 928.1,762.3 779.0,1008.1 874.9,940.4 858.2,967.9 942.1,855.5 903.6,912.9 904.2,910.0 834.9,989.9 760.9,1034.5 750.9,1035.5 789.3,996.5 947.6,775.2 813.4,942.2 848.2,930.0 789.0,1004.0 767.8,1062.9 923.6,880.7 909.7,780.5 759.6,1070.8 952.7,831.6 951.5,758.5 879.3,873.4 868.3,917.0 939.8,860.5 884.0,871.7 867.0,852.8 863.5,869.0 776.1,1051.8 893.1,867.0 895.9,794.0 809.2,1001.0 804.3,934.9 811.4,1015.0 766.5,1040.9 948.1,781.3 817.5,950.3 821.9,995.2 918.5,893.7 805.8,988.3 934.1,786.2 760.7,1024.6 938.9,783.1 780.2,1050.5 812.1,1005.8 868.6,865.8 764.8,1057.8 745.6,1058.9 906.6,782.5 870.6,885.9 833.2,897.2 847.5,940.1 912.7,854.4 757.6,1024.6 884.2,812.3 914.9,784.1 779.4,978.0 846.9,977.9 933.5,850.9 782.3,990.4 781.0,987.3 788.5,990.6 755.8,1022.9 829.1,943.9 802.4,957.7 953.9,741.2 781.9,1034.3 946.6,740.6 808.0,999.1 916.6,892.9 941.0,751.2 885.4,887.3 808.5,995.4 914.1,840.5 798.0,1024.3 754.2,1063.0 815.1,1018.6 774.7,1053.2 771.0,1053.9 769.1,993.4 894.2,822.0 819.2,951.5 851.9,861.2 869.8,845.1 809.9,963.8 814.0,952.7 921.6,754.8 791.9,1020.2 925.6,754.9 841.2,959.8 772.2,1034.3 948.9,820.7 741.7,1053.2 763.4,1022.6 897.7,831.1 821.1,975.4 942.8,787.4 896.3,820.3 830.5,897.4 784.2,987.2 920.1,777.0 752.1,1070.4 747.1,1087.7 887.7,836.6 853.1,885.4 921.0,871.2 849.9,880.4 798.6,980.5 820.2,990.5 944.7,843.2 901.0,799.9 742.3,1040.4 806.4,975.0 910.9,845.9 860.8,912.8 881.5,834.8 762.0,1034.6 889.2,821.1 826.2,911.0 857.4,896.2 773.8,988.2 880.1,839.8 943.5,857.0 905.8,822.4 930.9,850.4 922.4,842.7 799.5,998.6 775.8,1028.2 743.7,1059.6 755.2,1051.2 892.2,877.6 872.9,879.2 930.4,839.7 783.2,1004.1 784.9,1009.5 912.1,807.4 831.7,970.9 832.7,894.4 873.4,851.5 878.2,904.0 895.0,864.2 945.4,742.4 923.0,873.4 840.2,958.0 756.3,1031.4 749.4,1043.0 801.1,1001.9 858.8,966.1 797.0,997.0 819.9,933.2 916.0,821.5 762.8,1038.6 750.3,1065.6 771.2,1013.2 766.1,1004.4 925.0,873.2 825.5,917.6 935.4,869.7 795.1,976.4 901.9,804.4 803.4,966.8 794.5,978.8 904.7,833.7 842.2,915.2 764.9,1026.2 836.4,938.1 936.6,775.3 880.5,867.6 903.0,877.3 891.2,903.0 919.4,871.7 864.8,861.0 827.9,996.2 839.5,887.3 835.4,918.3 851.6,848.6 807.1,963.5 937.8,725.7 927.3,828.1 823.2,902.4 753.2,1027.6 785.4,993.8 898.4,794.0 871.1,864.2 859.6,910.2 940.6,855.5 949.8,747.4 758.6,1078.5 917.9,770.2 907.7,787.0 952.9,788.3 874.5,837.2 777.7,1032.6 769.6,1027.2 866.1,952.1 882.2,897.7 790.2,1012.6 946.2,733.8 872.2,839.4 743.2,1057.6 845.1,953.7 787.2,1045.7 781.9,1118.4 952.2,959.9 824.9,1086.5 814.0,1113.5 898.9,1002.1 870.9,1074.1 880.9,1077.5 850.2,1047.6 855.8,1131.5 1001.4,1069.8 1003.0,1019.8 820.9,1090.3 994.8,1061.4 791.6,1133.4 917.5,1013.5 879.2,1072.6 858.8,1089.6 892.9,1045.8 925.3,1058.0 908.4,1107.9 978.4,1030.8 889.0,1088.2 910.5,1030.2 996.4,1071.4 956.8,1095.2 798.3,1137.4 867.0,1103.7 962.2,1027.6 794.3,1093.3 801.4,1086.3 926.4,980.7 837.0,1106.3 942.8,1013.4 920.9,1095.6 826.0,1112.1 988.6,990.9 947.0,1097.0 832.9,1088.2 937.7,1013.7 944.6,1036.0 829.6,1041.5 786.8,1094.0 904.9,1105.1 846.7,1123.4 913.0,1004.5 933.4,1006.0 965.1,971.0 788.5,1117.0 815.3,1073.3 898.1,1093.1 805.3,1095.7 876.4,1068.1 957.7,1089.3 845.0,1075.9 973.9,979.8 840.8,1075.1 808.6,1115.8 930.0,1105.5 975.1,1027.9 970.7,1001.2 991.7,1071.7 885.2,1117.5 860.9,1073.2 864.4,1092.3 984.4,1057.6 1174.5,994.8 1043.9,1039.5 1073.6,1035.6 1118.6,860.1 1066.9,1008.2 1062.1,862.2 1018.4,878.7 1037.2,891.5 1025.1,1024.5 1100.4,952.1 1155.6,961.2 984.5,923.6 1162.8,1006.9 1145.1,922.7 980.3,969.6 1057.0,897.3 1102.2,847.0 1140.5,807.1 1123.4,963.7 991.9,965.9 1189.7,845.5 1195.1,711.3 1000.5,969.6 1108.6,1006.5 1083.4,920.0 1014.4,885.7 1050.3,925.7 1091.0,815.1 1166.3,923.9 1134.9,913.1 1006.2,1039.3 1181.0,896.9 1052.8,937.2 1135.6,829.8 1113.4,882.7 1186.9,815.9 1103.0,859.8 1195.6,804.4 1142.2,867.6 1123.9,849.3 1036.3,904.6 1107.2,879.4 1020.4,935.8 1180.2,845.5 1014.3,943.6 1089.3,887.2 1065.2,893.1 1159.6,787.9 1164.2,846.4 1055.3,876.5 1026.9,956.3 1082.9,853.0 1107.4,602.3 1089.6,723.6 1138.7,750.6 1187.7,611.1 958.4,863.1 1098.2,761.3 1063.1,742.6 1157.9,663.7 1152.2,628.9 1049.2,743.8 1025.4,860.5 1180.7,521.6 1069.6,624.9 1171.0,627.2 1019.8,807.7 974.3,839.7 1081.9,739.6 1011.9,792.8 1129.2,681.9 1043.7,708.8 985.8,838.9 1206.1,594.0 1121.7,699.3 1003.4,872.4 976.7,856.2 1161.7,468.1 1053.1,669.6 1101.9,495.0 1011.4,702.0 1116.9,563.4 1171.5,468.1 990.0,779.4 1140.0,527.7 1047.4,732.1 1037.9,702.6 1076.7,574.9 977.1,787.3 1121.3,646.7 1091.1,641.4 968.4,816.4 1152.9,468.1 1130.6,557.7 980.8,799.9 1095.1,604.3 1136.1,537.5 1107.1,630.3 1003.5,640.3 1087.9,581.8 1068.8,686.7 1042.9,743.7 1148.7,483.0 999.5,794.4 1075.6,560.6 1166.0,527.6 960.4,836.6 1062.3,671.8 1032.2,653.0 1022.8,631.7 994.9,706.8 965.6,736.0 1015.5,769.1"/><polyline fill="none" stroke="none" marker-start="url(#mo)" marker-mid="url(#mo)" marker-end="url(#mo)" points="707.4,1130.0 708.2,1129.7 702.5,1131.2 708.5,1129.7 701.9,1129.6 719.2,1129.5 710.2,1128.8 696.9,1131.9 718.0,1129.8 725.6,1128.7 706.6,1127.7 693.5,1127.6 725.0,1130.0 713.1,1128.0 715.0,1127.2 728.1,1127.2 709.4,1127.8 697.4,1127.8 697.8,1129.1 725.9,1127.1 723.8,1127.7 696.1,1128.9 717.0,1129.4 720.0,1128.4 690.2,1129.9 711.4,1130.7 712.3,1128.1 691.1,1131.4 703.6,1127.1 705.6,1130.1 727.2,1128.1 698.9,1127.4 691.8,1130.3 694.4,1131.6 699.2,1129.9 701.0,1130.2 714.3,1128.8 710.8,1127.9 700.7,1130.7 706.6,1128.2 722.0,1128.2 704.7,1129.6 723.5,1126.5 695.4,1130.2 719.4,1132.4 718.4,1131.1 726.8,1128.5 715.8,1126.9 692.2,1129.2 703.0,1129.2 722.9,1129.1 721.4,1128.7 705.2,1129.7 720.7,1129.2 714.1,1129.8 716.8,1127.8 712.6,1129.2 694.6,1129.8 693.1,1127.3 699.9,1130.5 740.4,1120.4 747.4,1127.2 735.0,1124.3 762.3,1120.9 736.7,1127.8 743.7,1127.2 742.1,1121.2 764.3,1115.1 751.8,1125.4 760.1,1119.5 755.2,1121.3 725.0,1119.7 726.3,1133.4 733.3,1120.9 717.8,1131.3 745.5,1122.9 720.4,1123.5 752.8,1120.4 755.9,1122.0 747.9,1122.8 729.4,1119.3 751.3,1124.8 727.8,1124.8 743.8,1119.0 729.9,1130.5 715.6,1126.6 721.6,1124.7 757.4,1121.3 733.7,1126.2 766.7,1116.0 758.2,1120.9 718.0,1131.3 723.3,1131.5 739.1,1124.8 722.1,1133.0 749.8,1121.7 731.0,1124.0 737.6,1121.6 764.6,1121.0 761.7,1119.0 755.8,1053.8 756.4,1071.1 802.9,1059.0 716.6,1112.7 788.1,1113.4 729.5,1128.5 772.4,1106.3 740.3,1033.8 742.5,1073.2 820.8,998.8 731.3,1081.2 824.3,1013.5 781.2,990.2 728.3,1133.0 827.6,968.8 710.8,1121.4 804.7,1002.1 753.2,1060.2 814.8,993.1 744.6,1104.5 745.3,1073.9 785.1,1070.9 798.9,1039.8 741.5,1069.7 760.4,1025.7 798.5,1008.2 715.2,1076.4 823.0,969.9 789.8,975.9 732.0,1082.9 828.6,920.6 781.6,1014.7 792.8,948.7 773.5,1110.2 821.6,979.7 743.8,1114.4 788.3,988.1 714.0,1108.9 711.5,1138.8 806.6,964.5 818.2,1038.0 712.9,1091.6 794.9,999.9 792.5,1041.1 768.8,1052.8 801.8,1019.5 725.8,1095.0 805.3,1046.1 732.3,1062.6 826.4,994.6 810.7,968.6 765.8,1048.7 790.8,1025.9 813.0,1007.2 718.4,1110.8 825.1,953.3 711.8,1131.1 759.1,1044.7 745.7,1060.6 775.9,1028.0 714.4,1134.5 806.8,1061.2 758.3,1058.8 763.9,1049.4 721.9,1107.3 796.4,1066.1 709.4,1117.2 738.8,1047.8 784.7,1059.2 720.0,1120.4 749.1,1073.0 750.9,1070.4 779.8,1052.7 803.2,1018.5 793.7,1075.6 809.8,1064.0 757.2,1131.4 830.7,944.9 771.0,1030.8 826.1,1000.0 762.6,1060.7 768.4,996.7 709.1,1129.8 734.4,1100.2 726.1,1084.7 741.3,1110.9 751.7,1040.6 800.9,1034.7 755.3,1037.8 769.7,1049.2 763.3,1084.2 778.9,1035.9 767.7,980.6 720.2,1112.4 797.7,1000.6 782.7,942.8 717.7,1086.8 737.4,1097.9 726.9,1097.4 733.2,1107.5 716.1,1134.5 814.0,1032.5 807.8,994.6 819.0,1114.9 721.3,1098.0 776.3,1061.8 830.9,1043.0 729.9,1109.7 785.7,1065.4 771.6,1089.3 812.2,1088.7 710.3,1104.4 811.9,957.1 795.3,974.5 754.2,1139.1 799.8,1063.8 759.9,1066.7 778.1,1041.9 752.5,1087.2 791.0,1056.6 739.7,1089.9 829.7,955.2 727.7,1113.2 724.3,1079.4 816.0,957.8 718.7,1127.2 733.9,1080.6 783.4,1090.8 766.4,1056.6 778.0,1082.5 746.9,1022.2 736.6,1073.2 713.3,1129.1 816.8,982.9 774.0,1064.4 748.0,1061.8 822.0,992.9 761.4,1098.6 787.2,1018.1 747.4,1105.2 723.6,1105.5 819.9,923.0 750.2,1068.4 725.2,1136.3 764.7,1077.0 722.7,1066.9 808.6,951.0 737.5,1057.8 735.8,1070.5 774.7,1118.4 723.1,1063.7 724.8,1057.6 724.8,1057.0 723.6,1052.2 723.9,1048.2 725.0,1045.2 725.6,1041.7 726.5,1038.1 724.6,1040.6 728.9,1022.3 727.4,1017.5 729.0,1014.0 728.7,1014.2 729.7,1012.4 731.1,1010.7 730.3,1009.4 731.9,996.7 730.4,1002.2 731.5,1003.6 732.7,996.1 732.9,993.7 732.6,988.4 734.9,980.4 735.8,973.8 737.6,955.1 739.1,953.5 738.2,950.7 741.3,949.3 739.3,948.5 742.3,936.5 744.9,929.1 745.6,927.8 750.0,914.8 750.8,917.3 764.7,915.0 771.0,921.1 776.8,926.8 778.4,927.1 780.7,932.6 781.3,936.5 781.8,935.2 783.9,946.8 728.0,1073.1 721.5,1070.2 724.2,1067.1 725.4,1057.3 725.2,1045.5 727.9,1057.1 731.0,1041.6 731.4,1032.4 728.8,1035.7 734.5,1026.7 748.0,1047.6 799.8,991.1 748.8,1029.0 795.9,965.5 768.2,991.4 834.1,885.9 828.5,962.2 911.0,763.6 836.9,893.0 830.0,921.8 818.0,970.3 853.8,954.2 838.9,947.1 844.3,962.7 855.5,911.0 915.6,856.8 929.9,708.6 888.2,813.4 744.7,1029.2 854.7,836.1 909.2,830.8 856.9,854.8 932.9,733.5 786.4,978.1 846.1,957.7 848.9,876.2 883.2,882.4 861.2,900.6 843.4,925.5 890.1,868.6 876.5,904.5 773.4,1020.0 950.9,865.5 827.0,950.5 891.2,920.0 793.6,941.0 758.4,1049.1 877.7,863.2 791.0,968.0 824.5,980.8 792.7,1000.8 897.1,792.5 862.6,889.6 886.7,836.4 823.7,948.4 935.3,712.4 928.6,822.4 850.9,951.1 803.6,954.4 856.2,853.2 801.2,987.1 899.7,802.3 838.1,940.4 900.6,841.1 842.9,985.1 865.6,882.1 815.8,960.5 777.0,1032.1 876.0,864.9 864.1,855.5 746.0,1064.1 926.4,756.3 885.8,888.7 938.2,713.7 816.3,936.9 813.0,962.5 908.5,831.2 932.1,808.0 753.0,1045.6 928.1,718.3 779.0,988.4 874.9,943.1 858.2,957.4 942.1,856.4 903.6,887.7 904.2,923.2 834.9,972.9 760.9,1027.9 750.9,1024.6 789.3,999.2 947.6,762.6 813.4,920.7 848.2,911.7 789.0,996.3 767.8,1062.9 923.6,883.0 909.7,770.8 759.6,1059.4 952.7,820.1 951.5,751.7 879.3,862.1 868.3,898.4 939.8,886.7 884.0,847.5 867.0,826.9 863.5,858.1 776.1,1034.2 893.1,855.1 895.9,791.1 809.2,985.4 804.3,911.0 811.4,1012.0 766.5,1042.9 948.1,737.7 817.5,931.7 821.9,979.1 918.5,865.4 805.8,991.7 934.1,755.5 760.7,1027.6 938.9,750.7 780.2,1042.4 812.1,1019.2 868.6,832.4 764.8,1017.9 745.6,1066.6 906.6,772.3 870.6,869.0 833.2,886.4 847.5,941.5 912.7,828.3 757.6,999.7 884.2,773.0 914.9,781.0 779.4,971.8 846.9,963.7 933.5,852.0 782.3,971.2 781.0,978.4 788.5,953.0 755.8,1029.8 829.1,953.0 802.4,949.6 953.9,709.1 781.9,1029.4 946.6,727.0 808.0,1002.1 916.6,899.2 941.0,739.8 885.4,885.0 808.5,982.4 914.1,859.3 798.0,1003.6 754.2,1054.7 815.1,1017.3 774.7,1042.4 771.0,1055.6 769.1,1000.6 894.2,807.6 819.2,940.9 851.9,867.1 869.8,831.9 809.9,954.4 814.0,970.6 921.6,735.6 791.9,1008.0 925.6,735.9 841.2,952.4 772.2,1028.1 948.9,803.1 741.7,1043.8 763.4,1014.0 897.7,811.5 821.1,971.8 942.8,778.2 896.3,797.3 830.5,890.8 784.2,976.3 920.1,741.0 752.1,1051.6 747.1,1068.3 887.7,806.0 853.1,876.2 921.0,866.6 849.9,866.6 798.6,974.5 820.2,973.6 944.7,855.7 901.0,784.2 742.3,1039.2 806.4,970.5 910.9,834.3 860.8,910.1 881.5,823.3 762.0,1055.1 889.2,810.1 826.2,893.0 857.4,886.9 773.8,984.9 880.1,838.0 943.5,855.0 905.8,793.1 930.9,825.5 922.4,851.1 799.5,991.3 775.8,999.5 743.7,1041.6 755.2,1040.3 892.2,842.9 872.9,868.7 930.4,838.3 783.2,988.8 784.9,1014.6 912.1,781.8 831.7,973.9 832.7,877.2 873.4,840.7 878.2,895.7 895.0,838.5 945.4,732.8 923.0,863.2 840.2,926.7 756.3,1026.8 749.4,1041.6 801.1,1009.0 858.8,934.0 797.0,992.0 819.9,930.7 916.0,808.2 762.8,1016.6 750.3,1077.6 771.2,1002.8 766.1,998.5 925.0,851.8 825.5,903.1 935.4,848.4 795.1,963.8 901.9,807.6 803.4,963.8 794.5,943.5 904.7,784.1 842.2,886.8 764.9,1025.2 836.4,919.3 936.6,751.9 880.5,844.1 903.0,881.9 891.2,895.0 919.4,869.1 864.8,868.1 827.9,981.1 839.5,883.7 835.4,912.9 851.6,824.9 807.1,976.5 937.8,700.5 927.3,825.3 823.2,899.3 753.2,1011.2 785.4,1015.3 898.4,753.5 871.1,850.4 859.6,901.8 940.6,854.2 949.8,747.5 758.6,1058.6 917.9,734.2 907.7,767.8 952.9,785.5 874.5,810.1 777.7,995.0 769.6,1021.4 866.1,944.4 882.2,889.7 790.2,1017.5 946.2,720.4 872.2,823.5 743.2,1038.2 845.1,957.0 787.2,1046.0 781.9,1136.5 952.2,995.4 824.9,1081.7 814.0,1126.0 898.9,1023.0 870.9,1114.4 880.9,1055.3 850.2,1044.7 855.8,1127.5 1001.4,1102.0 1003.0,1053.0 820.9,1100.6 994.8,1099.5 791.6,1142.7 917.5,1022.5 879.2,1085.3 858.8,1109.8 892.9,1061.9 925.3,1093.2 908.4,1140.0 978.4,1064.5 889.0,1092.3 910.5,1037.9 996.4,1078.5 956.8,1116.2 798.3,1144.3 867.0,1114.7 962.2,1043.6 794.3,1107.5 801.4,1080.2 926.4,1002.6 837.0,1131.7 942.8,1022.1 920.9,1120.2 826.0,1133.8 988.6,1001.2 947.0,1125.4 832.9,1098.7 937.7,989.9 944.6,1027.6 829.6,1063.6 786.8,1105.9 904.9,1106.2 846.7,1125.6 913.0,1006.7 933.4,1008.5 965.1,1003.1 788.5,1123.3 815.3,1061.5 898.1,1073.7 805.3,1134.4 876.4,1081.2 957.7,1118.5 845.0,1080.8 973.9,988.6 840.8,1082.0 808.6,1135.9 930.0,1130.7 975.1,1061.1 970.7,1011.1 991.7,1117.9 885.2,1126.9 860.9,1108.2 864.4,1098.1 984.4,1072.5 1174.5,1049.9 1043.9,1092.5 1073.6,1063.6 1118.6,903.0 1066.9,1080.4 1062.1,895.0 1018.4,891.6 1037.2,888.0 1025.1,1086.8 1100.4,1004.0 1155.6,1014.0 984.5,955.2 1162.8,1075.9 1145.1,953.5 980.3,998.5 1057.0,906.2 1102.2,876.4 1140.5,814.0 1123.4,1015.5 991.9,984.1 1189.7,926.8 1195.1,744.9 1000.5,1000.7 1108.6,1087.3 1083.4,948.1 1014.4,928.0 1050.3,979.2 1091.0,868.7 1166.3,980.8 1134.9,992.8 1006.2,1074.8 1181.0,961.7 992.4,1010.6 1023.0,946.3 1086.8,988.8 996.1,992.0 1187.8,864.9 1059.6,888.4 1153.2,1027.7 983.2,1073.0 1114.0,894.7 1146.9,972.4 1050.2,1012.3 1161.8,795.8 1010.9,916.4 1177.0,1087.3 1099.7,1111.5 1069.1,988.3 1194.5,989.3 1093.9,991.1 1038.4,1113.2 1032.6,1110.8 1119.5,890.3 1137.2,1090.5 1052.8,1024.7 1135.6,903.1 1113.4,940.4 1186.9,894.6 1103.0,888.7 1195.6,874.9 1142.2,937.8 1123.9,903.3 1036.3,941.3 1107.2,934.3 1020.4,972.8 1180.2,948.7 1014.3,1003.1 1089.3,938.8 1065.2,947.8 1159.6,868.6 1164.2,920.0 1055.3,921.5 1026.9,1009.8 1082.9,894.0 1107.4,589.2 1089.6,726.0 1138.7,755.0 1187.7,604.5 958.4,861.0 1098.2,762.8 1063.1,751.0 1157.9,639.5 1152.2,612.3 1049.2,787.1 1025.4,869.2 1180.7,514.3 1069.6,617.4 1171.0,645.4 1019.8,775.1 974.3,864.9 1081.9,763.4 1011.9,789.1 1129.2,683.6 1043.7,725.5 985.8,837.7 1206.1,564.4 1121.7,697.6 1003.4,888.1 976.7,863.1 1161.7,515.8 1053.1,734.0 1101.9,600.8 1011.4,740.1 1116.9,618.1 1171.5,523.1 990.0,829.0 1140.0,584.8 1047.4,772.2 1037.9,726.3 1076.7,630.8 977.1,814.4 1121.3,696.2 1091.1,674.6 968.4,846.0 1152.9,534.9 1130.6,615.8 980.8,831.2 1095.1,675.6 1136.1,583.1 1107.1,674.2 1003.5,708.8 1087.9,630.7 1068.8,721.6 1042.9,735.0 1148.7,529.4 999.5,811.3 1075.6,633.3 1166.0,588.2 960.4,876.4 1062.3,717.8 1032.2,700.0 1022.8,694.9 994.9,785.3 965.6,773.5 1015.5,814.4"/><polyline fill="none" stroke="none" marker-start="url(#mb)" marker-mid="url(#mb)" marker-end="url(#mb)" points="716.5,1118.8 707.7,1127.4 709.0,1122.9 692.9,1119.2 722.5,1118.6 714.4,1120.0 721.4,1120.0 703.1,1122.8 690.8,1123.0 707.1,1115.9 714.1,1117.4 710.8,1118.7 723.1,1118.8 691.5,1124.9 696.9,1124.5 701.3,1128.3 702.8,1124.8 716.9,1116.7 698.5,1122.9 724.9,1121.0 698.7,1123.3 696.2,1119.7 720.0,1121.5 713.6,1125.0 700.6,1124.3 714.5,1119.4 691.9,1123.9 717.8,1120.1 718.9,1120.0 712.2,1119.5 702.4,1124.9 707.4,1114.5 706.1,1119.3 721.0,1123.9 696.6,1122.8 703.6,1122.3 716.2,1125.1 700.5,1124.8 724.5,1121.1 692.4,1122.3 723.6,1121.6 715.0,1119.3 720.3,1119.8 704.0,1120.4 724.0,1124.6 701.9,1121.2 695.1,1121.3 709.8,1125.5 710.2,1119.6 710.4,1124.2 697.9,1116.4 711.1,1123.6 694.2,1122.4 699.4,1125.5 722.2,1120.4 694.6,1128.3 720.7,1120.0 693.6,1119.4 713.2,1123.4 700.1,1118.8 718.2,1121.6 705.1,1124.1 722.8,1119.5 719.4,1121.9 712.2,1117.6 701.7,1128.4 711.5,1118.4 709.1,1118.5 693.5,1124.4 705.3,1122.0 718.6,1125.2 691.0,1124.9 704.1,1121.3 692.4,1125.7 706.5,1120.8 712.7,1120.1 708.5,1117.0 708.1,1122.3 697.4,1120.0 715.5,1120.4 705.6,1122.9 699.6,1121.3 716.0,1120.8 695.3,1123.5 717.5,1122.5 697.5,1120.5 721.9,1117.3 704.7,1122.8 695.7,1121.5 690.2,1127.2 755.8,1064.8 756.4,1074.5 802.9,1066.3 716.6,1124.1 788.1,1118.9 729.5,1113.8 772.4,1103.4 740.3,1046.9 742.5,1075.4 820.8,994.9 731.3,1080.0 824.3,1000.6 781.2,1007.4 728.3,1137.8 827.6,977.9 710.8,1119.8 804.7,992.8 753.2,1079.3 814.8,998.4 744.6,1107.2 745.3,1076.4 785.1,1069.6 798.9,1051.3 741.5,1081.9 760.4,1033.9 798.5,1014.9 715.2,1088.3 823.0,973.5 789.8,990.4 732.0,1093.5 828.6,920.8 781.6,1014.7 792.8,952.3 773.5,1129.1 821.6,985.6 743.8,1129.3 788.3,1010.8 714.0,1104.5 711.5,1133.6 806.6,960.5 818.2,1033.4 712.9,1090.2 794.9,996.8 792.5,1047.2 768.8,1052.8 801.8,1028.1 725.8,1110.9 805.3,1050.7 732.3,1074.6 826.4,993.7 810.7,996.5 765.8,1061.7 790.8,1021.3 813.0,1009.5 718.4,1113.4 825.1,974.4 711.8,1129.7 759.1,1067.1 745.7,1059.7 775.9,1042.4 714.4,1138.6 806.8,1054.5 758.3,1061.8 763.9,1044.9 721.9,1100.2 796.4,1051.4 709.4,1133.4 738.8,1042.8 784.7,1056.5 720.0,1121.5 749.1,1071.7 750.9,1080.3 779.8,1075.1 803.2,997.8 793.7,1050.5 809.8,1064.1 757.2,1127.3 830.7,942.5 771.0,1026.5 826.1,1001.9 762.6,1062.2 768.4,1007.1 709.1,1116.9 734.4,1116.6 726.1,1084.6 741.3,1120.6 751.7,1056.3 800.9,1050.5 755.3,1044.3 769.7,1039.9 763.3,1076.9 778.9,1026.5 767.7,995.2 720.2,1112.4 797.7,991.9 782.7,937.7 717.7,1105.5 737.4,1113.8 726.9,1099.0 733.2,1117.8 716.1,1120.5 814.0,1021.5 807.8,984.2 819.0,1115.4 721.3,1111.1 776.3,1054.6 830.9,1053.8 729.9,1090.8 785.7,1057.4 771.6,1096.5 812.2,1097.7 710.3,1120.2 811.9,980.1 795.3,974.8 754.2,1134.4 799.8,1067.1 759.9,1061.7 778.1,1057.6 752.5,1078.0 791.0,1043.5 739.7,1081.7 829.7,951.5 727.7,1116.0 724.3,1090.6 816.0,969.6 718.7,1127.4 733.9,1101.3 783.4,1090.4 766.4,1070.0 778.0,1073.4 746.9,1020.9 736.6,1077.3 713.3,1127.6 816.8,983.1 774.0,1052.6 748.0,1056.0 822.0,995.4 761.4,1096.1 787.2,1021.2 747.4,1091.6 723.6,1097.5 819.9,917.9 750.2,1075.3 725.2,1131.9 764.7,1069.5 722.7,1083.9 808.6,951.0 737.5,1057.4 735.8,1094.3 774.7,1113.5 762.6,1117.8 754.6,1116.5 760.0,1116.2 766.2,1116.4 735.9,1116.8 758.1,1115.9 734.0,1116.9 750.1,1117.7 751.5,1116.7 741.1,1118.4 744.1,1118.2 745.1,1118.2 748.0,1043.8 799.8,990.6 748.8,1032.9 795.9,947.5 768.2,984.6 834.1,897.4 828.5,996.2 911.0,772.8 836.9,900.5 830.0,929.2 818.0,954.1 853.8,922.1 838.9,934.7 844.3,975.8 855.5,904.5 915.6,870.8 929.9,731.5 888.2,826.7 744.7,1030.5 854.7,860.8 909.2,834.3 856.9,849.2 932.9,730.2 786.4,971.3 846.1,943.7 848.9,874.0 883.2,873.3 861.2,889.9 843.4,931.7 890.1,860.5 876.5,922.2 773.4,1041.5 950.9,877.7 827.0,968.2 891.2,932.5 793.6,944.0 758.4,1048.1 877.7,865.7 791.0,956.1 824.5,986.1 792.7,1006.2 897.1,791.1 862.6,884.3 886.7,844.1 823.7,963.0 935.3,704.4 928.6,838.1 850.9,947.1 803.6,933.3 856.2,848.6 801.2,989.1 899.7,799.0 838.1,936.2 900.6,838.1 842.9,962.6 865.6,865.2 815.8,964.3 777.0,1016.1 876.0,867.3 864.1,872.3 746.0,1069.5 926.4,758.5 885.8,897.3 938.2,713.2 816.3,917.5 813.0,968.5 908.5,839.6 932.1,784.4 753.0,1062.7 928.1,747.3 779.0,992.7 874.9,947.7 858.2,948.8 942.1,833.7 903.6,906.9 904.2,904.7 834.9,986.2 760.9,1039.0 750.9,1002.9 789.3,998.4 947.6,768.6 813.4,917.4 848.2,923.9 789.0,991.4 767.8,1045.4 923.6,878.9 909.7,745.4 759.6,1054.3 952.7,828.9 951.5,738.9 879.3,856.7 868.3,901.8 939.8,883.9 884.0,858.9 867.0,837.1 863.5,836.8 776.1,1055.8 893.1,859.4 895.9,781.1 809.2,997.2 804.3,917.2 811.4,986.9 766.5,1042.3 948.1,740.5 817.5,927.9 821.9,975.9 918.5,882.8 805.8,983.7 934.1,759.9 760.7,1004.3 938.9,762.5 780.2,1054.0 812.1,1001.7 868.6,845.7 764.8,1042.2 745.6,1051.9 906.6,764.6 870.6,867.7 833.2,883.5 847.5,931.5 912.7,831.4 757.6,1013.1 884.2,788.3 914.9,754.8 779.4,977.8 846.9,961.2 933.5,850.4 782.3,1001.2 781.0,970.6 788.5,953.5 755.8,1027.4 829.1,935.6 802.4,955.3 953.9,734.6 781.9,1022.9 946.6,714.9 808.0,1006.4 916.6,899.5 941.0,748.8 885.4,879.8 808.5,989.4 914.1,839.4 798.0,1027.7 754.2,1046.6 815.1,1014.4 774.7,1048.7 771.0,1037.3 769.1,1001.4 894.2,823.1 819.2,944.1 851.9,855.6 869.8,830.0 809.9,952.8 814.0,961.0 921.6,741.1 791.9,1020.9 925.6,729.5 841.2,955.8 772.2,1004.1 948.9,800.2 741.7,1050.6 763.4,1018.9 897.7,824.6 821.1,974.4 942.8,775.1 896.3,818.1 830.5,880.6 784.2,968.3 920.1,751.2 752.1,1074.3 747.1,1070.7 887.7,810.8 853.1,871.3 921.0,851.4 849.9,879.2 798.6,974.2 820.2,993.2 944.7,849.6 901.0,779.8 742.3,1032.7 806.4,964.2 910.9,842.9 860.8,898.5 881.5,817.1 762.0,1034.8 889.2,790.3 826.2,905.3 857.4,891.1 773.8,996.2 880.1,828.0 943.5,854.9 905.8,818.2 930.9,821.1 922.4,835.7 799.5,998.8 775.8,1005.7 743.7,1033.8 755.2,1040.7 892.2,869.5 872.9,850.4 930.4,830.3 783.2,1006.7 784.9,988.9 912.1,786.7 831.7,966.3 832.7,887.2 873.4,836.1 878.2,904.6 895.0,845.8 945.4,728.9 923.0,862.6 840.2,951.3 756.3,1022.8 749.4,1041.6 801.1,990.0 858.8,944.4 797.0,1002.5 819.9,947.4 916.0,802.2 762.8,1037.2 750.3,1081.6 771.2,1011.5 766.1,992.2 925.0,868.7 825.5,888.1 935.4,871.2 795.1,958.3 901.9,804.5 803.4,947.9 794.5,962.9 904.7,805.1 842.2,900.0 764.9,1013.7 836.4,930.7 936.6,755.1 880.5,842.9 903.0,885.1 891.2,894.3 919.4,861.3 864.8,857.7 827.9,977.6 839.5,877.7 835.4,902.7 851.6,836.5 807.1,956.4 937.8,705.6 927.3,811.1 823.2,903.1 753.2,1015.7 785.4,1006.9 898.4,791.6 871.1,835.6 859.6,897.2 940.6,871.6 949.8,734.0 758.6,1081.4 917.9,733.3 907.7,766.3 952.9,774.0 874.5,809.0 777.7,1013.6 769.6,1028.4 866.1,948.2 882.2,893.3 790.2,1016.8 946.2,717.7 872.2,835.9 743.2,1052.2 845.1,950.1 787.2,1033.0 781.9,1125.4 952.2,979.9 824.9,1090.4 814.0,1119.3 898.9,1009.0 870.9,1086.1 880.9,1075.9 850.2,1081.0 855.8,1131.6 1001.4,1073.5 1003.0,1037.3 820.9,1093.5 994.8,1076.2 791.6,1142.7 917.5,1030.4 879.2,1053.4 858.8,1092.1 892.9,1062.1 925.3,1051.7 908.4,1118.4 978.4,1046.9 889.0,1084.0 910.5,1018.7 996.4,1076.0 956.8,1114.4 798.3,1142.1 867.0,1105.0 962.2,1032.7 794.3,1114.0 801.4,1086.9 926.4,1008.3 837.0,1121.0 942.8,1025.4 920.9,1111.0 826.0,1129.2 988.6,1006.2 947.0,1098.3 832.9,1089.3 937.7,1010.0 944.6,1026.6 829.6,1071.4 786.8,1111.1 904.9,1093.6 846.7,1129.6 913.0,997.5 933.4,1002.6 965.1,990.0 788.5,1112.8 815.3,1075.1 898.1,1079.7 805.3,1115.0 876.4,1074.3 957.7,1130.1 845.0,1080.2 973.9,987.6 840.8,1076.2 808.6,1139.1 930.0,1123.2 975.1,1033.6 970.7,985.8 991.7,1086.6 885.2,1136.1 860.9,1087.6 864.4,1086.9 984.4,1079.1 1174.5,1012.9 1043.9,1047.7 1073.6,1030.9 1118.6,859.4 1066.9,1017.9 1062.1,876.7 1018.4,877.0 1037.2,892.6 1025.1,1048.9 1100.4,949.4 1155.6,981.6 984.5,934.9 1162.8,1019.3 1145.1,935.6 980.3,973.4 1057.0,907.8 1102.2,836.3 1140.5,801.6 1123.4,993.5 991.9,974.2 1189.7,882.6 1195.1,723.5 1000.5,965.1 1108.6,1038.0 1083.4,922.7 1014.4,894.3 1050.3,931.6 1091.0,834.2 1166.3,929.9 1134.9,937.6 1006.2,1043.9 1181.0,889.9 1052.8,952.3 1135.6,848.6 1113.4,920.6 1186.9,819.3 1103.0,857.1 1195.6,812.0 1142.2,887.2 1123.9,862.7 1036.3,904.1 1107.2,891.4 1020.4,928.9 1180.2,887.1 1014.3,971.2 1089.3,908.9 1065.2,934.2 1159.6,803.2 1164.2,857.1 1055.3,895.3 1026.9,976.4 1082.9,872.3 1107.4,593.3 1089.6,713.5 1138.7,725.9 1187.7,598.5 958.4,847.6 1098.2,752.7 1063.1,733.5 1157.9,652.9 1152.2,619.5 1049.2,760.3 1025.4,885.5 1180.7,510.1 1069.6,614.6 1171.0,641.2 1019.8,784.1 974.3,866.9 1081.9,766.7 1011.9,768.8 1129.2,683.9 1043.7,705.4 985.8,836.7 1206.1,564.7 1121.7,692.7 1003.4,880.8 976.7,862.9 1161.7,478.1 1053.1,698.8 1101.9,565.7 1011.4,725.4 1116.9,605.3 1171.5,493.9 990.0,802.0 1140.0,539.1 1047.4,750.3 1037.9,709.9 1076.7,583.5 977.1,801.2 1121.3,649.4 1091.1,674.5 968.4,850.9 1152.9,506.9 1130.6,593.6 980.8,805.2 1095.1,652.0 1136.1,549.6 1107.1,655.4 1003.5,689.7 1087.9,623.6 1068.8,742.2 1042.9,717.2 1148.7,503.5 999.5,805.2 1075.6,613.6 1166.0,538.5 960.4,827.7 1062.3,676.6 1032.2,698.7 1022.8,681.9 994.9,759.6 965.6,744.0 1015.5,776.6"/><polyline fill="none" stroke="none" marker-start="url(#mg)" marker-mid="url(#mg)" marker-end="url(#mg)" points="696.1,1098.5 705.1,1096.4 763.5,1055.3 772.6,1065.2 729.1,1105.2 700.6,1089.9 711.1,1086.4 716.9,1094.1 721.3,1110.4 713.2,1080.7 724.8,1110.8 769.7,1104.1 691.8,1111.5 731.9,1094.1 721.0,1109.9 700.4,1096.5 734.4,1111.2 733.0,1091.3 735.4,1072.6 712.4,1096.9 735.8,1098.6 692.6,1105.7 738.1,1085.2 719.3,1090.1 705.5,1102.8 710.2,1086.2 695.0,1105.1 757.4,1055.3 700.9,1094.6 690.6,1111.6 732.3,1074.7 742.0,1087.4 763.1,1112.4 739.3,1107.9 690.7,1104.5 741.0,1073.9 707.1,1109.7 760.7,1060.6 762.3,1081.2 756.5,1063.8 730.2,1104.1 701.2,1093.8 697.1,1108.6 742.9,1073.1 753.1,1062.8 764.6,1108.7 709.3,1095.9 732.2,1103.3 707.8,1098.9 729.5,1083.8 693.6,1097.7 719.6,1084.9 754.1,1109.8 698.8,1114.3 711.0,1100.5 747.8,1080.1 708.3,1089.2 720.6,1077.1 768.3,1076.4 776.1,1049.1 700.1,1091.9 727.1,1073.5 700.2,1093.8 703.5,1094.7 738.9,1089.3 777.6,1110.7 717.8,1102.4 772.3,1056.3 695.2,1091.4 768.9,1071.9 691.0,1107.3 736.4,1084.6 697.6,1114.3 702.0,1096.8 760.4,1054.2 723.9,1106.9 731.1,1101.8 695.7,1094.7 771.3,1090.7 708.5,1091.6 725.3,1079.1 737.2,1071.5 729.7,1072.0 746.4,1092.1 720.0,1077.2 694.4,1097.6 694.1,1094.7 768.6,1100.1 722.6,1094.4 739.4,1084.8 702.5,1092.5 704.4,1091.1 711.4,1100.7 776.7,1044.6 761.3,1085.7 750.7,1062.9 740.6,1076.9 706.2,1100.8 699.6,1104.9 733.6,1073.5 724.3,1075.6 690.1,1103.8 723.7,1093.1 778.6,1083.6 760.2,1052.5 723.2,1088.6 748.1,1110.5 736.8,1071.7 718.2,1109.9 734.7,1078.8 728.6,1086.7 765.2,1098.0 752.5,1096.4 754.9,1054.7 764.9,1097.1 774.9,1079.2 720.4,1092.9 718.8,1103.9 705.8,1103.7 724.6,1080.9 745.0,1094.1 692.3,1098.7 779.0,1095.3 701.7,1092.0 732.7,1072.3 747.3,1104.1 691.1,1101.6 694.9,1106.5 756.9,1069.0 692.0,1100.4 761.3,1109.5 740.1,1102.6 750.0,1108.2 731.6,1094.2 776.3,1058.9 693.9,1116.0 743.6,1063.3 730.9,1087.1 696.2,1106.4 726.0,1085.0 693.8,1101.3 703.0,1100.7 738.6,1109.7 712.1,1086.4 701.3,1109.4 740.3,1080.1 691.2,1112.1 725.9,1085.2 729.0,1094.9 725.4,1088.9 757.6,1110.0 727.0,1074.9 715.2,1106.1 771.8,1074.1 690.4,1099.4 759.8,1087.6 718.1,1109.6 704.1,1106.4 744.5,1086.1 698.3,1102.7 699.1,1097.1 735.0,1092.1 774.3,1098.9 693.0,1114.5 770.4,1104.2 696.5,1099.1 715.3,1087.7 691.4,1100.1 775.7,1044.4 693.2,1108.6 695.8,1098.2 761.9,1102.8 742.2,1089.0 727.4,1077.7 691.9,1107.6 778.3,1081.1 771.8,1082.0 770.8,1080.5 759.1,1108.4 710.4,1095.0 708.7,1091.3 768.0,1070.8 746.8,1073.2 774.8,1046.8 766.5,1075.0 717.4,1082.0 703.9,1109.3 748.9,1097.2 716.1,1096.1 766.7,1063.8 696.7,1114.3 704.9,1108.1 744.3,1091.6 698.1,1097.8 695.4,1100.8 717.3,1103.3 693.1,1109.5 763.9,1084.6 722.1,1091.2 733.3,1087.1 755.9,1099.7 773.9,1081.9 699.7,1100.1 745.7,1074.5 773.1,1072.6 769.4,1074.6 716.4,1106.5 694.7,1110.4 751.4,1078.3 692.8,1104.2 716.7,1084.8 741.6,1068.9 694.5,1111.3 711.7,1084.0 691.4,1101.3 712.9,1091.5 758.0,1063.8 726.7,1097.6 754.3,1065.6 721.5,1114.8 766.1,1063.0 767.4,1094.3 755.6,1083.3 715.6,1091.1 713.8,1097.0 691.6,1102.7 777.1,1102.6 734.1,1087.6 770.9,1059.3 750.3,1068.6 714.3,1112.2 727.7,1095.2 737.5,1075.2 703.1,1109.8 736.0,1107.1 767.1,1098.0 762.7,1115.0 749.2,1073.2 702.7,1095.7 743.9,1100.3 730.3,1117.1 752.2,1088.3 722.9,1104.5 697.5,1111.5 715.8,1085.6 699.2,1102.2 712.2,1100.2 753.8,1102.2 770.0,1097.9 737.6,1079.8 751.2,1095.1 705.9,1116.2 779.4,1097.4 756.4,1084.2 741.4,1069.7 745.4,1105.7 753.4,1058.2 777.2,1048.2 748.4,1070.3 762.1,1103.8 704.5,1087.1 743.3,1091.0 714.6,1099.5 696.7,1092.0 742.4,1111.9 706.6,1106.0 758.8,1062.9 726.4,1110.4 709.1,1082.9 746.0,1108.1 735.7,1084.7 701.5,1099.8 754.8,1100.4 721.7,1088.6 728.0,1081.7 709.6,1093.0 706.9,1107.3 728.4,1100.8 702.2,1087.4 758.1,1076.9 752.7,1064.1 705.2,1096.3 712.8,1084.6 765.8,1051.1 722.4,1116.1 778.1,1048.0 707.7,1086.6 734.0,1104.6 703.5,1103.1 773.7,1114.1 749.8,1101.2 730.5,1087.7 775.3,1046.8 714.9,1090.3 698.8,1113.5 759.4,1111.6 692.3,1099.8 708.9,1094.7 751.0,1100.0 719.0,1104.1 738.1,1101.4 713.6,1099.6 718.7,1093.8 710.0,1099.2 755.3,1089.9 764.1,1112.5 749.5,1096.3 720.1,1097.1 767.8,1090.3 697.3,1099.3 723.6,1103.5 690.3,1103.2 764.5,1070.5 758.6,1071.7 743.2,1070.1 698.4,1089.3 747.4,1082.5 773.4,1055.5 746.1,1094.1 707.4,1113.0 779.6,1084.6 752.0,1073.9 690.5,1114.0 690.2,1108.7 693.5,1093.9 706.6,1095.1 697.8,1108.6 739.7,1089.5 710.6,1089.8 714.1,1091.8 809.2,1015.0 760.3,1058.5 821.6,1004.0 822.6,1051.4 782.7,1053.5 797.0,1086.2 806.4,1081.2 799.7,1036.1 793.7,1072.4 788.0,1092.2 752.6,1089.8 785.7,1063.3 770.7,1049.8 773.3,1038.0 778.4,1073.8 786.5,1063.7 762.4,1081.6 817.9,1089.1 740.2,1044.4 735.9,1080.9 781.9,1067.8 823.5,1013.9 742.4,1102.3 755.4,1104.8 738.8,1090.8 818.3,1051.4 807.9,1023.1 761.0,1067.2 783.1,1098.5 791.5,1063.7 754.2,1063.8 743.8,1074.8 755.9,1079.7 751.2,1069.1 776.7,1105.4 741.2,1057.8 757.9,1075.2 774.2,1060.1 824.9,1082.3 749.0,1091.4 792.5,1015.6 735.7,1064.2 808.7,1008.4 811.5,1106.6 743.4,1068.9 768.7,1069.8 753.5,1069.8 769.4,1094.9 788.7,1067.9 820.3,1000.2 772.2,1103.9 766.8,1101.1 746.9,1064.9 775.3,1057.5 767.2,1053.9 764.0,1075.2 765.1,1109.8 804.3,1045.0 745.3,1052.0 797.7,1021.4 748.7,1104.1 771.0,1091.9 810.9,1048.1 790.7,1041.0 738.3,1088.8 749.8,1069.3 746.3,1075.4 814.9,1062.8 795.3,1028.9 763.6,1075.4 806.0,1076.2 802.4,1077.3 801.0,1107.4 737.0,1108.3 813.2,1031.2 789.7,1097.1 803.9,1089.9 801.0,1073.4 816.7,1058.3 819.4,1046.4 777.0,1039.4 779.7,1064.3 815.2,1021.1 759.6,1080.1 780.8,1036.5 798.7,1094.6 794.8,1060.8 784.0,1084.7 812.5,1044.0 757.6,1048.6 748.0,1060.3 799.8,994.1 748.8,1041.7 795.9,958.1 768.2,1014.4 834.1,903.0 828.5,979.9 911.0,771.9 836.9,914.5 830.0,936.8 818.0,962.4 853.8,924.1 838.9,949.9 844.3,964.2 855.5,904.2 915.6,873.9 929.9,730.5 888.2,818.8 744.7,1052.5 854.7,842.5 909.2,849.6 856.9,852.9 932.9,745.2 786.4,974.9 846.1,941.2 848.9,882.5 883.2,894.3 861.2,895.0 843.4,926.4 890.1,864.7 876.5,912.3 773.4,1039.0 950.9,863.9 827.0,976.2 891.2,924.9 793.6,965.3 758.4,1049.7 877.7,876.8 791.0,985.8 824.5,1008.0 792.7,1015.6 897.1,803.4 862.6,880.2 886.7,846.2 823.7,957.8 935.3,719.6 928.6,827.8 850.9,976.4 803.6,967.3 856.2,862.0 801.2,995.6 899.7,803.4 838.1,954.7 900.6,846.9 842.9,978.9 865.6,883.0 815.8,973.3 777.0,1020.8 876.0,881.7 864.1,868.1 746.0,1067.8 926.4,777.8 885.8,888.6 938.2,727.3 816.3,942.7 813.0,987.6 908.5,829.4 932.1,805.1 753.0,1057.4 928.1,759.6 779.0,996.4 874.9,941.2 858.2,974.0 942.1,848.1 903.6,903.7 904.2,926.1 834.9,995.1 760.9,1029.3 750.9,1024.9 789.3,1012.4 947.6,784.2 813.4,932.6 848.2,931.5 789.0,1012.7 767.8,1048.7 923.6,884.2 909.7,764.8 759.6,1055.0 952.7,815.2 951.5,731.7 879.3,862.4 868.3,911.4 939.8,887.9 884.0,857.8 867.0,845.8 863.5,863.5 776.1,1051.5 893.1,846.5 895.9,792.8 809.2,1002.3 804.3,951.5 811.4,1003.4 766.5,1059.1 948.1,768.6 817.5,922.5 821.9,996.5 918.5,883.9 805.8,989.0 934.1,775.0 760.7,1019.2 938.9,772.5 780.2,1029.9 812.1,1015.0 868.6,853.0 764.8,1070.0 745.6,1077.9 906.6,784.0 870.6,887.3 833.2,884.2 847.5,955.6 912.7,840.4 757.6,1021.9 884.2,803.5 914.9,778.1 779.4,982.6 846.9,974.3 933.5,845.1 782.3,992.7 781.0,982.5 788.5,970.5 755.8,1031.1 829.1,955.4 802.4,943.0 953.9,724.3 781.9,1036.1 946.6,745.5 808.0,994.9 916.6,904.8 941.0,752.6 885.4,895.1 808.5,989.0 914.1,829.0 798.0,1023.7 754.2,1052.0 815.1,1018.3 774.7,1057.6 771.0,1039.7 769.1,1001.8 894.2,816.1 819.2,942.7 851.9,855.3 869.8,839.6 809.9,963.6 814.0,962.0 921.6,754.1 791.9,1013.7 925.6,749.6 841.2,957.4 772.2,1036.6 948.9,813.8 741.7,1055.3 763.4,1020.8 897.7,824.0 821.1,975.5 942.8,788.1 896.3,823.3 830.5,895.1 784.2,972.5 920.1,775.6 752.1,1083.9 747.1,1066.1 887.7,811.2 853.1,880.3 921.0,862.7 849.9,873.3 798.6,980.5 820.2,995.3 944.7,846.3 901.0,796.1 742.3,1051.7 806.4,967.8 910.9,838.9 860.8,907.7 881.5,829.6 762.0,1045.4 889.2,821.4 826.2,906.0 857.4,890.3 773.8,981.5 880.1,819.5 943.5,869.6 905.8,816.6 930.9,833.3 922.4,844.5 799.5,1005.5 775.8,1008.5 743.7,1042.8 755.2,1054.6 892.2,864.7 872.9,864.0 930.4,840.2 783.2,1006.9 784.9,1013.0 912.1,800.7 831.7,971.8 832.7,894.5 873.4,841.5 878.2,914.7 895.0,847.9 945.4,740.7 923.0,866.4 840.2,955.2 756.3,1012.2 749.4,1032.2 801.1,997.1 858.8,952.2 797.0,991.6 819.9,943.3 916.0,821.2 762.8,1032.8 750.3,1076.8 771.2,1015.8 766.1,993.0 925.0,865.5 825.5,913.9 935.4,874.2 795.1,975.0 901.9,820.7 803.4,965.8 794.5,976.5 904.7,827.0 842.2,903.7 764.9,1026.1 836.4,951.4 936.6,759.8 880.5,856.0 903.0,879.8 891.2,915.6 919.4,863.9 864.8,871.9 827.9,989.0 839.5,893.2 835.4,905.5 851.6,854.4 807.1,964.1 937.8,699.3 927.3,833.6 823.2,904.3 753.2,1022.6 785.4,1006.3 898.4,793.4 871.1,873.3 859.6,924.3 940.6,873.6 949.8,747.8 758.6,1079.6 917.9,742.1 907.7,770.0 952.9,794.7 874.5,819.0 777.7,1016.8 769.6,1027.2 866.1,952.7 882.2,907.5 790.2,1009.2 946.2,720.9 872.2,848.4 743.2,1049.8 845.1,944.5 787.2,1036.8 781.9,1139.3 952.2,982.1 824.9,1077.1 814.0,1115.9 898.9,1006.9 870.9,1097.2 880.9,1071.9 850.2,1072.9 855.8,1136.8 1001.4,1090.5 1003.0,1053.1 820.9,1082.0 994.8,1089.8 791.6,1139.1 917.5,1018.3 879.2,1080.4 858.8,1098.2 892.9,1060.3 925.3,1077.1 908.4,1126.5 978.4,1043.1 889.0,1084.8 910.5,1041.2 996.4,1087.2 956.8,1094.7 798.3,1140.0 867.0,1098.6 962.2,1053.8 794.3,1100.8 801.4,1088.7 926.4,1000.2 837.0,1125.8 942.8,1013.8 920.9,1106.9 826.0,1128.5 988.6,1006.0 947.0,1105.5 832.9,1089.1 937.7,1009.7 944.6,1039.3 829.6,1064.1 786.8,1104.4 904.9,1085.3 846.7,1141.1 913.0,996.9 933.4,1009.3 965.1,986.9 788.5,1124.8 815.3,1076.0 898.1,1090.4 805.3,1119.9 876.4,1089.9 957.7,1114.9 845.0,1072.0 973.9,986.3 840.8,1077.6 808.6,1135.1 930.0,1113.3 975.1,1025.0 970.7,1011.8 991.7,1097.7 885.2,1114.1 860.9,1107.2 864.4,1085.5 984.4,1073.7 1174.5,1018.3 1043.9,1027.0 1073.6,1028.2 1118.6,868.4 1066.9,1020.6 1062.1,860.4 1018.4,889.5 1037.2,876.6 1025.1,1036.5 1100.4,944.5 1155.6,976.6 984.5,925.9 1162.8,1006.3 1145.1,923.3 980.3,964.8 1057.0,898.4 1102.2,848.5 1140.5,802.6 1123.4,987.8 991.9,971.4 1189.7,869.0 1195.1,720.0 1000.5,966.8 1108.6,1019.1 1083.4,930.8 1014.4,897.3 1050.3,943.7 1091.0,827.3 1166.3,933.8 1134.9,934.9 1006.2,1039.9 1181.0,921.1 1052.8,949.6 1135.6,862.1 1113.4,905.0 1186.9,849.1 1103.0,864.6 1195.6,818.5 1142.2,904.6 1123.9,863.5 1036.3,913.3 1107.2,901.4 1020.4,958.9 1180.2,888.4 1014.3,966.3 1089.3,911.5 1065.2,923.6 1159.6,819.0 1164.2,872.6 1055.3,896.8 1026.9,983.6 1082.9,862.4 1107.4,584.6 1089.6,739.5 1138.7,740.8 1187.7,592.6 958.4,853.3 1098.2,765.4 1063.1,735.6 1157.9,630.4 1152.2,638.7 1049.2,746.3 1025.4,880.8 1180.7,505.5 1069.6,596.5 1171.0,652.6 1019.8,802.5 974.3,861.3 1081.9,747.5 1011.9,778.1 1129.2,700.3 1043.7,716.7 985.8,835.3 1206.1,577.3 1121.7,685.9 1003.4,892.9 976.7,848.9 1161.7,475.4 1053.1,700.3 1101.9,554.1 1011.4,728.6 1116.9,588.7 1171.5,501.0 990.0,790.2 1140.0,547.0 1047.4,786.6 1037.9,712.0 1076.7,621.1 977.1,794.5 1121.3,681.4 1091.1,659.8 968.4,846.1 1152.9,493.1 1130.6,624.4 980.8,817.3 1095.1,642.6 1136.1,557.8 1107.1,653.1 1003.5,668.7 1087.9,630.2 1068.8,740.5 1042.9,756.1 1148.7,529.8 999.5,807.7 1075.6,598.2 1166.0,550.1 960.4,842.6 1062.3,692.2 1032.2,663.9 1022.8,662.1 994.9,749.8 965.6,770.4 1015.5,806.7"/><line x1="683.0" y1="1157.9" x2="1199.9" y2="603.3" stroke="#000" stroke-width="1.7" stroke-dasharray="6.7 2.47"/><line x1="683.0" y1="1123.1" x2="1199.9" y2="719.9" stroke="#d62728" stroke-width="3.7"/><line x1="683.0" y1="1114.9" x2="1199.9" y2="822.4" stroke="#ff7f0e" stroke-width="3.7"/><line x1="683.0" y1="1112.4" x2="1199.9" y2="752.5" stroke="#1f77b4" stroke-width="3.7"/><line x1="683.0" y1="1108.7" x2="1199.9" y2="770.7" stroke="#2ca02c" stroke-width="3.7"/></g><rect x="692.6" y="613.0" width="264.8" height="247.8" rx="3.5" fill="#fff" fill-opacity="1" stroke="#d0d0d0" stroke-width="1.1"/><circle cx="719.4" cy="629.05" r="2.25" fill="#d62728"/><text x="753.5" y="634.05" font-size="19">VMD-LSTM-ED</text><path d="M719.4 653.68l2.35 4.1h-4.7z" fill="#ff7f0e"/><text x="753.5" y="660.98" font-size="19">VMD-LSTM</text><rect x="717.25" y="680.76" width="4.3" height="4.3" fill="#1f77b4"/><text x="753.5" y="687.91" font-size="19">LSTM-ED</text><path d="M717.60 708.04l3.6 3.6m0 -3.6l-3.6 3.6" stroke="#2ca02c" stroke-width="1.7"/><text x="753.5" y="714.84" font-size="19">LSTM</text><line x1="699.9" y1="735.37" x2="738.7" y2="735.37" stroke="#000" stroke-width="1.7" stroke-dasharray="6.7 2.47"/><text x="753.5" y="741.77" font-size="19">Ideal Fitline</text><line x1="698.0" y1="762.30" x2="740.5" y2="762.30" stroke="#d62728" stroke-width="3.7"/><text x="753.5" y="768.70" font-size="19">Fitline(VMD-LSTM-ED)</text><line x1="698.0" y1="789.23" x2="740.5" y2="789.23" stroke="#ff7f0e" stroke-width="3.7"/><text x="753.5" y="795.63" font-size="19">Fitline(VMD-LSTM)</text><line x1="698.0" y1="816.16" x2="740.5" y2="816.16" stroke="#1f77b4" stroke-width="3.7"/><text x="753.5" y="822.56" font-size="19">Fitline(LSTM-ED)</text><line x1="698.0" y1="843.09" x2="740.5" y2="843.09" stroke="#2ca02c" stroke-width="3.7"/><text x="753.5" y="849.49" font-size="19">Fitline(LSTM)</text><rect x="683.0" y="603.3" width="516.9" height="554.6" fill="none" stroke="#262626" stroke-width="1.7"/><line x1="683.0" y1="1157.9" x2="683.0" y2="1154.9" stroke="#262626" stroke-width="1.2"/><line x1="683.0" y1="1157.9" x2="686.0" y2="1157.9" stroke="#262626" stroke-width="1.2"/><text x="683.0" y="1180.3" font-size="26.5" text-anchor="middle">0</text><text x="680.6" y="1168.1" font-size="26.5" text-anchor="end">0</text><line x1="779.9" y1="1157.9" x2="779.9" y2="1154.9" stroke="#262626" stroke-width="1.2"/><line x1="683.0" y1="1053.9" x2="686.0" y2="1053.9" stroke="#262626" stroke-width="1.2"/><text x="779.9" y="1180.3" font-size="26.5" text-anchor="middle">1500</text><text x="680.6" y="1064.1" font-size="26.5" text-anchor="end">1500</text><line x1="876.8" y1="1157.9" x2="876.8" y2="1154.9" stroke="#262626" stroke-width="1.2"/><line x1="683.0" y1="949.9" x2="686.0" y2="949.9" stroke="#262626" stroke-width="1.2"/><text x="876.8" y="1180.3" font-size="26.5" text-anchor="middle">3000</text><text x="680.6" y="960.1" font-size="26.5" text-anchor="end">3000</text><line x1="973.8" y1="1157.9" x2="973.8" y2="1154.9" stroke="#262626" stroke-width="1.2"/><line x1="683.0" y1="845.9" x2="686.0" y2="845.9" stroke="#262626" stroke-width="1.2"/><text x="973.8" y="1180.3" font-size="26.5" text-anchor="middle">4500</text><text x="680.6" y="856.1" font-size="26.5" text-anchor="end">4500</text><line x1="1070.7" y1="1157.9" x2="1070.7" y2="1154.9" stroke="#262626" stroke-width="1.2"/><line x1="683.0" y1="742.0" x2="686.0" y2="742.0" stroke="#262626" stroke-width="1.2"/><text x="1070.7" y="1180.3" font-size="26.5" text-anchor="middle">6000</text><text x="680.6" y="752.2" font-size="26.5" text-anchor="end">6000</text><line x1="1167.6" y1="1157.9" x2="1167.6" y2="1154.9" stroke="#262626" stroke-width="1.2"/><line x1="683.0" y1="638.0" x2="686.0" y2="638.0" stroke="#262626" stroke-width="1.2"/><text x="1167.6" y="1180.3" font-size="26.5" text-anchor="middle">7500</text><text x="680.6" y="648.2" font-size="26.5" text-anchor="end">7500</text><text x="1193.4" y="1150.9" font-size="31.1" text-anchor="end">(d) 7-day ahead</text><text transform="translate(17.8 278.9) rotate(-90)" font-size="23.4" text-anchor="middle">Predictand(m³/s)</text><text transform="translate(17.8 881.1) rotate(-90)" font-size="23.4" text-anchor="middle">Predictand(m³/s)</text><text x="339.6" y="1204.8" font-size="23.3" text-anchor="middle">Observed value(m³/s)</text><text x="941.4" y="1204.8" font-size="23.3" text-anchor="middle">Observed value(m³/s)</text></svg></body></html>
